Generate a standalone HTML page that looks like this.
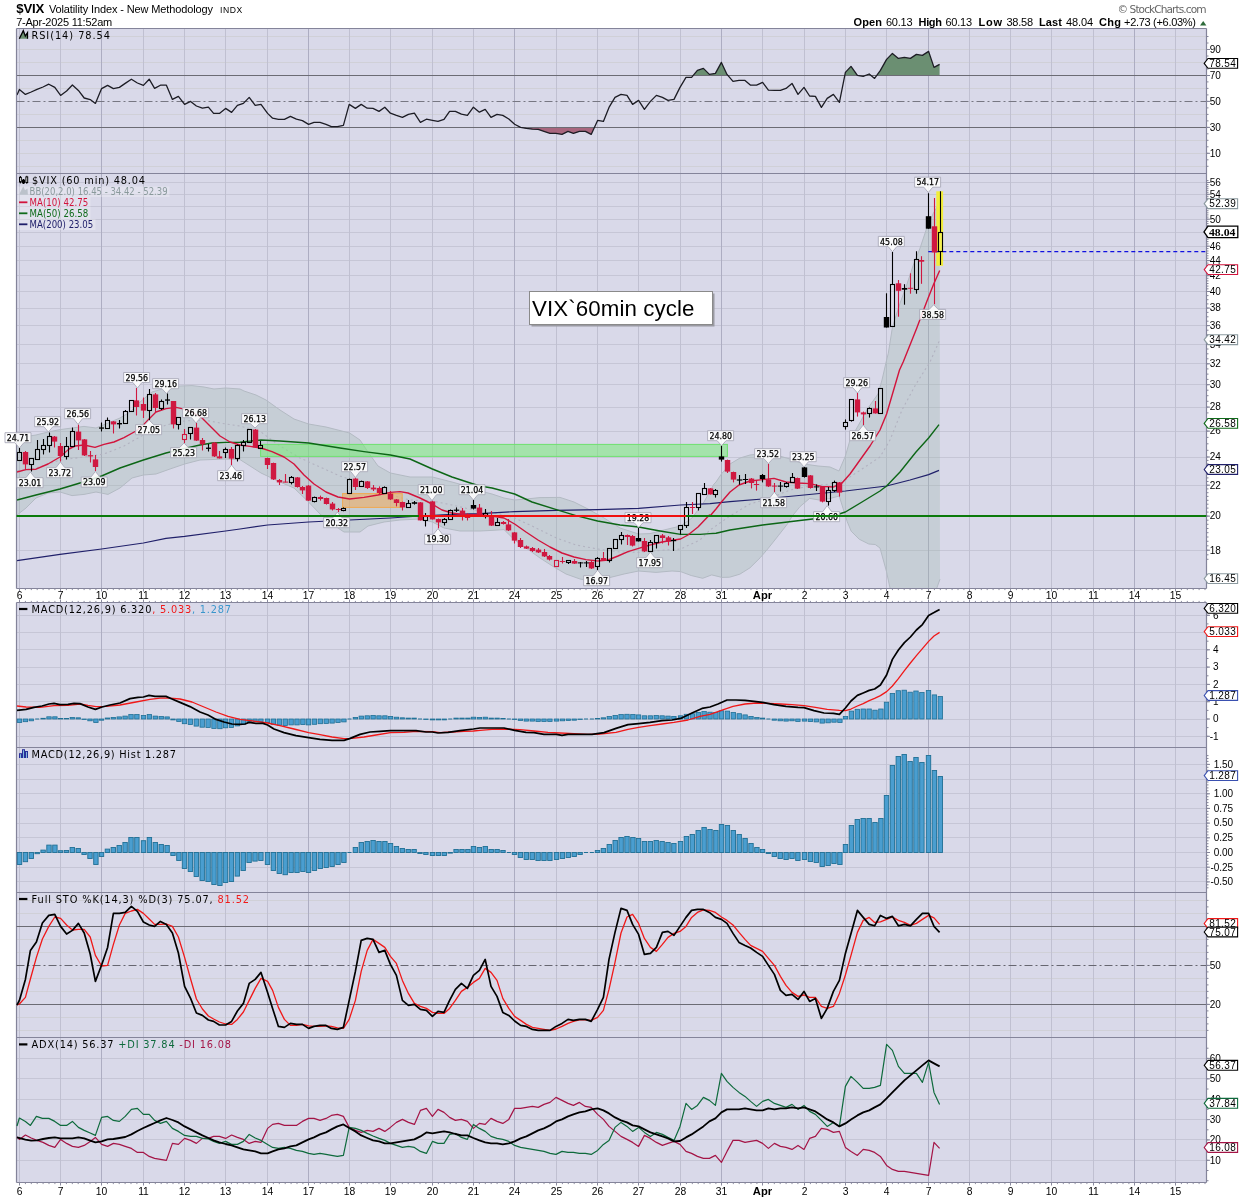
<!DOCTYPE html>
<html><head><meta charset="utf-8"><title>$VIX</title><style>html,body{margin:0;padding:0;background:#fff}svg text{white-space:pre}</style></head><body>
<svg width="1250" height="1200" viewBox="0 0 1250 1200" style="display:block">
<rect width="1250" height="1200" fill="#fff"/>
<rect x="16.5" y="28.5" width="1190.0" height="560.0" fill="#d9d9e9"/>
<rect x="16.5" y="602.5" width="1190.0" height="580.0" fill="#d9d9e9"/>
<line x1="16.5" y1="36.5" x2="1206.5" y2="36.5" stroke="#d0d0d7" stroke-width="1" />
<line x1="16.5" y1="49.5" x2="1206.5" y2="49.5" stroke="#d0d0d7" stroke-width="1" />
<line x1="16.5" y1="62.5" x2="1206.5" y2="62.5" stroke="#d0d0d7" stroke-width="1" />
<line x1="16.5" y1="88.5" x2="1206.5" y2="88.5" stroke="#d0d0d7" stroke-width="1" />
<line x1="16.5" y1="114.5" x2="1206.5" y2="114.5" stroke="#d0d0d7" stroke-width="1" />
<line x1="16.5" y1="140.5" x2="1206.5" y2="140.5" stroke="#d0d0d7" stroke-width="1" />
<line x1="16.5" y1="153.5" x2="1206.5" y2="153.5" stroke="#d0d0d7" stroke-width="1" />
<line x1="16.5" y1="166.5" x2="1206.5" y2="166.5" stroke="#d0d0d7" stroke-width="1" />
<line x1="16.5" y1="550.5" x2="1206.5" y2="550.5" stroke="#c6c6d6" stroke-width="1" />
<line x1="16.5" y1="516.5" x2="1206.5" y2="516.5" stroke="#c6c6d6" stroke-width="1" />
<line x1="16.5" y1="485.5" x2="1206.5" y2="485.5" stroke="#c6c6d6" stroke-width="1" />
<line x1="16.5" y1="457.5" x2="1206.5" y2="457.5" stroke="#c6c6d6" stroke-width="1" />
<line x1="16.5" y1="431.5" x2="1206.5" y2="431.5" stroke="#c6c6d6" stroke-width="1" />
<line x1="16.5" y1="407.5" x2="1206.5" y2="407.5" stroke="#c6c6d6" stroke-width="1" />
<line x1="16.5" y1="384.5" x2="1206.5" y2="384.5" stroke="#c6c6d6" stroke-width="1" />
<line x1="16.5" y1="363.5" x2="1206.5" y2="363.5" stroke="#c6c6d6" stroke-width="1" />
<line x1="16.5" y1="344.5" x2="1206.5" y2="344.5" stroke="#c6c6d6" stroke-width="1" />
<line x1="16.5" y1="325.5" x2="1206.5" y2="325.5" stroke="#c6c6d6" stroke-width="1" />
<line x1="16.5" y1="308.5" x2="1206.5" y2="308.5" stroke="#c6c6d6" stroke-width="1" />
<line x1="16.5" y1="291.5" x2="1206.5" y2="291.5" stroke="#c6c6d6" stroke-width="1" />
<line x1="16.5" y1="275.5" x2="1206.5" y2="275.5" stroke="#c6c6d6" stroke-width="1" />
<line x1="16.5" y1="260.5" x2="1206.5" y2="260.5" stroke="#c6c6d6" stroke-width="1" />
<line x1="16.5" y1="246.5" x2="1206.5" y2="246.5" stroke="#c6c6d6" stroke-width="1" />
<line x1="16.5" y1="232.5" x2="1206.5" y2="232.5" stroke="#c6c6d6" stroke-width="1" />
<line x1="16.5" y1="219.5" x2="1206.5" y2="219.5" stroke="#c6c6d6" stroke-width="1" />
<line x1="16.5" y1="206.5" x2="1206.5" y2="206.5" stroke="#c6c6d6" stroke-width="1" />
<line x1="16.5" y1="194.5" x2="1206.5" y2="194.5" stroke="#c6c6d6" stroke-width="1" />
<line x1="16.5" y1="182.5" x2="1206.5" y2="182.5" stroke="#c6c6d6" stroke-width="1" />
<line x1="16.5" y1="736.5" x2="1206.5" y2="736.5" stroke="#c6c6d6" stroke-width="1" />
<line x1="16.5" y1="719.5" x2="1206.5" y2="719.5" stroke="#c6c6d6" stroke-width="1" />
<line x1="16.5" y1="701.5" x2="1206.5" y2="701.5" stroke="#c6c6d6" stroke-width="1" />
<line x1="16.5" y1="684.5" x2="1206.5" y2="684.5" stroke="#c6c6d6" stroke-width="1" />
<line x1="16.5" y1="667.5" x2="1206.5" y2="667.5" stroke="#c6c6d6" stroke-width="1" />
<line x1="16.5" y1="649.5" x2="1206.5" y2="649.5" stroke="#c6c6d6" stroke-width="1" />
<line x1="16.5" y1="632.5" x2="1206.5" y2="632.5" stroke="#c6c6d6" stroke-width="1" />
<line x1="16.5" y1="615.5" x2="1206.5" y2="615.5" stroke="#c6c6d6" stroke-width="1" />
<line x1="16.5" y1="881.5" x2="1206.5" y2="881.5" stroke="#c6c6d6" stroke-width="1" />
<line x1="16.5" y1="867.5" x2="1206.5" y2="867.5" stroke="#c6c6d6" stroke-width="1" />
<line x1="16.5" y1="852.5" x2="1206.5" y2="852.5" stroke="#c6c6d6" stroke-width="1" />
<line x1="16.5" y1="837.5" x2="1206.5" y2="837.5" stroke="#c6c6d6" stroke-width="1" />
<line x1="16.5" y1="823.5" x2="1206.5" y2="823.5" stroke="#c6c6d6" stroke-width="1" />
<line x1="16.5" y1="808.5" x2="1206.5" y2="808.5" stroke="#c6c6d6" stroke-width="1" />
<line x1="16.5" y1="793.5" x2="1206.5" y2="793.5" stroke="#c6c6d6" stroke-width="1" />
<line x1="16.5" y1="779.5" x2="1206.5" y2="779.5" stroke="#c6c6d6" stroke-width="1" />
<line x1="16.5" y1="764.5" x2="1206.5" y2="764.5" stroke="#c6c6d6" stroke-width="1" />
<line x1="16.5" y1="900.5" x2="1206.5" y2="900.5" stroke="#d0d0d7" stroke-width="1" />
<line x1="16.5" y1="913.5" x2="1206.5" y2="913.5" stroke="#d0d0d7" stroke-width="1" />
<line x1="16.5" y1="939.5" x2="1206.5" y2="939.5" stroke="#d0d0d7" stroke-width="1" />
<line x1="16.5" y1="952.5" x2="1206.5" y2="952.5" stroke="#d0d0d7" stroke-width="1" />
<line x1="16.5" y1="978.5" x2="1206.5" y2="978.5" stroke="#d0d0d7" stroke-width="1" />
<line x1="16.5" y1="991.5" x2="1206.5" y2="991.5" stroke="#d0d0d7" stroke-width="1" />
<line x1="16.5" y1="1017.5" x2="1206.5" y2="1017.5" stroke="#d0d0d7" stroke-width="1" />
<line x1="16.5" y1="1030.5" x2="1206.5" y2="1030.5" stroke="#d0d0d7" stroke-width="1" />
<line x1="16.5" y1="1160.5" x2="1206.5" y2="1160.5" stroke="#c6c6d6" stroke-width="1" />
<line x1="16.5" y1="1139.5" x2="1206.5" y2="1139.5" stroke="#c6c6d6" stroke-width="1" />
<line x1="16.5" y1="1119.5" x2="1206.5" y2="1119.5" stroke="#c6c6d6" stroke-width="1" />
<line x1="16.5" y1="1099.5" x2="1206.5" y2="1099.5" stroke="#c6c6d6" stroke-width="1" />
<line x1="16.5" y1="1078.5" x2="1206.5" y2="1078.5" stroke="#c6c6d6" stroke-width="1" />
<line x1="16.5" y1="1058.5" x2="1206.5" y2="1058.5" stroke="#c6c6d6" stroke-width="1" />
<line x1="19.5" y1="28.5" x2="19.5" y2="588.5" stroke="#c0c0d1" stroke-width="1" />
<line x1="60.5" y1="28.5" x2="60.5" y2="588.5" stroke="#c0c0d1" stroke-width="1" />
<line x1="101.5" y1="28.5" x2="101.5" y2="588.5" stroke="#adadc2" stroke-width="1" />
<line x1="143.5" y1="28.5" x2="143.5" y2="588.5" stroke="#c0c0d1" stroke-width="1" />
<line x1="184.5" y1="28.5" x2="184.5" y2="588.5" stroke="#c0c0d1" stroke-width="1" />
<line x1="225.5" y1="28.5" x2="225.5" y2="588.5" stroke="#c0c0d1" stroke-width="1" />
<line x1="267.5" y1="28.5" x2="267.5" y2="588.5" stroke="#c0c0d1" stroke-width="1" />
<line x1="308.5" y1="28.5" x2="308.5" y2="588.5" stroke="#adadc2" stroke-width="1" />
<line x1="349.5" y1="28.5" x2="349.5" y2="588.5" stroke="#c0c0d1" stroke-width="1" />
<line x1="390.5" y1="28.5" x2="390.5" y2="588.5" stroke="#c0c0d1" stroke-width="1" />
<line x1="432.5" y1="28.5" x2="432.5" y2="588.5" stroke="#c0c0d1" stroke-width="1" />
<line x1="473.5" y1="28.5" x2="473.5" y2="588.5" stroke="#c0c0d1" stroke-width="1" />
<line x1="514.5" y1="28.5" x2="514.5" y2="588.5" stroke="#adadc2" stroke-width="1" />
<line x1="556.5" y1="28.5" x2="556.5" y2="588.5" stroke="#c0c0d1" stroke-width="1" />
<line x1="597.5" y1="28.5" x2="597.5" y2="588.5" stroke="#c0c0d1" stroke-width="1" />
<line x1="638.5" y1="28.5" x2="638.5" y2="588.5" stroke="#c0c0d1" stroke-width="1" />
<line x1="680.5" y1="28.5" x2="680.5" y2="588.5" stroke="#c0c0d1" stroke-width="1" />
<line x1="721.5" y1="28.5" x2="721.5" y2="588.5" stroke="#adadc2" stroke-width="1" />
<line x1="762.5" y1="28.5" x2="762.5" y2="588.5" stroke="#c0c0d1" stroke-width="1" />
<line x1="804.5" y1="28.5" x2="804.5" y2="588.5" stroke="#c0c0d1" stroke-width="1" />
<line x1="845.5" y1="28.5" x2="845.5" y2="588.5" stroke="#c0c0d1" stroke-width="1" />
<line x1="886.5" y1="28.5" x2="886.5" y2="588.5" stroke="#c0c0d1" stroke-width="1" />
<line x1="928.5" y1="28.5" x2="928.5" y2="588.5" stroke="#adadc2" stroke-width="1" />
<line x1="969.5" y1="28.5" x2="969.5" y2="588.5" stroke="#c0c0d1" stroke-width="1" />
<line x1="1010.5" y1="28.5" x2="1010.5" y2="588.5" stroke="#c0c0d1" stroke-width="1" />
<line x1="1051.5" y1="28.5" x2="1051.5" y2="588.5" stroke="#c0c0d1" stroke-width="1" />
<line x1="1093.5" y1="28.5" x2="1093.5" y2="588.5" stroke="#c0c0d1" stroke-width="1" />
<line x1="1134.5" y1="28.5" x2="1134.5" y2="588.5" stroke="#adadc2" stroke-width="1" />
<line x1="1175.5" y1="28.5" x2="1175.5" y2="588.5" stroke="#c0c0d1" stroke-width="1" />
<line x1="19.5" y1="602.5" x2="19.5" y2="1182.5" stroke="#c0c0d1" stroke-width="1" />
<line x1="60.5" y1="602.5" x2="60.5" y2="1182.5" stroke="#c0c0d1" stroke-width="1" />
<line x1="101.5" y1="602.5" x2="101.5" y2="1182.5" stroke="#adadc2" stroke-width="1" />
<line x1="143.5" y1="602.5" x2="143.5" y2="1182.5" stroke="#c0c0d1" stroke-width="1" />
<line x1="184.5" y1="602.5" x2="184.5" y2="1182.5" stroke="#c0c0d1" stroke-width="1" />
<line x1="225.5" y1="602.5" x2="225.5" y2="1182.5" stroke="#c0c0d1" stroke-width="1" />
<line x1="267.5" y1="602.5" x2="267.5" y2="1182.5" stroke="#c0c0d1" stroke-width="1" />
<line x1="308.5" y1="602.5" x2="308.5" y2="1182.5" stroke="#adadc2" stroke-width="1" />
<line x1="349.5" y1="602.5" x2="349.5" y2="1182.5" stroke="#c0c0d1" stroke-width="1" />
<line x1="390.5" y1="602.5" x2="390.5" y2="1182.5" stroke="#c0c0d1" stroke-width="1" />
<line x1="432.5" y1="602.5" x2="432.5" y2="1182.5" stroke="#c0c0d1" stroke-width="1" />
<line x1="473.5" y1="602.5" x2="473.5" y2="1182.5" stroke="#c0c0d1" stroke-width="1" />
<line x1="514.5" y1="602.5" x2="514.5" y2="1182.5" stroke="#adadc2" stroke-width="1" />
<line x1="556.5" y1="602.5" x2="556.5" y2="1182.5" stroke="#c0c0d1" stroke-width="1" />
<line x1="597.5" y1="602.5" x2="597.5" y2="1182.5" stroke="#c0c0d1" stroke-width="1" />
<line x1="638.5" y1="602.5" x2="638.5" y2="1182.5" stroke="#c0c0d1" stroke-width="1" />
<line x1="680.5" y1="602.5" x2="680.5" y2="1182.5" stroke="#c0c0d1" stroke-width="1" />
<line x1="721.5" y1="602.5" x2="721.5" y2="1182.5" stroke="#adadc2" stroke-width="1" />
<line x1="762.5" y1="602.5" x2="762.5" y2="1182.5" stroke="#c0c0d1" stroke-width="1" />
<line x1="804.5" y1="602.5" x2="804.5" y2="1182.5" stroke="#c0c0d1" stroke-width="1" />
<line x1="845.5" y1="602.5" x2="845.5" y2="1182.5" stroke="#c0c0d1" stroke-width="1" />
<line x1="886.5" y1="602.5" x2="886.5" y2="1182.5" stroke="#c0c0d1" stroke-width="1" />
<line x1="928.5" y1="602.5" x2="928.5" y2="1182.5" stroke="#adadc2" stroke-width="1" />
<line x1="969.5" y1="602.5" x2="969.5" y2="1182.5" stroke="#c0c0d1" stroke-width="1" />
<line x1="1010.5" y1="602.5" x2="1010.5" y2="1182.5" stroke="#c0c0d1" stroke-width="1" />
<line x1="1051.5" y1="602.5" x2="1051.5" y2="1182.5" stroke="#c0c0d1" stroke-width="1" />
<line x1="1093.5" y1="602.5" x2="1093.5" y2="1182.5" stroke="#c0c0d1" stroke-width="1" />
<line x1="1134.5" y1="602.5" x2="1134.5" y2="1182.5" stroke="#adadc2" stroke-width="1" />
<line x1="1175.5" y1="602.5" x2="1175.5" y2="1182.5" stroke="#c0c0d1" stroke-width="1" />
<clipPath id="c70"><rect x="0" y="0" width="1250" height="75.5"/></clipPath>
<clipPath id="c30"><rect x="0" y="127.5" width="1250" height="200"/></clipPath>
<polygon points="17,75.5 17,95 19.4,89.4 25.4,94.4 31.2,92 37,89.4 43,87 48.8,84.2 54.8,87.4 60.6,95.4 66.6,91 72.4,85 78.4,90.4 84.2,98 90.2,99.6 95.4,103.4 101.6,88.6 107.6,85.4 113.4,88.6 119.4,87.4 125.2,83.4 131.4,79.2 137.4,83 143.4,85.4 149.2,79.2 154.6,88.4 160.4,85.2 166.4,85.2 172.4,99.4 178.4,96.4 184.6,104.4 190.6,101.4 196.4,106 202.4,108.2 208.4,107.2 213.6,113.4 219.4,113.4 225.6,108.4 231.6,112.4 237.4,105.4 243.4,103.4 249.2,97.4 255.2,105.4 261,104.4 267.6,113.4 272.6,118.2 278.4,119.4 284.4,119.4 290.4,116.4 296.4,119.2 302.4,120.6 308.6,124.4 314,122.4 320,122.4 326,124.4 331.4,126.6 337.4,126.6 343.4,125.4 349.2,104.4 355.4,108.4 361.2,104.4 367.2,108.2 373,108.4 379,111.4 384.8,107.2 390.4,113.2 396.4,115.4 402.4,117.4 408.4,114.4 414.4,113.2 420.4,122.4 426.4,119.2 432.4,120.4 438,121.4 444,119.4 449.6,111.4 455.4,111.4 461.4,114.2 467.4,115.4 473.4,107.2 479.4,112.2 485.2,109.4 491,117.4 497,114.4 502.8,115.4 508.8,119 514.6,124.2 520.6,127.4 526.4,128.4 532.4,129.2 538.2,129.4 544,131.4 550,133.4 556,133.4 562,134.4 568,131.4 573.4,133.4 579.4,131.4 585.4,131.4 591.2,134.4 597.6,120.4 603.4,121.4 609,107.4 615,97.4 621,94.4 627,95.4 632.6,104.4 638.6,100.4 644.4,109.4 650.4,101.4 656.4,95.4 662.4,97.4 668,100.4 674,99.4 680,87.4 686,77.4 691.6,77.4 697.4,70.4 703.4,68.4 709.4,74.4 715.4,73.4 721.4,62.4 727,74.4 733,81.4 739,80.4 745,80.4 750.6,85.2 756.6,85.2 762.6,82.4 768.4,90.2 774.4,90.4 780.4,90.4 786,88.4 792,83.4 798,94.4 804,87.4 809.6,96 815.4,96.4 821.4,107.4 827.2,98.4 833.4,94.4 839.4,102.4 845.4,72.4 851,66.4 857.4,75.4 863.2,76.4 869.2,74 874.6,78.4 880.4,70.4 886.6,59.4 892.4,53.4 898.4,58.4 904.4,57.4 910.4,58.4 916.4,54.4 922.4,55.4 928.6,51.4 934,67.4 939.6,64.4 939.6,75.5" fill="#6b8f72" clip-path="url(#c70)"/>
<polygon points="17,127.5 17,95 19.4,89.4 25.4,94.4 31.2,92 37,89.4 43,87 48.8,84.2 54.8,87.4 60.6,95.4 66.6,91 72.4,85 78.4,90.4 84.2,98 90.2,99.6 95.4,103.4 101.6,88.6 107.6,85.4 113.4,88.6 119.4,87.4 125.2,83.4 131.4,79.2 137.4,83 143.4,85.4 149.2,79.2 154.6,88.4 160.4,85.2 166.4,85.2 172.4,99.4 178.4,96.4 184.6,104.4 190.6,101.4 196.4,106 202.4,108.2 208.4,107.2 213.6,113.4 219.4,113.4 225.6,108.4 231.6,112.4 237.4,105.4 243.4,103.4 249.2,97.4 255.2,105.4 261,104.4 267.6,113.4 272.6,118.2 278.4,119.4 284.4,119.4 290.4,116.4 296.4,119.2 302.4,120.6 308.6,124.4 314,122.4 320,122.4 326,124.4 331.4,126.6 337.4,126.6 343.4,125.4 349.2,104.4 355.4,108.4 361.2,104.4 367.2,108.2 373,108.4 379,111.4 384.8,107.2 390.4,113.2 396.4,115.4 402.4,117.4 408.4,114.4 414.4,113.2 420.4,122.4 426.4,119.2 432.4,120.4 438,121.4 444,119.4 449.6,111.4 455.4,111.4 461.4,114.2 467.4,115.4 473.4,107.2 479.4,112.2 485.2,109.4 491,117.4 497,114.4 502.8,115.4 508.8,119 514.6,124.2 520.6,127.4 526.4,128.4 532.4,129.2 538.2,129.4 544,131.4 550,133.4 556,133.4 562,134.4 568,131.4 573.4,133.4 579.4,131.4 585.4,131.4 591.2,134.4 597.6,120.4 603.4,121.4 609,107.4 615,97.4 621,94.4 627,95.4 632.6,104.4 638.6,100.4 644.4,109.4 650.4,101.4 656.4,95.4 662.4,97.4 668,100.4 674,99.4 680,87.4 686,77.4 691.6,77.4 697.4,70.4 703.4,68.4 709.4,74.4 715.4,73.4 721.4,62.4 727,74.4 733,81.4 739,80.4 745,80.4 750.6,85.2 756.6,85.2 762.6,82.4 768.4,90.2 774.4,90.4 780.4,90.4 786,88.4 792,83.4 798,94.4 804,87.4 809.6,96 815.4,96.4 821.4,107.4 827.2,98.4 833.4,94.4 839.4,102.4 845.4,72.4 851,66.4 857.4,75.4 863.2,76.4 869.2,74 874.6,78.4 880.4,70.4 886.6,59.4 892.4,53.4 898.4,58.4 904.4,57.4 910.4,58.4 916.4,54.4 922.4,55.4 928.6,51.4 934,67.4 939.6,64.4 939.6,127.5" fill="#a8667e" clip-path="url(#c30)"/>
<line x1="16.5" y1="75.5" x2="1206.5" y2="75.5" stroke="#6c6c74" stroke-width="1.2" />
<line x1="16.5" y1="127.5" x2="1206.5" y2="127.5" stroke="#6c6c74" stroke-width="1.2" />
<line x1="16.5" y1="101.5" x2="1206.5" y2="101.5" stroke="#777782" stroke-width="1" stroke-dasharray="8 3 2 3"/>
<polyline points="17,95 19.4,89.4 25.4,94.4 31.2,92 37,89.4 43,87 48.8,84.2 54.8,87.4 60.6,95.4 66.6,91 72.4,85 78.4,90.4 84.2,98 90.2,99.6 95.4,103.4 101.6,88.6 107.6,85.4 113.4,88.6 119.4,87.4 125.2,83.4 131.4,79.2 137.4,83 143.4,85.4 149.2,79.2 154.6,88.4 160.4,85.2 166.4,85.2 172.4,99.4 178.4,96.4 184.6,104.4 190.6,101.4 196.4,106 202.4,108.2 208.4,107.2 213.6,113.4 219.4,113.4 225.6,108.4 231.6,112.4 237.4,105.4 243.4,103.4 249.2,97.4 255.2,105.4 261,104.4 267.6,113.4 272.6,118.2 278.4,119.4 284.4,119.4 290.4,116.4 296.4,119.2 302.4,120.6 308.6,124.4 314,122.4 320,122.4 326,124.4 331.4,126.6 337.4,126.6 343.4,125.4 349.2,104.4 355.4,108.4 361.2,104.4 367.2,108.2 373,108.4 379,111.4 384.8,107.2 390.4,113.2 396.4,115.4 402.4,117.4 408.4,114.4 414.4,113.2 420.4,122.4 426.4,119.2 432.4,120.4 438,121.4 444,119.4 449.6,111.4 455.4,111.4 461.4,114.2 467.4,115.4 473.4,107.2 479.4,112.2 485.2,109.4 491,117.4 497,114.4 502.8,115.4 508.8,119 514.6,124.2 520.6,127.4 526.4,128.4 532.4,129.2 538.2,129.4 544,131.4 550,133.4 556,133.4 562,134.4 568,131.4 573.4,133.4 579.4,131.4 585.4,131.4 591.2,134.4 597.6,120.4 603.4,121.4 609,107.4 615,97.4 621,94.4 627,95.4 632.6,104.4 638.6,100.4 644.4,109.4 650.4,101.4 656.4,95.4 662.4,97.4 668,100.4 674,99.4 680,87.4 686,77.4 691.6,77.4 697.4,70.4 703.4,68.4 709.4,74.4 715.4,73.4 721.4,62.4 727,74.4 733,81.4 739,80.4 745,80.4 750.6,85.2 756.6,85.2 762.6,82.4 768.4,90.2 774.4,90.4 780.4,90.4 786,88.4 792,83.4 798,94.4 804,87.4 809.6,96 815.4,96.4 821.4,107.4 827.2,98.4 833.4,94.4 839.4,102.4 845.4,72.4 851,66.4 857.4,75.4 863.2,76.4 869.2,74 874.6,78.4 880.4,70.4 886.6,59.4 892.4,53.4 898.4,58.4 904.4,57.4 910.4,58.4 916.4,54.4 922.4,55.4 928.6,51.4 934,67.4 939.6,64.4" fill="none" stroke="#1c1c24" stroke-width="1.3" stroke-linejoin="round" />
<clipPath id="cp"><rect x="16.5" y="173" width="1190.0" height="415.5"/></clipPath>
<g clip-path="url(#cp)">
<polygon points="17,438 36,435 48,432 60,429.6 84,426.4 96,428 108,423 120,418 130,412 140,402 152,392 166,388 180,386 192,385.6 204,387 214,389 225.6,388 240,389 244,391 256,395 266,400 280,410 294,419 308.6,424 326,427 349.6,433 360,440 368,452 378,466 390.4,473 410,477 432.4,477 452,482 473.4,488 480,491 492,494 504,498 514.6,500 526,499 540,497.6 560,497.4 574,502 588,509 604,518 620,528 638.6,534 650,533.6 664,530 680.6,526 692,518 704,502 714,484 716,482 721.4,474 730,464 740,458 750,455 762.6,453.6 776,455 790,459 804,464 818,466 830,467 839,471 845.4,456 850,440 858,426 868,408 878,394 882,380 886.6,360 888.3,353.3 892.5,326.7 900,303.3 906.7,285 913.3,265 920,248.3 926.7,228.3 933.3,213.3 939.7,202.5 940,579.2 936.8,588 932,640 895,640 890,588 886.4,571.2 880,548 875.2,544.5 868.8,544 859.2,539.2 851.2,531.2 847.2,521.6 843.2,508.8 839.2,496 830.4,498.4 819.2,500 809.6,498.4 800,506.6 792,516.4 787.2,524.3 778.2,535.8 768,548.6 760.3,557.6 750,567.8 739.8,574.2 729.6,577.2 721.9,577.4 711.7,574.9 702.7,578.3 691.2,575.5 680.6,571.6 672,571 656,572.4 638.6,571 624,574 608,578 592,581 580,579 566,574 554,567 540,558 526,548 514.6,540 504,529.6 492,530.4 480,531 460,531 444,528 432.4,522 420,519 400,520 384,522 368,526 360,532 344,532 332,524 320,514 308.6,502 294,488 280,482 261,473 240,459.6 225.6,459 200,460 184.6,464 170,469 156,474 143.4,475 132,478 120,488 108,494.4 96,492 84,494.4 72,495.6 60,492 48,493 36,498 26,508 17,515" fill="rgba(150,178,165,0.28)" stroke="none"/>
<polyline points="17,438 36,435 48,432 60,429.6 84,426.4 96,428 108,423 120,418 130,412 140,402 152,392 166,388 180,386 192,385.6 204,387 214,389 225.6,388 240,389 244,391 256,395 266,400 280,410 294,419 308.6,424 326,427 349.6,433 360,440 368,452 378,466 390.4,473 410,477 432.4,477 452,482 473.4,488 480,491 492,494 504,498 514.6,500 526,499 540,497.6 560,497.4 574,502 588,509 604,518 620,528 638.6,534 650,533.6 664,530 680.6,526 692,518 704,502 714,484 716,482 721.4,474 730,464 740,458 750,455 762.6,453.6 776,455 790,459 804,464 818,466 830,467 839,471 845.4,456 850,440 858,426 868,408 878,394 882,380 886.6,360 888.3,353.3 892.5,326.7 900,303.3 906.7,285 913.3,265 920,248.3 926.7,228.3 933.3,213.3 939.7,202.5" fill="none" stroke="#b3bac3" stroke-width="1" stroke-linejoin="round" />
<polyline points="17,515 26,508 36,498 48,493 60,492 72,495.6 84,494.4 96,492 108,494.4 120,488 132,478 143.4,475 156,474 170,469 184.6,464 200,460 225.6,459 240,459.6 261,473 280,482 294,488 308.6,502 320,514 332,524 344,532 360,532 368,526 384,522 400,520 420,519 432.4,522 444,528 460,531 480,531 492,530.4 504,529.6 514.6,540 526,548 540,558 554,567 566,574 580,579 592,581 608,578 624,574 638.6,571 656,572.4 672,571 680.6,571.6 691.2,575.5 702.7,578.3 711.7,574.9 721.9,577.4 729.6,577.2 739.8,574.2 750,567.8 760.3,557.6 768,548.6 778.2,535.8 787.2,524.3 792,516.4 800,506.6 809.6,498.4 819.2,500 830.4,498.4 839.2,496 843.2,508.8 847.2,521.6 851.2,531.2 859.2,539.2 868.8,544 875.2,544.5 880,548 886.4,571.2 890,588 895,640 932,640 936.8,588 940,579.2" fill="none" stroke="#b3bac3" stroke-width="1" stroke-linejoin="round" />
<polyline points="17,471 36,468 60,460 84,457 104,454 124,446 143.4,435 166,425 184.6,421 204,420 225.6,424 240,426 261,432 280,446 300,458 320,467 340,476 364,484 390.4,495 410,500 432.4,501 452,505 473.4,510 480,510.4 500,514 514.6,518 532,526 556.4,538 576,545 597.6,549 620,552 638.6,552.4 660,550.4 680.6,549 700,540 710,530 730,516 750,504 770,498 790,490 810,486 830,484 845.4,480 862,469 880,457 890,440 902,410 916,384 930,362 939.7,340" fill="none" stroke="#b2b2c0" stroke-width="1.1" stroke-linejoin="round" stroke-dasharray="2 3"/>
<rect x="260.6" y="444.4" width="466.8" height="12" fill="rgba(120,235,120,0.55)" stroke="#6fe06f" stroke-width="1"/>
<rect x="342.6" y="493.6" width="59.6" height="13.8" fill="rgba(240,170,90,0.55)" stroke="#f0a850" stroke-width="1"/>
<polyline points="17,560.6 60,554.4 101.6,549 143.4,543 166,538.4 184.6,536.4 225.6,531 240,529 267.6,525 308.6,522 349.6,520 390.4,518 420,516 452,514.4 480,513.6 514.6,511.6 556.4,510.4 597.6,509.6 638.6,508.4 680.6,505 710,503.6 730,501.6 762.6,499 804,495 845.4,491 886.6,486 910,480 928.6,474.6 939,470.4" fill="none" stroke="#20206a" stroke-width="1.2" stroke-linejoin="round" />
<polyline points="17,500 36,495 60,489 80,483 101.6,476 120,468 143.4,460 166,453 184.6,448.4 200,445 212,443 225.6,442.4 240,442.2 261,440 280,441 308.6,443 340,448 364,451.6 390.4,455 410,459 432.4,469 452,477 473.4,484 480,486 492,488 514.6,494 532,502 556.4,509.6 576,515.6 597.6,521 620,525 638.6,527 660,531 680.6,534.4 700,534.4 710,533.6 716,533.2 730,530 762.6,525 804,520 830,517 845.4,512 862,502 880,491 886.6,486 900,472 916,452 928.6,438 939,424.6" fill="none" stroke="#0c6616" stroke-width="1.4" stroke-linejoin="round" />
<polyline points="17,472 26,469.6 36,469.2 48,464 60,457 69,449 75,446 84,445 95,447.4 104,444.4 114,442 124,437.6 136,431 143.4,425 150,418 156,412 166,408.6 176,407.4 182,408.6 192,412 202,418 212,428 220,436 230,442 240,445 250,446.4 261,448 272,451.6 284,457 294,464 304,475 314,484 326,492 338,497 349.6,499 364,497.4 378,495 390.4,492.4 400,491.6 408,493 420,498 432,504 442,510 452,513 462,514.4 473.4,514.6 480,514.4 492,516 504,518 514.6,524 526,532 538,540 550,547 562,553 574,557 586,559.6 597.6,561 608,560 618,556 628,551.6 638.6,548.4 650,545 662,542 674,540 680.6,539 688,535 698,527 709.4,515 710,516 716,509 721.4,502 730,492 739,485 750,481 762.6,479.6 774,478.4 786,482 798,483 810,483.6 821.4,486.4 833.4,487 842,483 850,474 860,460 870,446 880,430 886.6,414 899.5,370 903.3,361.7 916.7,328.3 926.7,301.7 933.3,285 939.7,270.5" fill="none" stroke="#d2143c" stroke-width="1.4" stroke-linejoin="round" />
<rect x="936.3" y="191.3" width="6.8" height="74.5" fill="#f2ee3a"/>
<line x1="928.3" y1="251.7" x2="1206.5" y2="251.7" stroke="#1010e0" stroke-width="1.2" stroke-dasharray="4 3"/>
<line x1="19.5" y1="448" x2="19.5" y2="452.5" stroke="#000" stroke-width="1.1" />
<rect x="17.5" y="452.5" width="4" height="8" fill="rgba(255,255,255,0.12)" stroke="#000" stroke-width="1.1"/>
<line x1="25.5" y1="451" x2="25.5" y2="470" stroke="#cf1840" stroke-width="1.1" />
<rect x="22.8" y="452" width="5.4" height="12.4" fill="#cf1840"/>
<line x1="31.5" y1="464.5" x2="31.5" y2="471.6" stroke="#000" stroke-width="1.1" />
<rect x="29.5" y="458.5" width="4" height="6" fill="rgba(255,255,255,0.12)" stroke="#000" stroke-width="1.1"/>
<line x1="37.5" y1="440" x2="37.5" y2="449.5" stroke="#000" stroke-width="1.1" />
<line x1="37.5" y1="459.5" x2="37.5" y2="460" stroke="#000" stroke-width="1.1" />
<rect x="35.5" y="449.5" width="4" height="10" fill="rgba(255,255,255,0.12)" stroke="#000" stroke-width="1.1"/>
<line x1="43.5" y1="439" x2="43.5" y2="445.5" stroke="#000" stroke-width="1.1" />
<line x1="43.5" y1="449.5" x2="43.5" y2="454.4" stroke="#000" stroke-width="1.1" />
<rect x="41.5" y="445.5" width="4" height="4" fill="rgba(255,255,255,0.12)" stroke="#000" stroke-width="1.1"/>
<line x1="49.5" y1="432.4" x2="49.5" y2="436.5" stroke="#000" stroke-width="1.1" />
<line x1="49.5" y1="445.5" x2="49.5" y2="452.4" stroke="#000" stroke-width="1.1" />
<rect x="47.5" y="436.5" width="4" height="9" fill="rgba(255,255,255,0.12)" stroke="#000" stroke-width="1.1"/>
<line x1="54.5" y1="436" x2="54.5" y2="447.6" stroke="#cf1840" stroke-width="1.1" />
<rect x="51.8" y="436.6" width="5.4" height="5" fill="#cf1840"/>
<line x1="60.5" y1="443" x2="60.5" y2="461.6" stroke="#cf1840" stroke-width="1.1" />
<rect x="57.8" y="446" width="5.4" height="10" fill="#cf1840"/>
<line x1="66.5" y1="437" x2="66.5" y2="446.5" stroke="#000" stroke-width="1.1" />
<line x1="66.5" y1="456.5" x2="66.5" y2="459.6" stroke="#000" stroke-width="1.1" />
<rect x="64.5" y="446.5" width="4" height="10" fill="rgba(255,255,255,0.12)" stroke="#000" stroke-width="1.1"/>
<line x1="72.5" y1="427.4" x2="72.5" y2="431.5" stroke="#000" stroke-width="1.1" />
<line x1="72.5" y1="446.5" x2="72.5" y2="447" stroke="#000" stroke-width="1.1" />
<rect x="70.5" y="431.5" width="4" height="15" fill="rgba(255,255,255,0.12)" stroke="#000" stroke-width="1.1"/>
<line x1="78.5" y1="424.4" x2="78.5" y2="450" stroke="#cf1840" stroke-width="1.1" />
<rect x="75.8" y="431.6" width="5.4" height="8.8" fill="#cf1840"/>
<line x1="84.5" y1="439" x2="84.5" y2="456" stroke="#cf1840" stroke-width="1.1" />
<rect x="81.8" y="439.4" width="5.4" height="16" fill="#cf1840"/>
<line x1="90.5" y1="451" x2="90.5" y2="462.4" stroke="#cf1840" stroke-width="1.1" />
<rect x="87.8" y="455.2" width="5.4" height="1.2" fill="#cf1840"/>
<line x1="95.5" y1="455" x2="95.5" y2="471" stroke="#cf1840" stroke-width="1.1" />
<rect x="92.8" y="459.4" width="5.4" height="7.6" fill="#cf1840"/>
<line x1="101.5" y1="422.4" x2="101.5" y2="431.6" stroke="#000" stroke-width="1.1" />
<rect x="99" y="427.4" width="5" height="1.3" fill="#000"/>
<line x1="107.5" y1="417.4" x2="107.5" y2="420.5" stroke="#000" stroke-width="1.1" />
<line x1="107.5" y1="428.5" x2="107.5" y2="429" stroke="#000" stroke-width="1.1" />
<rect x="105.5" y="420.5" width="4" height="8" fill="rgba(255,255,255,0.12)" stroke="#000" stroke-width="1.1"/>
<line x1="113.5" y1="421" x2="113.5" y2="433.6" stroke="#cf1840" stroke-width="1.1" />
<rect x="110.8" y="421.4" width="5.4" height="3" fill="#cf1840"/>
<line x1="119.5" y1="420" x2="119.5" y2="428.6" stroke="#000" stroke-width="1.1" />
<rect x="117" y="423" width="5" height="1.4" fill="#000"/>
<line x1="125.5" y1="410" x2="125.5" y2="411.5" stroke="#000" stroke-width="1.1" />
<rect x="123.5" y="411.5" width="4" height="12" fill="rgba(255,255,255,0.12)" stroke="#000" stroke-width="1.1"/>
<line x1="131.5" y1="400" x2="131.5" y2="400.5" stroke="#000" stroke-width="1.1" />
<rect x="129.5" y="400.5" width="4" height="11" fill="rgba(255,255,255,0.12)" stroke="#000" stroke-width="1.1"/>
<line x1="136.5" y1="388" x2="136.5" y2="415.6" stroke="#cf1840" stroke-width="1.1" />
<rect x="133.8" y="400.4" width="5.4" height="6.6" fill="#cf1840"/>
<line x1="143.5" y1="397.6" x2="143.5" y2="418" stroke="#cf1840" stroke-width="1.1" />
<rect x="140.8" y="404" width="5.4" height="6.6" fill="#cf1840"/>
<line x1="149.5" y1="389" x2="149.5" y2="394.5" stroke="#000" stroke-width="1.1" />
<line x1="149.5" y1="410.5" x2="149.5" y2="420" stroke="#000" stroke-width="1.1" />
<rect x="147.5" y="394.5" width="4" height="16" fill="rgba(255,255,255,0.12)" stroke="#000" stroke-width="1.1"/>
<line x1="155.5" y1="393" x2="155.5" y2="413" stroke="#cf1840" stroke-width="1.1" />
<rect x="152.8" y="394.4" width="5.4" height="13.6" fill="#cf1840"/>
<line x1="161.5" y1="399.4" x2="161.5" y2="401.5" stroke="#000" stroke-width="1.1" />
<line x1="161.5" y1="408.5" x2="161.5" y2="410" stroke="#000" stroke-width="1.1" />
<rect x="159.5" y="401.5" width="4" height="7" fill="rgba(255,255,255,0.12)" stroke="#000" stroke-width="1.1"/>
<line x1="167.5" y1="393.6" x2="167.5" y2="404.4" stroke="#000" stroke-width="1.1" />
<rect x="165" y="399.4" width="5" height="1.3" fill="#000"/>
<line x1="173.5" y1="401" x2="173.5" y2="428.6" stroke="#cf1840" stroke-width="1.1" />
<rect x="170.8" y="401" width="5.4" height="23.4" fill="#cf1840"/>
<line x1="178.5" y1="417" x2="178.5" y2="417.5" stroke="#000" stroke-width="1.1" />
<line x1="178.5" y1="424.5" x2="178.5" y2="429.6" stroke="#000" stroke-width="1.1" />
<rect x="176.5" y="417.5" width="4" height="7" fill="rgba(255,255,255,0.12)" stroke="#000" stroke-width="1.1"/>
<line x1="184.5" y1="429" x2="184.5" y2="434.5" stroke="#cf1840" stroke-width="1.1" />
<line x1="184.5" y1="439.5" x2="184.5" y2="443" stroke="#cf1840" stroke-width="1.1" />
<rect x="182.5" y="434.5" width="4" height="5" fill="rgba(255,255,255,0.12)" stroke="#cf1840" stroke-width="1.1"/>
<line x1="190.5" y1="427" x2="190.5" y2="427.5" stroke="#000" stroke-width="1.1" />
<line x1="190.5" y1="433.5" x2="190.5" y2="439.6" stroke="#000" stroke-width="1.1" />
<rect x="188.5" y="427.5" width="4" height="6" fill="rgba(255,255,255,0.12)" stroke="#000" stroke-width="1.1"/>
<line x1="196.5" y1="423" x2="196.5" y2="441" stroke="#cf1840" stroke-width="1.1" />
<rect x="193.8" y="427.6" width="5.4" height="13" fill="#cf1840"/>
<line x1="202.5" y1="438" x2="202.5" y2="450.4" stroke="#cf1840" stroke-width="1.1" />
<rect x="199.8" y="440" width="5.4" height="4.4" fill="#cf1840"/>
<line x1="208.5" y1="444" x2="208.5" y2="451.6" stroke="#000" stroke-width="1.1" />
<rect x="206" y="447.6" width="5" height="1.3" fill="#000"/>
<line x1="214.5" y1="442" x2="214.5" y2="457" stroke="#cf1840" stroke-width="1.1" />
<rect x="211.8" y="442.6" width="5.4" height="13.8" fill="#cf1840"/>
<line x1="219.5" y1="451" x2="219.5" y2="458.4" stroke="#cf1840" stroke-width="1.1" />
<rect x="216.8" y="456.4" width="5.4" height="2" fill="#cf1840"/>
<line x1="225.5" y1="447.6" x2="225.5" y2="449.5" stroke="#000" stroke-width="1.1" />
<line x1="225.5" y1="452.5" x2="225.5" y2="458" stroke="#000" stroke-width="1.1" />
<rect x="223.5" y="449.5" width="4" height="3" fill="rgba(255,255,255,0.12)" stroke="#000" stroke-width="1.1"/>
<line x1="231.5" y1="447" x2="231.5" y2="465" stroke="#cf1840" stroke-width="1.1" />
<rect x="228.8" y="449" width="5.4" height="9.6" fill="#cf1840"/>
<line x1="237.5" y1="444.4" x2="237.5" y2="445.5" stroke="#000" stroke-width="1.1" />
<line x1="237.5" y1="458.5" x2="237.5" y2="461.4" stroke="#000" stroke-width="1.1" />
<rect x="235.5" y="445.5" width="4" height="13" fill="rgba(255,255,255,0.12)" stroke="#000" stroke-width="1.1"/>
<line x1="243.5" y1="440" x2="243.5" y2="442.5" stroke="#000" stroke-width="1.1" />
<line x1="243.5" y1="445.5" x2="243.5" y2="451.6" stroke="#000" stroke-width="1.1" />
<rect x="241.5" y="442.5" width="4" height="3" fill="rgba(255,255,255,0.12)" stroke="#000" stroke-width="1.1"/>
<line x1="249.5" y1="442.5" x2="249.5" y2="443" stroke="#000" stroke-width="1.1" />
<rect x="247.5" y="429.5" width="4" height="13" fill="rgba(255,255,255,0.12)" stroke="#000" stroke-width="1.1"/>
<line x1="255.5" y1="429" x2="255.5" y2="448" stroke="#cf1840" stroke-width="1.1" />
<rect x="252.8" y="429.6" width="5.4" height="17.8" fill="#cf1840"/>
<line x1="260.5" y1="441" x2="260.5" y2="445.5" stroke="#000" stroke-width="1.1" />
<line x1="260.5" y1="448.5" x2="260.5" y2="449" stroke="#000" stroke-width="1.1" />
<rect x="258.5" y="445.5" width="4" height="3" fill="rgba(255,255,255,0.12)" stroke="#000" stroke-width="1.1"/>
<line x1="267.5" y1="457.6" x2="267.5" y2="469" stroke="#cf1840" stroke-width="1.1" />
<rect x="264.8" y="458" width="5.4" height="7" fill="#cf1840"/>
<line x1="273.5" y1="462.6" x2="273.5" y2="480" stroke="#cf1840" stroke-width="1.1" />
<rect x="270.8" y="463" width="5.4" height="16.4" fill="#cf1840"/>
<line x1="279.5" y1="479" x2="279.5" y2="485" stroke="#cf1840" stroke-width="1.1" />
<rect x="276.8" y="480" width="5.4" height="2.4" fill="#cf1840"/>
<line x1="285.5" y1="474" x2="285.5" y2="482.4" stroke="#cf1840" stroke-width="1.1" />
<rect x="282.8" y="481.6" width="5.4" height="1" fill="#cf1840"/>
<line x1="291.5" y1="476" x2="291.5" y2="477.5" stroke="#000" stroke-width="1.1" />
<line x1="291.5" y1="482.5" x2="291.5" y2="484.4" stroke="#000" stroke-width="1.1" />
<rect x="289.5" y="477.5" width="4" height="5" fill="rgba(255,255,255,0.12)" stroke="#000" stroke-width="1.1"/>
<line x1="297.5" y1="477" x2="297.5" y2="487.6" stroke="#cf1840" stroke-width="1.1" />
<rect x="294.8" y="477.4" width="5.4" height="9.6" fill="#cf1840"/>
<line x1="302.5" y1="486" x2="302.5" y2="494" stroke="#cf1840" stroke-width="1.1" />
<rect x="299.8" y="487" width="5.4" height="3.4" fill="#cf1840"/>
<line x1="308.5" y1="485" x2="308.5" y2="501" stroke="#cf1840" stroke-width="1.1" />
<rect x="305.8" y="485.6" width="5.4" height="15" fill="#cf1840"/>
<line x1="314.5" y1="496.6" x2="314.5" y2="497.5" stroke="#000" stroke-width="1.1" />
<line x1="314.5" y1="501.5" x2="314.5" y2="502.4" stroke="#000" stroke-width="1.1" />
<rect x="312.5" y="497.5" width="4" height="4" fill="rgba(255,255,255,0.12)" stroke="#000" stroke-width="1.1"/>
<line x1="320.5" y1="495.6" x2="320.5" y2="500.6" stroke="#cf1840" stroke-width="1.1" />
<rect x="317.8" y="497" width="5.4" height="2" fill="#cf1840"/>
<line x1="326.5" y1="497.6" x2="326.5" y2="504.6" stroke="#cf1840" stroke-width="1.1" />
<rect x="323.8" y="498" width="5.4" height="6" fill="#cf1840"/>
<line x1="332.5" y1="502" x2="332.5" y2="510.6" stroke="#cf1840" stroke-width="1.1" />
<rect x="329.8" y="503.6" width="5.4" height="5.8" fill="#cf1840"/>
<line x1="338.5" y1="508" x2="338.5" y2="512" stroke="#cf1840" stroke-width="1.1" />
<rect x="335.8" y="509" width="5.4" height="1" fill="#cf1840"/>
<line x1="343.5" y1="507.4" x2="343.5" y2="508.5" stroke="#000" stroke-width="1.1" />
<line x1="343.5" y1="510.5" x2="343.5" y2="511.2" stroke="#000" stroke-width="1.1" />
<rect x="341.5" y="508.5" width="4" height="2" fill="rgba(255,255,255,0.12)" stroke="#000" stroke-width="1.1"/>
<line x1="349.5" y1="478.6" x2="349.5" y2="479.5" stroke="#000" stroke-width="1.1" />
<rect x="347.5" y="479.5" width="4" height="14" fill="rgba(255,255,255,0.12)" stroke="#000" stroke-width="1.1"/>
<line x1="355.5" y1="477.6" x2="355.5" y2="490" stroke="#cf1840" stroke-width="1.1" />
<rect x="352.8" y="478.6" width="5.4" height="8.4" fill="#cf1840"/>
<line x1="361.5" y1="480.6" x2="361.5" y2="481.5" stroke="#000" stroke-width="1.1" />
<rect x="359.5" y="481.5" width="4" height="5" fill="rgba(255,255,255,0.12)" stroke="#000" stroke-width="1.1"/>
<line x1="367.5" y1="481" x2="367.5" y2="489" stroke="#cf1840" stroke-width="1.1" />
<rect x="364.8" y="481.4" width="5.4" height="6.6" fill="#cf1840"/>
<line x1="373.5" y1="485" x2="373.5" y2="491" stroke="#cf1840" stroke-width="1.1" />
<rect x="370.8" y="487.6" width="5.4" height="1.8" fill="#cf1840"/>
<line x1="379.5" y1="486.4" x2="379.5" y2="494" stroke="#cf1840" stroke-width="1.1" />
<rect x="376.8" y="488" width="5.4" height="5" fill="#cf1840"/>
<line x1="384.5" y1="486.4" x2="384.5" y2="487.5" stroke="#000" stroke-width="1.1" />
<line x1="384.5" y1="493.5" x2="384.5" y2="494" stroke="#000" stroke-width="1.1" />
<rect x="382.5" y="487.5" width="4" height="6" fill="rgba(255,255,255,0.12)" stroke="#000" stroke-width="1.1"/>
<line x1="390.5" y1="491" x2="390.5" y2="500" stroke="#cf1840" stroke-width="1.1" />
<rect x="387.8" y="493.6" width="5.4" height="5.8" fill="#cf1840"/>
<line x1="396.5" y1="499" x2="396.5" y2="506.4" stroke="#cf1840" stroke-width="1.1" />
<rect x="393.8" y="499.4" width="5.4" height="3.6" fill="#cf1840"/>
<line x1="402.5" y1="501.6" x2="402.5" y2="510.6" stroke="#cf1840" stroke-width="1.1" />
<rect x="399.8" y="502" width="5.4" height="5.4" fill="#cf1840"/>
<line x1="408.5" y1="500" x2="408.5" y2="503.5" stroke="#000" stroke-width="1.1" />
<rect x="406.5" y="503.5" width="4" height="4" fill="rgba(255,255,255,0.12)" stroke="#000" stroke-width="1.1"/>
<line x1="414.5" y1="501" x2="414.5" y2="504.6" stroke="#000" stroke-width="1.1" />
<rect x="411.8" y="502.2" width="5.4" height="1.6" fill="#000"/>
<line x1="420.5" y1="502" x2="420.5" y2="520.6" stroke="#cf1840" stroke-width="1.1" />
<rect x="417.8" y="502.4" width="5.4" height="18" fill="#cf1840"/>
<line x1="425.5" y1="513" x2="425.5" y2="516.5" stroke="#000" stroke-width="1.1" />
<line x1="425.5" y1="520.5" x2="425.5" y2="526.6" stroke="#000" stroke-width="1.1" />
<rect x="423.5" y="516.5" width="4" height="4" fill="rgba(255,255,255,0.12)" stroke="#000" stroke-width="1.1"/>
<line x1="432.5" y1="500.6" x2="432.5" y2="519.6" stroke="#cf1840" stroke-width="1.1" />
<rect x="429.8" y="501.4" width="5.4" height="18" fill="#cf1840"/>
<line x1="438.5" y1="518.6" x2="438.5" y2="528.6" stroke="#cf1840" stroke-width="1.1" />
<rect x="435.8" y="519" width="5.4" height="3.4" fill="#cf1840"/>
<line x1="444.5" y1="518" x2="444.5" y2="519.5" stroke="#000" stroke-width="1.1" />
<line x1="444.5" y1="522.5" x2="444.5" y2="525.6" stroke="#000" stroke-width="1.1" />
<rect x="442.5" y="519.5" width="4" height="3" fill="rgba(255,255,255,0.12)" stroke="#000" stroke-width="1.1"/>
<line x1="450.5" y1="509.6" x2="450.5" y2="510.5" stroke="#000" stroke-width="1.1" />
<line x1="450.5" y1="519.5" x2="450.5" y2="520" stroke="#000" stroke-width="1.1" />
<rect x="448.5" y="510.5" width="4" height="9" fill="rgba(255,255,255,0.12)" stroke="#000" stroke-width="1.1"/>
<line x1="456.5" y1="507.4" x2="456.5" y2="512" stroke="#000" stroke-width="1.1" />
<rect x="453.8" y="509.6" width="5.4" height="1.2" fill="#000"/>
<line x1="462.5" y1="508" x2="462.5" y2="520.6" stroke="#cf1840" stroke-width="1.1" />
<rect x="459.8" y="510.6" width="5.4" height="3.4" fill="#cf1840"/>
<line x1="467.5" y1="513" x2="467.5" y2="520.6" stroke="#cf1840" stroke-width="1.1" />
<rect x="464.8" y="516" width="5.4" height="2" fill="#cf1840"/>
<line x1="473.5" y1="500" x2="473.5" y2="509.6" stroke="#000" stroke-width="1.1" />
<rect x="470.8" y="505" width="5.4" height="3.6" fill="#000"/>
<line x1="479.5" y1="504" x2="479.5" y2="515" stroke="#cf1840" stroke-width="1.1" />
<rect x="476.8" y="507.6" width="5.4" height="6.4" fill="#cf1840"/>
<line x1="485.5" y1="509" x2="485.5" y2="513.5" stroke="#000" stroke-width="1.1" />
<line x1="485.5" y1="516.5" x2="485.5" y2="518.4" stroke="#000" stroke-width="1.1" />
<rect x="483.5" y="513.5" width="4" height="3" fill="rgba(255,255,255,0.12)" stroke="#000" stroke-width="1.1"/>
<line x1="491.5" y1="511" x2="491.5" y2="526" stroke="#cf1840" stroke-width="1.1" />
<rect x="488.8" y="516" width="5.4" height="9.6" fill="#cf1840"/>
<line x1="497.5" y1="518" x2="497.5" y2="522.5" stroke="#000" stroke-width="1.1" />
<rect x="495.5" y="522.5" width="4" height="3" fill="rgba(255,255,255,0.12)" stroke="#000" stroke-width="1.1"/>
<line x1="503.5" y1="521" x2="503.5" y2="524.6" stroke="#cf1840" stroke-width="1.1" />
<rect x="500.8" y="522" width="5.4" height="2" fill="#cf1840"/>
<line x1="508.5" y1="519" x2="508.5" y2="531" stroke="#cf1840" stroke-width="1.1" />
<rect x="505.8" y="524.4" width="5.4" height="6" fill="#cf1840"/>
<line x1="514.5" y1="532" x2="514.5" y2="543.6" stroke="#cf1840" stroke-width="1.1" />
<rect x="511.8" y="532.4" width="5.4" height="8.2" fill="#cf1840"/>
<line x1="520.5" y1="538" x2="520.5" y2="548" stroke="#cf1840" stroke-width="1.1" />
<rect x="517.8" y="540" width="5.4" height="7" fill="#cf1840"/>
<line x1="526.5" y1="545.6" x2="526.5" y2="549" stroke="#cf1840" stroke-width="1.1" />
<rect x="523.8" y="546.4" width="5.4" height="2.2" fill="#cf1840"/>
<line x1="532.5" y1="547" x2="532.5" y2="552" stroke="#cf1840" stroke-width="1.1" />
<rect x="529.8" y="548" width="5.4" height="3" fill="#cf1840"/>
<line x1="538.5" y1="548" x2="538.5" y2="553" stroke="#cf1840" stroke-width="1.1" />
<rect x="535.8" y="549.6" width="5.4" height="2.8" fill="#cf1840"/>
<line x1="544.5" y1="549" x2="544.5" y2="557" stroke="#cf1840" stroke-width="1.1" />
<rect x="541.8" y="552" width="5.4" height="4.4" fill="#cf1840"/>
<line x1="549.5" y1="555" x2="549.5" y2="560.6" stroke="#cf1840" stroke-width="1.1" />
<rect x="546.8" y="556" width="5.4" height="3.6" fill="#cf1840"/>
<line x1="556.5" y1="560" x2="556.5" y2="560.5" stroke="#cf1840" stroke-width="1.1" />
<rect x="554.5" y="560.5" width="4" height="6" fill="rgba(255,255,255,0.12)" stroke="#cf1840" stroke-width="1.1"/>
<line x1="562.5" y1="557" x2="562.5" y2="563.6" stroke="#cf1840" stroke-width="1.1" />
<rect x="559.8" y="561" width="5.4" height="1" fill="#cf1840"/>
<line x1="568.5" y1="560" x2="568.5" y2="560.5" stroke="#000" stroke-width="1.1" />
<line x1="568.5" y1="562.5" x2="568.5" y2="564" stroke="#000" stroke-width="1.1" />
<rect x="566.5" y="560.5" width="4" height="2" fill="rgba(255,255,255,0.12)" stroke="#000" stroke-width="1.1"/>
<line x1="574.5" y1="559" x2="574.5" y2="564" stroke="#cf1840" stroke-width="1.1" />
<rect x="571.8" y="561" width="5.4" height="2.6" fill="#cf1840"/>
<line x1="580.5" y1="562" x2="580.5" y2="567.6" stroke="#000" stroke-width="1.1" />
<rect x="577.8" y="562.4" width="5.4" height="1" fill="#000"/>
<line x1="586.5" y1="561" x2="586.5" y2="567" stroke="#000" stroke-width="1.1" />
<rect x="583.8" y="562.4" width="5.4" height="1" fill="#000"/>
<line x1="591.5" y1="561" x2="591.5" y2="569" stroke="#cf1840" stroke-width="1.1" />
<rect x="588.8" y="562" width="5.4" height="6.4" fill="#cf1840"/>
<line x1="597.5" y1="557" x2="597.5" y2="558.5" stroke="#000" stroke-width="1.1" />
<line x1="597.5" y1="566.5" x2="597.5" y2="570" stroke="#000" stroke-width="1.1" />
<rect x="595.5" y="558.5" width="4" height="8" fill="rgba(255,255,255,0.12)" stroke="#000" stroke-width="1.1"/>
<line x1="603.5" y1="552" x2="603.5" y2="561" stroke="#cf1840" stroke-width="1.1" />
<rect x="600.8" y="558" width="5.4" height="2" fill="#cf1840"/>
<line x1="609.5" y1="548" x2="609.5" y2="548.5" stroke="#000" stroke-width="1.1" />
<line x1="609.5" y1="560.5" x2="609.5" y2="562.4" stroke="#000" stroke-width="1.1" />
<rect x="607.5" y="548.5" width="4" height="12" fill="rgba(255,255,255,0.12)" stroke="#000" stroke-width="1.1"/>
<line x1="615.5" y1="539" x2="615.5" y2="539.5" stroke="#000" stroke-width="1.1" />
<line x1="615.5" y1="548.5" x2="615.5" y2="549" stroke="#000" stroke-width="1.1" />
<rect x="613.5" y="539.5" width="4" height="9" fill="rgba(255,255,255,0.12)" stroke="#000" stroke-width="1.1"/>
<line x1="621.5" y1="532" x2="621.5" y2="535.5" stroke="#000" stroke-width="1.1" />
<line x1="621.5" y1="539.5" x2="621.5" y2="544.6" stroke="#000" stroke-width="1.1" />
<rect x="619.5" y="535.5" width="4" height="4" fill="rgba(255,255,255,0.12)" stroke="#000" stroke-width="1.1"/>
<line x1="627.5" y1="534.4" x2="627.5" y2="545" stroke="#cf1840" stroke-width="1.1" />
<rect x="624.8" y="535" width="5.4" height="2" fill="#cf1840"/>
<line x1="632.5" y1="535" x2="632.5" y2="546.4" stroke="#cf1840" stroke-width="1.1" />
<rect x="629.8" y="536" width="5.4" height="9.6" fill="#cf1840"/>
<line x1="638.5" y1="527.4" x2="638.5" y2="541.6" stroke="#000" stroke-width="1.1" />
<rect x="635.8" y="538" width="5.4" height="3.4" fill="#000"/>
<line x1="644.5" y1="538" x2="644.5" y2="552" stroke="#cf1840" stroke-width="1.1" />
<rect x="641.8" y="541" width="5.4" height="10.4" fill="#cf1840"/>
<line x1="650.5" y1="540" x2="650.5" y2="542.5" stroke="#000" stroke-width="1.1" />
<line x1="650.5" y1="551.5" x2="650.5" y2="552" stroke="#000" stroke-width="1.1" />
<rect x="648.5" y="542.5" width="4" height="9" fill="rgba(255,255,255,0.12)" stroke="#000" stroke-width="1.1"/>
<line x1="656.5" y1="542.5" x2="656.5" y2="548.4" stroke="#000" stroke-width="1.1" />
<rect x="654.5" y="535.5" width="4" height="7" fill="rgba(255,255,255,0.12)" stroke="#000" stroke-width="1.1"/>
<line x1="662.5" y1="534" x2="662.5" y2="543.6" stroke="#cf1840" stroke-width="1.1" />
<rect x="659.8" y="535.4" width="5.4" height="2.6" fill="#cf1840"/>
<line x1="668.5" y1="536" x2="668.5" y2="545.6" stroke="#cf1840" stroke-width="1.1" />
<rect x="665.8" y="537.4" width="5.4" height="4.2" fill="#cf1840"/>
<line x1="673.5" y1="538" x2="673.5" y2="551" stroke="#000" stroke-width="1.1" />
<rect x="670.8" y="540" width="5.4" height="1.2" fill="#000"/>
<line x1="680.5" y1="525" x2="680.5" y2="525.5" stroke="#000" stroke-width="1.1" />
<line x1="680.5" y1="529.5" x2="680.5" y2="534.4" stroke="#000" stroke-width="1.1" />
<rect x="678.5" y="525.5" width="4" height="4" fill="rgba(255,255,255,0.12)" stroke="#000" stroke-width="1.1"/>
<line x1="686.5" y1="502" x2="686.5" y2="507.5" stroke="#000" stroke-width="1.1" />
<line x1="686.5" y1="525.5" x2="686.5" y2="528" stroke="#000" stroke-width="1.1" />
<rect x="684.5" y="507.5" width="4" height="18" fill="rgba(255,255,255,0.12)" stroke="#000" stroke-width="1.1"/>
<line x1="692.5" y1="502" x2="692.5" y2="514" stroke="#cf1840" stroke-width="1.1" />
<rect x="689.8" y="507" width="5.4" height="1" fill="#cf1840"/>
<line x1="698.5" y1="493" x2="698.5" y2="493.5" stroke="#000" stroke-width="1.1" />
<line x1="698.5" y1="507.5" x2="698.5" y2="510.4" stroke="#000" stroke-width="1.1" />
<rect x="696.5" y="493.5" width="4" height="14" fill="rgba(255,255,255,0.12)" stroke="#000" stroke-width="1.1"/>
<line x1="704.5" y1="483" x2="704.5" y2="488.5" stroke="#000" stroke-width="1.1" />
<rect x="702.5" y="488.5" width="4" height="6" fill="rgba(255,255,255,0.12)" stroke="#000" stroke-width="1.1"/>
<line x1="710.5" y1="488" x2="710.5" y2="494.6" stroke="#cf1840" stroke-width="1.1" />
<rect x="707.8" y="488.4" width="5.4" height="6" fill="#cf1840"/>
<line x1="715.5" y1="489" x2="715.5" y2="490.5" stroke="#000" stroke-width="1.1" />
<line x1="715.5" y1="494.5" x2="715.5" y2="497.6" stroke="#000" stroke-width="1.1" />
<rect x="713.5" y="490.5" width="4" height="4" fill="rgba(255,255,255,0.12)" stroke="#000" stroke-width="1.1"/>
<line x1="721.5" y1="445.6" x2="721.5" y2="461.6" stroke="#000" stroke-width="1.1" />
<rect x="718.8" y="456.4" width="5.4" height="3.2" fill="#000"/>
<line x1="727.5" y1="459.6" x2="727.5" y2="473" stroke="#cf1840" stroke-width="1.1" />
<rect x="724.8" y="460" width="5.4" height="11.6" fill="#cf1840"/>
<line x1="733.5" y1="471.6" x2="733.5" y2="482.4" stroke="#cf1840" stroke-width="1.1" />
<rect x="730.8" y="472" width="5.4" height="7.6" fill="#cf1840"/>
<line x1="739.5" y1="475" x2="739.5" y2="484.6" stroke="#000" stroke-width="1.1" />
<rect x="736.8" y="479.4" width="5.4" height="1.2" fill="#000"/>
<line x1="745.5" y1="474" x2="745.5" y2="484" stroke="#000" stroke-width="1.1" />
<rect x="742.8" y="479" width="5.4" height="1" fill="#000"/>
<line x1="751.5" y1="478" x2="751.5" y2="488.4" stroke="#cf1840" stroke-width="1.1" />
<rect x="748.8" y="478.6" width="5.4" height="4.4" fill="#cf1840"/>
<line x1="756.5" y1="481" x2="756.5" y2="490.6" stroke="#cf1840" stroke-width="1.1" />
<rect x="753.8" y="484" width="5.4" height="1" fill="#cf1840"/>
<line x1="762.5" y1="474" x2="762.5" y2="482.4" stroke="#000" stroke-width="1.1" />
<rect x="759.8" y="475" width="5.4" height="4" fill="#000"/>
<line x1="768.5" y1="463.6" x2="768.5" y2="487" stroke="#cf1840" stroke-width="1.1" />
<rect x="765.8" y="479.4" width="5.4" height="7" fill="#cf1840"/>
<line x1="774.5" y1="483" x2="774.5" y2="492" stroke="#cf1840" stroke-width="1.1" />
<rect x="771.8" y="485.6" width="5.4" height="1" fill="#cf1840"/>
<line x1="780.5" y1="482" x2="780.5" y2="491.6" stroke="#000" stroke-width="1.1" />
<rect x="777.8" y="485.6" width="5.4" height="1" fill="#000"/>
<line x1="786.5" y1="482" x2="786.5" y2="483.5" stroke="#000" stroke-width="1.1" />
<line x1="786.5" y1="486.5" x2="786.5" y2="487.6" stroke="#000" stroke-width="1.1" />
<rect x="784.5" y="483.5" width="4" height="3" fill="rgba(255,255,255,0.12)" stroke="#000" stroke-width="1.1"/>
<line x1="792.5" y1="473" x2="792.5" y2="477.5" stroke="#000" stroke-width="1.1" />
<line x1="792.5" y1="482.5" x2="792.5" y2="483" stroke="#000" stroke-width="1.1" />
<rect x="790.5" y="477.5" width="4" height="5" fill="rgba(255,255,255,0.12)" stroke="#000" stroke-width="1.1"/>
<line x1="797.5" y1="477.6" x2="797.5" y2="489" stroke="#cf1840" stroke-width="1.1" />
<rect x="794.8" y="478" width="5.4" height="10.6" fill="#cf1840"/>
<line x1="804.5" y1="467" x2="804.5" y2="477.6" stroke="#000" stroke-width="1.1" />
<rect x="801.8" y="467.4" width="5.4" height="9.6" fill="#000"/>
<line x1="810.5" y1="475" x2="810.5" y2="488.6" stroke="#cf1840" stroke-width="1.1" />
<rect x="807.8" y="475.4" width="5.4" height="12.6" fill="#cf1840"/>
<line x1="816.5" y1="484.4" x2="816.5" y2="491" stroke="#000" stroke-width="1.1" />
<rect x="813.8" y="486.4" width="5.4" height="1" fill="#000"/>
<line x1="822.5" y1="486" x2="822.5" y2="502.4" stroke="#cf1840" stroke-width="1.1" />
<rect x="819.8" y="486.4" width="5.4" height="15.2" fill="#cf1840"/>
<line x1="828.5" y1="487" x2="828.5" y2="490.5" stroke="#000" stroke-width="1.1" />
<line x1="828.5" y1="501.5" x2="828.5" y2="505.6" stroke="#000" stroke-width="1.1" />
<rect x="826.5" y="490.5" width="4" height="11" fill="rgba(255,255,255,0.12)" stroke="#000" stroke-width="1.1"/>
<line x1="834.5" y1="480.6" x2="834.5" y2="482.5" stroke="#000" stroke-width="1.1" />
<line x1="834.5" y1="490.5" x2="834.5" y2="492" stroke="#000" stroke-width="1.1" />
<rect x="832.5" y="482.5" width="4" height="8" fill="rgba(255,255,255,0.12)" stroke="#000" stroke-width="1.1"/>
<line x1="839.5" y1="482" x2="839.5" y2="496.6" stroke="#cf1840" stroke-width="1.1" />
<rect x="836.8" y="482.4" width="5.4" height="10.2" fill="#cf1840"/>
<line x1="845.5" y1="419.4" x2="845.5" y2="422.5" stroke="#000" stroke-width="1.1" />
<line x1="845.5" y1="426.5" x2="845.5" y2="429.6" stroke="#000" stroke-width="1.1" />
<rect x="843.5" y="422.5" width="4" height="4" fill="rgba(255,255,255,0.12)" stroke="#000" stroke-width="1.1"/>
<line x1="851.5" y1="399.2" x2="851.5" y2="399.5" stroke="#000" stroke-width="1.1" />
<line x1="851.5" y1="420.5" x2="851.5" y2="421.6" stroke="#000" stroke-width="1.1" />
<rect x="849.5" y="399.5" width="4" height="21" fill="rgba(255,255,255,0.12)" stroke="#000" stroke-width="1.1"/>
<line x1="857.5" y1="393" x2="857.5" y2="416.6" stroke="#cf1840" stroke-width="1.1" />
<rect x="854.8" y="399.4" width="5.4" height="13" fill="#cf1840"/>
<line x1="863.5" y1="411.6" x2="863.5" y2="425" stroke="#cf1840" stroke-width="1.1" />
<rect x="860.8" y="412.4" width="5.4" height="2" fill="#cf1840"/>
<line x1="869.5" y1="407.4" x2="869.5" y2="408.5" stroke="#000" stroke-width="1.1" />
<line x1="869.5" y1="413.5" x2="869.5" y2="417.6" stroke="#000" stroke-width="1.1" />
<rect x="867.5" y="408.5" width="4" height="5" fill="rgba(255,255,255,0.12)" stroke="#000" stroke-width="1.1"/>
<line x1="875.5" y1="401" x2="875.5" y2="413.6" stroke="#cf1840" stroke-width="1.1" />
<rect x="872.8" y="408.4" width="5.4" height="5" fill="#cf1840"/>
<line x1="880.5" y1="388.2" x2="880.5" y2="388.5" stroke="#000" stroke-width="1.1" />
<rect x="878.5" y="388.5" width="4" height="25" fill="rgba(255,255,255,0.12)" stroke="#000" stroke-width="1.1"/>
<line x1="886.5" y1="293.3" x2="886.5" y2="327.5" stroke="#000" stroke-width="1.1" />
<rect x="883.8" y="317" width="5.4" height="10.5" fill="#000"/>
<line x1="892.5" y1="251.7" x2="892.5" y2="284.5" stroke="#000" stroke-width="1.1" />
<rect x="890.5" y="284.5" width="4" height="42" fill="rgba(255,255,255,0.12)" stroke="#000" stroke-width="1.1"/>
<line x1="898.5" y1="280" x2="898.5" y2="316.7" stroke="#cf1840" stroke-width="1.1" />
<rect x="895.8" y="283.3" width="5.4" height="7.5" fill="#cf1840"/>
<line x1="904.5" y1="284.2" x2="904.5" y2="304.7" stroke="#000" stroke-width="1.1" />
<rect x="901.8" y="288" width="5.4" height="1.7" fill="#000"/>
<line x1="910.5" y1="273.3" x2="910.5" y2="293.7" stroke="#cf1840" stroke-width="1.1" />
<rect x="907.8" y="287.8" width="5.4" height="1" fill="#cf1840"/>
<line x1="916.5" y1="251.3" x2="916.5" y2="259.5" stroke="#000" stroke-width="1.1" />
<line x1="916.5" y1="289.5" x2="916.5" y2="293.7" stroke="#000" stroke-width="1.1" />
<rect x="914.5" y="259.5" width="4" height="30" fill="rgba(255,255,255,0.12)" stroke="#000" stroke-width="1.1"/>
<line x1="921.5" y1="256.2" x2="921.5" y2="283.8" stroke="#cf1840" stroke-width="1.1" />
<rect x="918.8" y="260" width="5.4" height="1.7" fill="#cf1840"/>
<line x1="928.5" y1="193.3" x2="928.5" y2="228.7" stroke="#000" stroke-width="1.1" />
<rect x="925.8" y="216.2" width="5.4" height="12.5" fill="#000"/>
<line x1="934.5" y1="198" x2="934.5" y2="304.2" stroke="#cf1840" stroke-width="1.1" />
<rect x="931.8" y="226.3" width="5.4" height="26.2" fill="#cf1840"/>
<line x1="940.5" y1="191.3" x2="940.5" y2="232.5" stroke="#000" stroke-width="1.1" />
<line x1="940.5" y1="251.5" x2="940.5" y2="265" stroke="#000" stroke-width="1.1" />
<rect x="938.5" y="232.5" width="4" height="19" fill="rgba(255,255,255,0.12)" stroke="#000" stroke-width="1.1"/>
</g>
<line x1="16.5" y1="28.5" x2="1206.5" y2="28.5" stroke="#84849a" stroke-width="1.2" />
<line x1="16.5" y1="173.5" x2="1206.5" y2="173.5" stroke="#84849a" stroke-width="1.2" />
<line x1="16.5" y1="602.5" x2="1206.5" y2="602.5" stroke="#84849a" stroke-width="1.2" />
<line x1="16.5" y1="747.5" x2="1206.5" y2="747.5" stroke="#84849a" stroke-width="1.2" />
<line x1="16.5" y1="892.5" x2="1206.5" y2="892.5" stroke="#84849a" stroke-width="1.2" />
<line x1="16.5" y1="1037.5" x2="1206.5" y2="1037.5" stroke="#84849a" stroke-width="1.2" />
<line x1="16.5" y1="588.5" x2="1206.5" y2="588.5" stroke="#84849a" stroke-width="1.2" />
<line x1="16.5" y1="1182.5" x2="1206.5" y2="1182.5" stroke="#84849a" stroke-width="1.2" />
<line x1="16.5" y1="28.5" x2="16.5" y2="588.5" stroke="#84849a" stroke-width="1.2" />
<line x1="1206.5" y1="28.5" x2="1206.5" y2="588.5" stroke="#84849a" stroke-width="1.2" />
<line x1="16.5" y1="602.5" x2="16.5" y2="1182.5" stroke="#84849a" stroke-width="1.2" />
<line x1="1206.5" y1="602.5" x2="1206.5" y2="1182.5" stroke="#84849a" stroke-width="1.2" />
<path d="M5 432.7H31V442.7H23.9L19.4 448L14.9 442.7H5Z" fill="rgba(255,255,255,0.86)" stroke="#a9a9b9" stroke-width="0.9"/>
<text x="6.8" y="440.8" font-size="9.2" font-family="'DejaVu Sans Condensed','DejaVu Sans','Liberation Sans',sans-serif" fill="#000" textLength="22.6" lengthAdjust="spacingAndGlyphs" stroke="#000" stroke-width="0.25">24.71</text>
<path d="M17 487.7H43V477.7H34.9L30.4 472L25.9 477.7H17Z" fill="rgba(255,255,255,0.86)" stroke="#a9a9b9" stroke-width="0.9"/>
<text x="18.8" y="485.8" font-size="9.2" font-family="'DejaVu Sans Condensed','DejaVu Sans','Liberation Sans',sans-serif" fill="#000" textLength="22.6" lengthAdjust="spacingAndGlyphs" stroke="#000" stroke-width="0.25">23.01</text>
<path d="M34.6 416.7H60.6V426.7H52.9L48.4 432L43.9 426.7H34.6Z" fill="rgba(255,255,255,0.86)" stroke="#a9a9b9" stroke-width="0.9"/>
<text x="36.4" y="424.8" font-size="9.2" font-family="'DejaVu Sans Condensed','DejaVu Sans','Liberation Sans',sans-serif" fill="#000" textLength="22.6" lengthAdjust="spacingAndGlyphs" stroke="#000" stroke-width="0.25">25.92</text>
<path d="M46.6 477.7H72.6V467.7H64.9L60.4 462L55.9 467.7H46.6Z" fill="rgba(255,255,255,0.86)" stroke="#a9a9b9" stroke-width="0.9"/>
<text x="48.4" y="475.8" font-size="9.2" font-family="'DejaVu Sans Condensed','DejaVu Sans','Liberation Sans',sans-serif" fill="#000" textLength="22.6" lengthAdjust="spacingAndGlyphs" stroke="#000" stroke-width="0.25">23.72</text>
<path d="M64.6 408.7H90.6V418.7H82.5L78 424.4L73.5 418.7H64.6Z" fill="rgba(255,255,255,0.86)" stroke="#a9a9b9" stroke-width="0.9"/>
<text x="66.4" y="416.8" font-size="9.2" font-family="'DejaVu Sans Condensed','DejaVu Sans','Liberation Sans',sans-serif" fill="#000" textLength="22.6" lengthAdjust="spacingAndGlyphs" stroke="#000" stroke-width="0.25">26.56</text>
<path d="M81.2 487.1H107.2V477.1H99.9L95.4 471.4L90.9 477.1H81.2Z" fill="rgba(255,255,255,0.86)" stroke="#a9a9b9" stroke-width="0.9"/>
<text x="83" y="485.2" font-size="9.2" font-family="'DejaVu Sans Condensed','DejaVu Sans','Liberation Sans',sans-serif" fill="#000" textLength="22.6" lengthAdjust="spacingAndGlyphs" stroke="#000" stroke-width="0.25">23.09</text>
<path d="M123.6 372.5H149.6V382.5H141.9L137.4 388L132.9 382.5H123.6Z" fill="rgba(255,255,255,0.86)" stroke="#a9a9b9" stroke-width="0.9"/>
<text x="125.4" y="380.6" font-size="9.2" font-family="'DejaVu Sans Condensed','DejaVu Sans','Liberation Sans',sans-serif" fill="#000" textLength="22.6" lengthAdjust="spacingAndGlyphs" stroke="#000" stroke-width="0.25">29.56</text>
<path d="M152.6 378.7H178.6V388.7H170.9L166.4 393.6L161.9 388.7H152.6Z" fill="rgba(255,255,255,0.86)" stroke="#a9a9b9" stroke-width="0.9"/>
<text x="154.4" y="386.8" font-size="9.2" font-family="'DejaVu Sans Condensed','DejaVu Sans','Liberation Sans',sans-serif" fill="#000" textLength="22.6" lengthAdjust="spacingAndGlyphs" stroke="#000" stroke-width="0.25">29.16</text>
<path d="M135.6 434.7H161.6V424.7H153.7L149.2 420L144.7 424.7H135.6Z" fill="rgba(255,255,255,0.86)" stroke="#a9a9b9" stroke-width="0.9"/>
<text x="137.4" y="432.8" font-size="9.2" font-family="'DejaVu Sans Condensed','DejaVu Sans','Liberation Sans',sans-serif" fill="#000" textLength="22.6" lengthAdjust="spacingAndGlyphs" stroke="#000" stroke-width="0.25">27.05</text>
<path d="M182.6 407.7H208.6V417.7H200.5L196 423L191.5 417.7H182.6Z" fill="rgba(255,255,255,0.86)" stroke="#a9a9b9" stroke-width="0.9"/>
<text x="184.4" y="415.8" font-size="9.2" font-family="'DejaVu Sans Condensed','DejaVu Sans','Liberation Sans',sans-serif" fill="#000" textLength="22.6" lengthAdjust="spacingAndGlyphs" stroke="#000" stroke-width="0.25">26.68</text>
<path d="M170.6 457.7H196.6V447.7H188.5L184 443L179.5 447.7H170.6Z" fill="rgba(255,255,255,0.86)" stroke="#a9a9b9" stroke-width="0.9"/>
<text x="172.4" y="455.8" font-size="9.2" font-family="'DejaVu Sans Condensed','DejaVu Sans','Liberation Sans',sans-serif" fill="#000" textLength="22.6" lengthAdjust="spacingAndGlyphs" stroke="#000" stroke-width="0.25">25.23</text>
<path d="M217.6 480.7H243.6V470.7H236.1L231.6 465L227.1 470.7H217.6Z" fill="rgba(255,255,255,0.86)" stroke="#a9a9b9" stroke-width="0.9"/>
<text x="219.4" y="478.8" font-size="9.2" font-family="'DejaVu Sans Condensed','DejaVu Sans','Liberation Sans',sans-serif" fill="#000" textLength="22.6" lengthAdjust="spacingAndGlyphs" stroke="#000" stroke-width="0.25">23.46</text>
<path d="M241.6 413.7H267.6V423.7H259.5L255 428L250.5 423.7H241.6Z" fill="rgba(255,255,255,0.86)" stroke="#a9a9b9" stroke-width="0.9"/>
<text x="243.4" y="421.8" font-size="9.2" font-family="'DejaVu Sans Condensed','DejaVu Sans','Liberation Sans',sans-serif" fill="#000" textLength="22.6" lengthAdjust="spacingAndGlyphs" stroke="#000" stroke-width="0.25">26.13</text>
<path d="M341.6 461.7H367.6V471.7H359.9L355.4 477.6L350.9 471.7H341.6Z" fill="rgba(255,255,255,0.86)" stroke="#a9a9b9" stroke-width="0.9"/>
<text x="343.4" y="469.8" font-size="9.2" font-family="'DejaVu Sans Condensed','DejaVu Sans','Liberation Sans',sans-serif" fill="#000" textLength="22.6" lengthAdjust="spacingAndGlyphs" stroke="#000" stroke-width="0.25">22.57</text>
<path d="M323.6 527.7H349.6V517.7H341.9L337.4 512L332.9 517.7H323.6Z" fill="rgba(255,255,255,0.86)" stroke="#a9a9b9" stroke-width="0.9"/>
<text x="325.4" y="525.8" font-size="9.2" font-family="'DejaVu Sans Condensed','DejaVu Sans','Liberation Sans',sans-serif" fill="#000" textLength="22.6" lengthAdjust="spacingAndGlyphs" stroke="#000" stroke-width="0.25">20.32</text>
<path d="M418.2 484.7H444.2V494.7H436.5L432 500.6L427.5 494.7H418.2Z" fill="rgba(255,255,255,0.86)" stroke="#a9a9b9" stroke-width="0.9"/>
<text x="420" y="492.8" font-size="9.2" font-family="'DejaVu Sans Condensed','DejaVu Sans','Liberation Sans',sans-serif" fill="#000" textLength="22.6" lengthAdjust="spacingAndGlyphs" stroke="#000" stroke-width="0.25">21.00</text>
<path d="M459 484.7H485V494.7H477.9L473.4 500L468.9 494.7H459Z" fill="rgba(255,255,255,0.86)" stroke="#a9a9b9" stroke-width="0.9"/>
<text x="460.8" y="492.8" font-size="9.2" font-family="'DejaVu Sans Condensed','DejaVu Sans','Liberation Sans',sans-serif" fill="#000" textLength="22.6" lengthAdjust="spacingAndGlyphs" stroke="#000" stroke-width="0.25">21.04</text>
<path d="M424.6 544.3H450.6V534.3H442.5L438 528.6L433.5 534.3H424.6Z" fill="rgba(255,255,255,0.86)" stroke="#a9a9b9" stroke-width="0.9"/>
<text x="426.4" y="542.4" font-size="9.2" font-family="'DejaVu Sans Condensed','DejaVu Sans','Liberation Sans',sans-serif" fill="#000" textLength="22.6" lengthAdjust="spacingAndGlyphs" stroke="#000" stroke-width="0.25">19.30</text>
<path d="M625 512.7H651V522.7H643.1L638.6 527.4L634.1 522.7H625Z" fill="rgba(255,255,255,0.86)" stroke="#a9a9b9" stroke-width="0.9"/>
<text x="626.8" y="520.8" font-size="9.2" font-family="'DejaVu Sans Condensed','DejaVu Sans','Liberation Sans',sans-serif" fill="#000" textLength="22.6" lengthAdjust="spacingAndGlyphs" stroke="#000" stroke-width="0.25">19.28</text>
<path d="M636.6 567.7H662.6V557.7H654.9L650.4 552L645.9 557.7H636.6Z" fill="rgba(255,255,255,0.86)" stroke="#a9a9b9" stroke-width="0.9"/>
<text x="638.4" y="565.8" font-size="9.2" font-family="'DejaVu Sans Condensed','DejaVu Sans','Liberation Sans',sans-serif" fill="#000" textLength="22.6" lengthAdjust="spacingAndGlyphs" stroke="#000" stroke-width="0.25">17.95</text>
<path d="M583.6 585.7H609.6V575.7H602.1L597.6 570L593.1 575.7H583.6Z" fill="rgba(255,255,255,0.86)" stroke="#a9a9b9" stroke-width="0.9"/>
<text x="585.4" y="583.8" font-size="9.2" font-family="'DejaVu Sans Condensed','DejaVu Sans','Liberation Sans',sans-serif" fill="#000" textLength="22.6" lengthAdjust="spacingAndGlyphs" stroke="#000" stroke-width="0.25">16.97</text>
<path d="M707.6 430.7H733.6V440.7H726.1L721.6 445.6L717.1 440.7H707.6Z" fill="rgba(255,255,255,0.86)" stroke="#a9a9b9" stroke-width="0.9"/>
<text x="709.4" y="438.8" font-size="9.2" font-family="'DejaVu Sans Condensed','DejaVu Sans','Liberation Sans',sans-serif" fill="#000" textLength="22.6" lengthAdjust="spacingAndGlyphs" stroke="#000" stroke-width="0.25">24.80</text>
<path d="M754.6 448.7H780.6V458.7H772.9L768.4 463.6L763.9 458.7H754.6Z" fill="rgba(255,255,255,0.86)" stroke="#a9a9b9" stroke-width="0.9"/>
<text x="756.4" y="456.8" font-size="9.2" font-family="'DejaVu Sans Condensed','DejaVu Sans','Liberation Sans',sans-serif" fill="#000" textLength="22.6" lengthAdjust="spacingAndGlyphs" stroke="#000" stroke-width="0.25">23.52</text>
<path d="M790.2 451.7H816.2V461.7H808.5L804 467L799.5 461.7H790.2Z" fill="rgba(255,255,255,0.86)" stroke="#a9a9b9" stroke-width="0.9"/>
<text x="792" y="459.8" font-size="9.2" font-family="'DejaVu Sans Condensed','DejaVu Sans','Liberation Sans',sans-serif" fill="#000" textLength="22.6" lengthAdjust="spacingAndGlyphs" stroke="#000" stroke-width="0.25">23.25</text>
<path d="M760.6 507.7H786.6V497.7H778.9L774.4 492L769.9 497.7H760.6Z" fill="rgba(255,255,255,0.86)" stroke="#a9a9b9" stroke-width="0.9"/>
<text x="762.4" y="505.8" font-size="9.2" font-family="'DejaVu Sans Condensed','DejaVu Sans','Liberation Sans',sans-serif" fill="#000" textLength="22.6" lengthAdjust="spacingAndGlyphs" stroke="#000" stroke-width="0.25">21.58</text>
<path d="M813.6 521.7H839.6V511.7H831.7L827.2 505.6L822.7 511.7H813.6Z" fill="rgba(255,255,255,0.86)" stroke="#a9a9b9" stroke-width="0.9"/>
<text x="815.4" y="519.8" font-size="9.2" font-family="'DejaVu Sans Condensed','DejaVu Sans','Liberation Sans',sans-serif" fill="#000" textLength="22.6" lengthAdjust="spacingAndGlyphs" stroke="#000" stroke-width="0.25">20.60</text>
<path d="M843.6 377.7H869.6V387.7H861.9L857.4 393L852.9 387.7H843.6Z" fill="rgba(255,255,255,0.86)" stroke="#a9a9b9" stroke-width="0.9"/>
<text x="845.4" y="385.8" font-size="9.2" font-family="'DejaVu Sans Condensed','DejaVu Sans','Liberation Sans',sans-serif" fill="#000" textLength="22.6" lengthAdjust="spacingAndGlyphs" stroke="#000" stroke-width="0.25">29.26</text>
<path d="M849.6 440.7H875.6V430.7H867.7L863.2 425L858.7 430.7H849.6Z" fill="rgba(255,255,255,0.86)" stroke="#a9a9b9" stroke-width="0.9"/>
<text x="851.4" y="438.8" font-size="9.2" font-family="'DejaVu Sans Condensed','DejaVu Sans','Liberation Sans',sans-serif" fill="#000" textLength="22.6" lengthAdjust="spacingAndGlyphs" stroke="#000" stroke-width="0.25">26.57</text>
<path d="M914.6 177.2H940.6V187.2H932.8L928.3 192.5L923.8 187.2H914.6Z" fill="rgba(255,255,255,0.86)" stroke="#a9a9b9" stroke-width="0.9"/>
<text x="916.4" y="185.3" font-size="9.2" font-family="'DejaVu Sans Condensed','DejaVu Sans','Liberation Sans',sans-serif" fill="#000" textLength="22.6" lengthAdjust="spacingAndGlyphs" stroke="#000" stroke-width="0.25">54.17</text>
<path d="M878.3 236.4H904.3V246.4H897L892.5 251.7L888 246.4H878.3Z" fill="rgba(255,255,255,0.86)" stroke="#a9a9b9" stroke-width="0.9"/>
<text x="880.1" y="244.5" font-size="9.2" font-family="'DejaVu Sans Condensed','DejaVu Sans','Liberation Sans',sans-serif" fill="#000" textLength="22.6" lengthAdjust="spacingAndGlyphs" stroke="#000" stroke-width="0.25">45.08</text>
<path d="M919.6 319.4H945.6V309.4H938.2L933.7 304.7L929.2 309.4H919.6Z" fill="rgba(255,255,255,0.86)" stroke="#a9a9b9" stroke-width="0.9"/>
<text x="921.4" y="317.5" font-size="9.2" font-family="'DejaVu Sans Condensed','DejaVu Sans','Liberation Sans',sans-serif" fill="#000" textLength="22.6" lengthAdjust="spacingAndGlyphs" stroke="#000" stroke-width="0.25">38.58</text>
<line x1="16.5" y1="516" x2="1206.5" y2="516" stroke="#0b7a0b" stroke-width="2.2" />
<line x1="419" y1="516" x2="686" y2="516" stroke="#f01010" stroke-width="2.2" />
<rect x="531.5" y="293.5" width="183" height="33" fill="#9a9aa2"/>
<rect x="529.5" y="291.5" width="183" height="33" fill="#fff" stroke="#8a8a8a" stroke-width="1"/>
<text x="532" y="315.6" font-size="22.3" font-family="'Liberation Sans',sans-serif" fill="#000" textLength="162.4" lengthAdjust="spacing" >VIX`60min cycle</text>
<rect x="17.3" y="719" width="4.4" height="3.5" fill="#4a9ed0" stroke="#1f6f94" stroke-width="0.8"/>
<rect x="23.2" y="719" width="4.4" height="2.7" fill="#4a9ed0" stroke="#1f6f94" stroke-width="0.8"/>
<rect x="29.1" y="719" width="4.4" height="1.8" fill="#4a9ed0" stroke="#1f6f94" stroke-width="0.8"/>
<line x1="35.2" y1="719" x2="39.2" y2="719" stroke="#1f6f94" stroke-width="1" />
<rect x="40.9" y="718.3" width="4.4" height="0.7" fill="#4a9ed0" stroke="#1f6f94" stroke-width="0.8"/>
<rect x="46.8" y="716.8" width="4.4" height="2.2" fill="#4a9ed0" stroke="#1f6f94" stroke-width="0.8"/>
<rect x="52.7" y="716.8" width="4.4" height="2.2" fill="#4a9ed0" stroke="#1f6f94" stroke-width="0.8"/>
<rect x="58.3" y="718.5" width="4.4" height="0.5" fill="#4a9ed0" stroke="#1f6f94" stroke-width="0.8"/>
<rect x="64.2" y="718.4" width="4.4" height="0.6" fill="#4a9ed0" stroke="#1f6f94" stroke-width="0.8"/>
<rect x="70.1" y="717.5" width="4.4" height="1.5" fill="#4a9ed0" stroke="#1f6f94" stroke-width="0.8"/>
<rect x="76" y="717.8" width="4.4" height="1.2" fill="#4a9ed0" stroke="#1f6f94" stroke-width="0.8"/>
<rect x="81.9" y="719" width="4.4" height="0.6" fill="#4a9ed0" stroke="#1f6f94" stroke-width="0.8"/>
<rect x="87.8" y="719" width="4.4" height="1.8" fill="#4a9ed0" stroke="#1f6f94" stroke-width="0.8"/>
<rect x="93.7" y="719" width="4.4" height="3.5" fill="#4a9ed0" stroke="#1f6f94" stroke-width="0.8"/>
<rect x="99.3" y="719" width="4.4" height="1.2" fill="#4a9ed0" stroke="#1f6f94" stroke-width="0.8"/>
<rect x="105.2" y="718" width="4.4" height="1" fill="#4a9ed0" stroke="#1f6f94" stroke-width="0.8"/>
<rect x="111.1" y="717.5" width="4.4" height="1.5" fill="#4a9ed0" stroke="#1f6f94" stroke-width="0.8"/>
<rect x="117" y="716.9" width="4.4" height="2.1" fill="#4a9ed0" stroke="#1f6f94" stroke-width="0.8"/>
<rect x="122.9" y="716.1" width="4.4" height="2.9" fill="#4a9ed0" stroke="#1f6f94" stroke-width="0.8"/>
<rect x="128.8" y="714.6" width="4.4" height="4.4" fill="#4a9ed0" stroke="#1f6f94" stroke-width="0.8"/>
<rect x="134.7" y="714.6" width="4.4" height="4.4" fill="#4a9ed0" stroke="#1f6f94" stroke-width="0.8"/>
<rect x="141.3" y="715.5" width="4.4" height="3.5" fill="#4a9ed0" stroke="#1f6f94" stroke-width="0.8"/>
<rect x="147.2" y="714.6" width="4.4" height="4.4" fill="#4a9ed0" stroke="#1f6f94" stroke-width="0.8"/>
<rect x="153.1" y="716.1" width="4.4" height="2.9" fill="#4a9ed0" stroke="#1f6f94" stroke-width="0.8"/>
<rect x="159" y="716.6" width="4.4" height="2.4" fill="#4a9ed0" stroke="#1f6f94" stroke-width="0.8"/>
<rect x="164.9" y="716.9" width="4.4" height="2.1" fill="#4a9ed0" stroke="#1f6f94" stroke-width="0.8"/>
<rect x="170.8" y="719" width="4.4" height="0.9" fill="#4a9ed0" stroke="#1f6f94" stroke-width="0.8"/>
<rect x="176.7" y="719" width="4.4" height="2.4" fill="#4a9ed0" stroke="#1f6f94" stroke-width="0.8"/>
<rect x="182.3" y="719" width="4.4" height="4.7" fill="#4a9ed0" stroke="#1f6f94" stroke-width="0.8"/>
<rect x="188.2" y="719" width="4.4" height="5.6" fill="#4a9ed0" stroke="#1f6f94" stroke-width="0.8"/>
<rect x="194.1" y="719" width="4.4" height="7.1" fill="#4a9ed0" stroke="#1f6f94" stroke-width="0.8"/>
<rect x="200" y="719" width="4.4" height="8.2" fill="#4a9ed0" stroke="#1f6f94" stroke-width="0.8"/>
<rect x="205.9" y="719" width="4.4" height="8.5" fill="#4a9ed0" stroke="#1f6f94" stroke-width="0.8"/>
<rect x="211.8" y="719" width="4.4" height="9.4" fill="#4a9ed0" stroke="#1f6f94" stroke-width="0.8"/>
<rect x="217.7" y="719" width="4.4" height="9.7" fill="#4a9ed0" stroke="#1f6f94" stroke-width="0.8"/>
<rect x="223.3" y="719" width="4.4" height="8.8" fill="#4a9ed0" stroke="#1f6f94" stroke-width="0.8"/>
<rect x="229.2" y="719" width="4.4" height="8.5" fill="#4a9ed0" stroke="#1f6f94" stroke-width="0.8"/>
<rect x="235.1" y="719" width="4.4" height="6.9" fill="#4a9ed0" stroke="#1f6f94" stroke-width="0.8"/>
<rect x="241" y="719" width="4.4" height="5.3" fill="#4a9ed0" stroke="#1f6f94" stroke-width="0.8"/>
<rect x="246.9" y="719" width="4.4" height="2.9" fill="#4a9ed0" stroke="#1f6f94" stroke-width="0.8"/>
<rect x="252.8" y="719" width="4.4" height="2.5" fill="#4a9ed0" stroke="#1f6f94" stroke-width="0.8"/>
<rect x="258.7" y="719" width="4.4" height="2.4" fill="#4a9ed0" stroke="#1f6f94" stroke-width="0.8"/>
<rect x="265.3" y="719" width="4.4" height="3.5" fill="#4a9ed0" stroke="#1f6f94" stroke-width="0.8"/>
<rect x="271.2" y="719" width="4.4" height="5.3" fill="#4a9ed0" stroke="#1f6f94" stroke-width="0.8"/>
<rect x="277.1" y="719" width="4.4" height="6.2" fill="#4a9ed0" stroke="#1f6f94" stroke-width="0.8"/>
<rect x="283" y="719" width="4.4" height="6.5" fill="#4a9ed0" stroke="#1f6f94" stroke-width="0.8"/>
<rect x="288.9" y="719" width="4.4" height="5.9" fill="#4a9ed0" stroke="#1f6f94" stroke-width="0.8"/>
<rect x="294.8" y="719" width="4.4" height="5.9" fill="#4a9ed0" stroke="#1f6f94" stroke-width="0.8"/>
<rect x="300.7" y="719" width="4.4" height="5.6" fill="#4a9ed0" stroke="#1f6f94" stroke-width="0.8"/>
<rect x="306.3" y="719" width="4.4" height="5.9" fill="#4a9ed0" stroke="#1f6f94" stroke-width="0.8"/>
<rect x="312.2" y="719" width="4.4" height="5.3" fill="#4a9ed0" stroke="#1f6f94" stroke-width="0.8"/>
<rect x="318.1" y="719" width="4.4" height="4.7" fill="#4a9ed0" stroke="#1f6f94" stroke-width="0.8"/>
<rect x="324" y="719" width="4.4" height="4.4" fill="#4a9ed0" stroke="#1f6f94" stroke-width="0.8"/>
<rect x="329.9" y="719" width="4.4" height="4.1" fill="#4a9ed0" stroke="#1f6f94" stroke-width="0.8"/>
<rect x="335.8" y="719" width="4.4" height="3.5" fill="#4a9ed0" stroke="#1f6f94" stroke-width="0.8"/>
<rect x="341.7" y="719" width="4.4" height="2.9" fill="#4a9ed0" stroke="#1f6f94" stroke-width="0.8"/>
<line x1="347.5" y1="719" x2="351.5" y2="719" stroke="#1f6f94" stroke-width="1" />
<rect x="353.2" y="717.5" width="4.4" height="1.5" fill="#4a9ed0" stroke="#1f6f94" stroke-width="0.8"/>
<rect x="359.1" y="716.1" width="4.4" height="2.9" fill="#4a9ed0" stroke="#1f6f94" stroke-width="0.8"/>
<rect x="365" y="715.8" width="4.4" height="3.2" fill="#4a9ed0" stroke="#1f6f94" stroke-width="0.8"/>
<rect x="370.9" y="715.5" width="4.4" height="3.5" fill="#4a9ed0" stroke="#1f6f94" stroke-width="0.8"/>
<rect x="376.8" y="715.8" width="4.4" height="3.2" fill="#4a9ed0" stroke="#1f6f94" stroke-width="0.8"/>
<rect x="382.7" y="715.8" width="4.4" height="3.2" fill="#4a9ed0" stroke="#1f6f94" stroke-width="0.8"/>
<rect x="388.3" y="716.4" width="4.4" height="2.6" fill="#4a9ed0" stroke="#1f6f94" stroke-width="0.8"/>
<rect x="394.2" y="717.2" width="4.4" height="1.8" fill="#4a9ed0" stroke="#1f6f94" stroke-width="0.8"/>
<rect x="400.1" y="717.8" width="4.4" height="1.2" fill="#4a9ed0" stroke="#1f6f94" stroke-width="0.8"/>
<rect x="406" y="718.1" width="4.4" height="0.9" fill="#4a9ed0" stroke="#1f6f94" stroke-width="0.8"/>
<rect x="411.9" y="718.1" width="4.4" height="0.9" fill="#4a9ed0" stroke="#1f6f94" stroke-width="0.8"/>
<line x1="418" y1="719" x2="422" y2="719" stroke="#1f6f94" stroke-width="1" />
<rect x="423.7" y="719" width="4.4" height="0.6" fill="#4a9ed0" stroke="#1f6f94" stroke-width="0.8"/>
<rect x="430.3" y="719" width="4.4" height="0.9" fill="#4a9ed0" stroke="#1f6f94" stroke-width="0.8"/>
<rect x="436.2" y="719" width="4.4" height="0.9" fill="#4a9ed0" stroke="#1f6f94" stroke-width="0.8"/>
<rect x="442.1" y="719" width="4.4" height="0.9" fill="#4a9ed0" stroke="#1f6f94" stroke-width="0.8"/>
<line x1="448.2" y1="719" x2="452.2" y2="719" stroke="#1f6f94" stroke-width="1" />
<rect x="453.9" y="718.1" width="4.4" height="0.9" fill="#4a9ed0" stroke="#1f6f94" stroke-width="0.8"/>
<rect x="459.8" y="718.1" width="4.4" height="0.9" fill="#4a9ed0" stroke="#1f6f94" stroke-width="0.8"/>
<rect x="465.7" y="718.1" width="4.4" height="0.9" fill="#4a9ed0" stroke="#1f6f94" stroke-width="0.8"/>
<rect x="471.3" y="717.2" width="4.4" height="1.8" fill="#4a9ed0" stroke="#1f6f94" stroke-width="0.8"/>
<rect x="477.2" y="717.5" width="4.4" height="1.5" fill="#4a9ed0" stroke="#1f6f94" stroke-width="0.8"/>
<rect x="483.1" y="717.2" width="4.4" height="1.8" fill="#4a9ed0" stroke="#1f6f94" stroke-width="0.8"/>
<rect x="489" y="718.1" width="4.4" height="0.9" fill="#4a9ed0" stroke="#1f6f94" stroke-width="0.8"/>
<rect x="494.9" y="718.1" width="4.4" height="0.9" fill="#4a9ed0" stroke="#1f6f94" stroke-width="0.8"/>
<rect x="500.8" y="718.4" width="4.4" height="0.6" fill="#4a9ed0" stroke="#1f6f94" stroke-width="0.8"/>
<line x1="506.9" y1="719" x2="510.9" y2="719" stroke="#1f6f94" stroke-width="1" />
<rect x="512.3" y="719" width="4.4" height="0.6" fill="#4a9ed0" stroke="#1f6f94" stroke-width="0.8"/>
<rect x="518.2" y="719" width="4.4" height="1.5" fill="#4a9ed0" stroke="#1f6f94" stroke-width="0.8"/>
<rect x="524.1" y="719" width="4.4" height="2.1" fill="#4a9ed0" stroke="#1f6f94" stroke-width="0.8"/>
<rect x="530" y="719" width="4.4" height="2.1" fill="#4a9ed0" stroke="#1f6f94" stroke-width="0.8"/>
<rect x="535.9" y="719" width="4.4" height="2.4" fill="#4a9ed0" stroke="#1f6f94" stroke-width="0.8"/>
<rect x="541.8" y="719" width="4.4" height="2.4" fill="#4a9ed0" stroke="#1f6f94" stroke-width="0.8"/>
<rect x="547.7" y="719" width="4.4" height="2.4" fill="#4a9ed0" stroke="#1f6f94" stroke-width="0.8"/>
<rect x="554.3" y="719" width="4.4" height="2.1" fill="#4a9ed0" stroke="#1f6f94" stroke-width="0.8"/>
<rect x="560.2" y="719" width="4.4" height="1.8" fill="#4a9ed0" stroke="#1f6f94" stroke-width="0.8"/>
<rect x="566.1" y="719" width="4.4" height="1.5" fill="#4a9ed0" stroke="#1f6f94" stroke-width="0.8"/>
<rect x="572" y="719" width="4.4" height="1.2" fill="#4a9ed0" stroke="#1f6f94" stroke-width="0.8"/>
<rect x="577.9" y="719" width="4.4" height="0.6" fill="#4a9ed0" stroke="#1f6f94" stroke-width="0.8"/>
<line x1="584" y1="719" x2="588" y2="719" stroke="#1f6f94" stroke-width="1" />
<line x1="589.9" y1="719" x2="593.9" y2="719" stroke="#1f6f94" stroke-width="1" />
<rect x="595.3" y="718.4" width="4.4" height="0.6" fill="#4a9ed0" stroke="#1f6f94" stroke-width="0.8"/>
<rect x="601.2" y="717.8" width="4.4" height="1.2" fill="#4a9ed0" stroke="#1f6f94" stroke-width="0.8"/>
<rect x="607.1" y="716.6" width="4.4" height="2.4" fill="#4a9ed0" stroke="#1f6f94" stroke-width="0.8"/>
<rect x="613" y="715.5" width="4.4" height="3.5" fill="#4a9ed0" stroke="#1f6f94" stroke-width="0.8"/>
<rect x="618.9" y="714.6" width="4.4" height="4.4" fill="#4a9ed0" stroke="#1f6f94" stroke-width="0.8"/>
<rect x="624.8" y="714.3" width="4.4" height="4.7" fill="#4a9ed0" stroke="#1f6f94" stroke-width="0.8"/>
<rect x="630.7" y="714.6" width="4.4" height="4.4" fill="#4a9ed0" stroke="#1f6f94" stroke-width="0.8"/>
<rect x="636.3" y="714.9" width="4.4" height="4.1" fill="#4a9ed0" stroke="#1f6f94" stroke-width="0.8"/>
<rect x="642.2" y="715.8" width="4.4" height="3.2" fill="#4a9ed0" stroke="#1f6f94" stroke-width="0.8"/>
<rect x="648.1" y="715.8" width="4.4" height="3.2" fill="#4a9ed0" stroke="#1f6f94" stroke-width="0.8"/>
<rect x="654" y="715.5" width="4.4" height="3.5" fill="#4a9ed0" stroke="#1f6f94" stroke-width="0.8"/>
<rect x="659.9" y="715.8" width="4.4" height="3.2" fill="#4a9ed0" stroke="#1f6f94" stroke-width="0.8"/>
<rect x="665.8" y="716.1" width="4.4" height="2.9" fill="#4a9ed0" stroke="#1f6f94" stroke-width="0.8"/>
<rect x="671.7" y="716.4" width="4.4" height="2.6" fill="#4a9ed0" stroke="#1f6f94" stroke-width="0.8"/>
<rect x="678.3" y="715.8" width="4.4" height="3.2" fill="#4a9ed0" stroke="#1f6f94" stroke-width="0.8"/>
<rect x="684.2" y="714.3" width="4.4" height="4.7" fill="#4a9ed0" stroke="#1f6f94" stroke-width="0.8"/>
<rect x="690.1" y="713.7" width="4.4" height="5.3" fill="#4a9ed0" stroke="#1f6f94" stroke-width="0.8"/>
<rect x="696" y="712.5" width="4.4" height="6.5" fill="#4a9ed0" stroke="#1f6f94" stroke-width="0.8"/>
<rect x="701.9" y="711.6" width="4.4" height="7.4" fill="#4a9ed0" stroke="#1f6f94" stroke-width="0.8"/>
<rect x="707.8" y="712.2" width="4.4" height="6.8" fill="#4a9ed0" stroke="#1f6f94" stroke-width="0.8"/>
<rect x="713.7" y="712.5" width="4.4" height="6.5" fill="#4a9ed0" stroke="#1f6f94" stroke-width="0.8"/>
<rect x="719.3" y="710.8" width="4.4" height="8.2" fill="#4a9ed0" stroke="#1f6f94" stroke-width="0.8"/>
<rect x="725.2" y="711.1" width="4.4" height="7.9" fill="#4a9ed0" stroke="#1f6f94" stroke-width="0.8"/>
<rect x="731.1" y="712.5" width="4.4" height="6.5" fill="#4a9ed0" stroke="#1f6f94" stroke-width="0.8"/>
<rect x="737" y="713.7" width="4.4" height="5.3" fill="#4a9ed0" stroke="#1f6f94" stroke-width="0.8"/>
<rect x="742.9" y="714.9" width="4.4" height="4.1" fill="#4a9ed0" stroke="#1f6f94" stroke-width="0.8"/>
<rect x="748.8" y="716.4" width="4.4" height="2.6" fill="#4a9ed0" stroke="#1f6f94" stroke-width="0.8"/>
<rect x="754.7" y="717.5" width="4.4" height="1.5" fill="#4a9ed0" stroke="#1f6f94" stroke-width="0.8"/>
<rect x="760.3" y="718.1" width="4.4" height="0.9" fill="#4a9ed0" stroke="#1f6f94" stroke-width="0.8"/>
<line x1="766.4" y1="719" x2="770.4" y2="719" stroke="#1f6f94" stroke-width="1" />
<rect x="772.1" y="719" width="4.4" height="1.2" fill="#4a9ed0" stroke="#1f6f94" stroke-width="0.8"/>
<rect x="778" y="719" width="4.4" height="1.8" fill="#4a9ed0" stroke="#1f6f94" stroke-width="0.8"/>
<rect x="783.9" y="719" width="4.4" height="2.1" fill="#4a9ed0" stroke="#1f6f94" stroke-width="0.8"/>
<rect x="789.8" y="719" width="4.4" height="1.8" fill="#4a9ed0" stroke="#1f6f94" stroke-width="0.8"/>
<rect x="795.7" y="719" width="4.4" height="2.4" fill="#4a9ed0" stroke="#1f6f94" stroke-width="0.8"/>
<rect x="802.3" y="719" width="4.4" height="2.1" fill="#4a9ed0" stroke="#1f6f94" stroke-width="0.8"/>
<rect x="808.2" y="719" width="4.4" height="2.6" fill="#4a9ed0" stroke="#1f6f94" stroke-width="0.8"/>
<rect x="814.1" y="719" width="4.4" height="2.9" fill="#4a9ed0" stroke="#1f6f94" stroke-width="0.8"/>
<rect x="820" y="719" width="4.4" height="4.1" fill="#4a9ed0" stroke="#1f6f94" stroke-width="0.8"/>
<rect x="825.9" y="719" width="4.4" height="3.8" fill="#4a9ed0" stroke="#1f6f94" stroke-width="0.8"/>
<rect x="831.8" y="719" width="4.4" height="3.2" fill="#4a9ed0" stroke="#1f6f94" stroke-width="0.8"/>
<rect x="837.7" y="719" width="4.4" height="3.5" fill="#4a9ed0" stroke="#1f6f94" stroke-width="0.8"/>
<rect x="843.3" y="716.6" width="4.4" height="2.4" fill="#4a9ed0" stroke="#1f6f94" stroke-width="0.8"/>
<rect x="849.2" y="711.1" width="4.4" height="7.9" fill="#4a9ed0" stroke="#1f6f94" stroke-width="0.8"/>
<rect x="855.1" y="709.3" width="4.4" height="9.7" fill="#4a9ed0" stroke="#1f6f94" stroke-width="0.8"/>
<rect x="861" y="709" width="4.4" height="10" fill="#4a9ed0" stroke="#1f6f94" stroke-width="0.8"/>
<rect x="866.9" y="709" width="4.4" height="10" fill="#4a9ed0" stroke="#1f6f94" stroke-width="0.8"/>
<rect x="872.8" y="710.2" width="4.4" height="8.8" fill="#4a9ed0" stroke="#1f6f94" stroke-width="0.8"/>
<rect x="878.7" y="709" width="4.4" height="10" fill="#4a9ed0" stroke="#1f6f94" stroke-width="0.8"/>
<rect x="884.3" y="702.2" width="4.4" height="16.8" fill="#4a9ed0" stroke="#1f6f94" stroke-width="0.8"/>
<rect x="890.2" y="693.4" width="4.4" height="25.6" fill="#4a9ed0" stroke="#1f6f94" stroke-width="0.8"/>
<rect x="896.1" y="690.7" width="4.4" height="28.3" fill="#4a9ed0" stroke="#1f6f94" stroke-width="0.8"/>
<rect x="902" y="690.2" width="4.4" height="28.8" fill="#4a9ed0" stroke="#1f6f94" stroke-width="0.8"/>
<rect x="907.9" y="692.2" width="4.4" height="26.8" fill="#4a9ed0" stroke="#1f6f94" stroke-width="0.8"/>
<rect x="913.8" y="691" width="4.4" height="28" fill="#4a9ed0" stroke="#1f6f94" stroke-width="0.8"/>
<rect x="919.7" y="692.5" width="4.4" height="26.5" fill="#4a9ed0" stroke="#1f6f94" stroke-width="0.8"/>
<rect x="926.3" y="690.5" width="4.4" height="28.5" fill="#4a9ed0" stroke="#1f6f94" stroke-width="0.8"/>
<rect x="932.2" y="694.9" width="4.4" height="24.1" fill="#4a9ed0" stroke="#1f6f94" stroke-width="0.8"/>
<rect x="938.1" y="696.6" width="4.4" height="22.4" fill="#4a9ed0" stroke="#1f6f94" stroke-width="0.8"/>
<polyline points="17,706 26,707 40,707.4 54,705.6 68,705.4 80,704 88,705.4 96,706.6 106,706.4 120,705 136,702 150,699.4 160,698.2 170,698.2 180,699 192,702 204,707 216,712 228,716.4 240,719.4 250,720.6 267.6,723 280,725.6 294,729 308.6,732.6 320,734.6 332,737 344,738.6 352,738.4 364,737 376,735 390.4,732.6 404,732.4 416,731.4 432.4,731.6 440,732.6 452,732 464,731.4 473.4,731 480,730.4 492,729.4 504,729 520,729.6 534,731 548,732.4 560,733 574,733.6 588,734.4 600,734 616,732.4 628,729.4 638.6,727.4 650,725.6 662,724 674,722.4 688,720 700,716.4 710,714.4 721.4,710.4 733,706.4 745,704 756.6,703 768.4,703.4 780.4,704 792,704.6 804,705.6 815.4,707.4 827.2,709.4 839.4,710.4 845.4,710.6 851,709 857.4,706 863.2,703.6 869.2,700.6 874.6,698.4 880.4,695.6 886.6,691.6 892.4,686 898.4,678.6 904.4,670.6 910.4,663 916.4,655.6 922.4,648.6 928.6,641.4 934,636 939.6,632.4" fill="none" stroke="#f01818" stroke-width="1.3" stroke-linejoin="round" />
<polyline points="17,710.4 26,709.4 34,707.4 42,706 49,704 54,703.4 60,704.6 68,704.4 74,703.4 80,703.6 88,707 95.4,709.4 102,707 110,705 120,703 130,698.6 138,697.4 143.4,697 149,695.4 155,696.4 166,696.4 172,699 180,702.4 190,706.6 200,712 208,715 216,719.4 224,722 232,724 240,724.4 245,724 249,722.4 256,723.4 263,723.4 267.6,725 274,729 284,732.6 296,735.6 308.6,737.6 320,739.4 332,740.4 344,740.4 349.6,738.6 360,734.4 370,732 380,731.4 390.4,730.6 404,730.6 416,730.6 426,732 432.4,732 438,733 448,732.4 460,730.6 473.4,729 480,728 492,728 504,728 514.6,730.4 526,732.4 534,732.6 544,734.4 556.4,734.4 562,735.4 568,734.4 580,734.4 592,734.4 604,732.6 616,728.4 628,724.6 638.6,723.6 650,722.4 662,720.6 672,720 680.6,718.4 692,713 702,708.4 710,707 718,704 727,700 736,700 745,700.4 754,701.4 762.6,702.4 774,704.6 786,706.4 798,707.4 804,707.6 814,710.6 824,713 833.4,713.4 839.4,714.4 845.4,708 851,701 857.4,695.4 863.2,693 869.2,690.4 874.6,689 880.4,685 886.6,675 892.4,659.4 898.4,650 904.4,642.6 910.4,637 916.4,630 922.4,624.6 928.6,615.4 934,612.6 939.6,609.4" fill="none" stroke="#000" stroke-width="1.7" stroke-linejoin="round" />
<rect x="17.3" y="852.5" width="4.4" height="12" fill="#4a9ed0" stroke="#1f6f94" stroke-width="0.9"/>
<rect x="23.2" y="852.5" width="4.4" height="9.2" fill="#4a9ed0" stroke="#1f6f94" stroke-width="0.9"/>
<rect x="29.1" y="852.5" width="4.4" height="6" fill="#4a9ed0" stroke="#1f6f94" stroke-width="0.9"/>
<rect x="35" y="852.5" width="4.4" height="1.2" fill="#4a9ed0" stroke="#1f6f94" stroke-width="0.9"/>
<rect x="40.9" y="850.1" width="4.4" height="2.4" fill="#4a9ed0" stroke="#1f6f94" stroke-width="0.9"/>
<rect x="46.8" y="845.1" width="4.4" height="7.4" fill="#4a9ed0" stroke="#1f6f94" stroke-width="0.9"/>
<rect x="52.7" y="845.1" width="4.4" height="7.4" fill="#4a9ed0" stroke="#1f6f94" stroke-width="0.9"/>
<rect x="58.3" y="850.7" width="4.4" height="1.8" fill="#4a9ed0" stroke="#1f6f94" stroke-width="0.9"/>
<rect x="64.2" y="850.5" width="4.4" height="2" fill="#4a9ed0" stroke="#1f6f94" stroke-width="0.9"/>
<rect x="70.1" y="847.5" width="4.4" height="5" fill="#4a9ed0" stroke="#1f6f94" stroke-width="0.9"/>
<rect x="76" y="848.5" width="4.4" height="4" fill="#4a9ed0" stroke="#1f6f94" stroke-width="0.9"/>
<rect x="81.9" y="852.5" width="4.4" height="2" fill="#4a9ed0" stroke="#1f6f94" stroke-width="0.9"/>
<rect x="87.8" y="852.5" width="4.4" height="6" fill="#4a9ed0" stroke="#1f6f94" stroke-width="0.9"/>
<rect x="93.7" y="852.5" width="4.4" height="12" fill="#4a9ed0" stroke="#1f6f94" stroke-width="0.9"/>
<rect x="99.3" y="852.5" width="4.4" height="4" fill="#4a9ed0" stroke="#1f6f94" stroke-width="0.9"/>
<rect x="105.2" y="849.1" width="4.4" height="3.4" fill="#4a9ed0" stroke="#1f6f94" stroke-width="0.9"/>
<rect x="111.1" y="847.5" width="4.4" height="5" fill="#4a9ed0" stroke="#1f6f94" stroke-width="0.9"/>
<rect x="117" y="845.5" width="4.4" height="7" fill="#4a9ed0" stroke="#1f6f94" stroke-width="0.9"/>
<rect x="122.9" y="842.5" width="4.4" height="10" fill="#4a9ed0" stroke="#1f6f94" stroke-width="0.9"/>
<rect x="128.8" y="837.5" width="4.4" height="15" fill="#4a9ed0" stroke="#1f6f94" stroke-width="0.9"/>
<rect x="134.7" y="837.5" width="4.4" height="15" fill="#4a9ed0" stroke="#1f6f94" stroke-width="0.9"/>
<rect x="141.3" y="840.7" width="4.4" height="11.8" fill="#4a9ed0" stroke="#1f6f94" stroke-width="0.9"/>
<rect x="147.2" y="837.5" width="4.4" height="15" fill="#4a9ed0" stroke="#1f6f94" stroke-width="0.9"/>
<rect x="153.1" y="842.5" width="4.4" height="10" fill="#4a9ed0" stroke="#1f6f94" stroke-width="0.9"/>
<rect x="159" y="844.5" width="4.4" height="8" fill="#4a9ed0" stroke="#1f6f94" stroke-width="0.9"/>
<rect x="164.9" y="845.5" width="4.4" height="7" fill="#4a9ed0" stroke="#1f6f94" stroke-width="0.9"/>
<rect x="170.8" y="852.5" width="4.4" height="3" fill="#4a9ed0" stroke="#1f6f94" stroke-width="0.9"/>
<rect x="176.7" y="852.5" width="4.4" height="8" fill="#4a9ed0" stroke="#1f6f94" stroke-width="0.9"/>
<rect x="182.3" y="852.5" width="4.4" height="16" fill="#4a9ed0" stroke="#1f6f94" stroke-width="0.9"/>
<rect x="188.2" y="852.5" width="4.4" height="19" fill="#4a9ed0" stroke="#1f6f94" stroke-width="0.9"/>
<rect x="194.1" y="852.5" width="4.4" height="24" fill="#4a9ed0" stroke="#1f6f94" stroke-width="0.9"/>
<rect x="200" y="852.5" width="4.4" height="28" fill="#4a9ed0" stroke="#1f6f94" stroke-width="0.9"/>
<rect x="205.9" y="852.5" width="4.4" height="29" fill="#4a9ed0" stroke="#1f6f94" stroke-width="0.9"/>
<rect x="211.8" y="852.5" width="4.4" height="32" fill="#4a9ed0" stroke="#1f6f94" stroke-width="0.9"/>
<rect x="217.7" y="852.5" width="4.4" height="33" fill="#4a9ed0" stroke="#1f6f94" stroke-width="0.9"/>
<rect x="223.3" y="852.5" width="4.4" height="30" fill="#4a9ed0" stroke="#1f6f94" stroke-width="0.9"/>
<rect x="229.2" y="852.5" width="4.4" height="29" fill="#4a9ed0" stroke="#1f6f94" stroke-width="0.9"/>
<rect x="235.1" y="852.5" width="4.4" height="23.6" fill="#4a9ed0" stroke="#1f6f94" stroke-width="0.9"/>
<rect x="241" y="852.5" width="4.4" height="18" fill="#4a9ed0" stroke="#1f6f94" stroke-width="0.9"/>
<rect x="246.9" y="852.5" width="4.4" height="10" fill="#4a9ed0" stroke="#1f6f94" stroke-width="0.9"/>
<rect x="252.8" y="852.5" width="4.4" height="8.6" fill="#4a9ed0" stroke="#1f6f94" stroke-width="0.9"/>
<rect x="258.7" y="852.5" width="4.4" height="8" fill="#4a9ed0" stroke="#1f6f94" stroke-width="0.9"/>
<rect x="265.3" y="852.5" width="4.4" height="12" fill="#4a9ed0" stroke="#1f6f94" stroke-width="0.9"/>
<rect x="271.2" y="852.5" width="4.4" height="18" fill="#4a9ed0" stroke="#1f6f94" stroke-width="0.9"/>
<rect x="277.1" y="852.5" width="4.4" height="21" fill="#4a9ed0" stroke="#1f6f94" stroke-width="0.9"/>
<rect x="283" y="852.5" width="4.4" height="22.2" fill="#4a9ed0" stroke="#1f6f94" stroke-width="0.9"/>
<rect x="288.9" y="852.5" width="4.4" height="20" fill="#4a9ed0" stroke="#1f6f94" stroke-width="0.9"/>
<rect x="294.8" y="852.5" width="4.4" height="20" fill="#4a9ed0" stroke="#1f6f94" stroke-width="0.9"/>
<rect x="300.7" y="852.5" width="4.4" height="19" fill="#4a9ed0" stroke="#1f6f94" stroke-width="0.9"/>
<rect x="306.3" y="852.5" width="4.4" height="20" fill="#4a9ed0" stroke="#1f6f94" stroke-width="0.9"/>
<rect x="312.2" y="852.5" width="4.4" height="18" fill="#4a9ed0" stroke="#1f6f94" stroke-width="0.9"/>
<rect x="318.1" y="852.5" width="4.4" height="16" fill="#4a9ed0" stroke="#1f6f94" stroke-width="0.9"/>
<rect x="324" y="852.5" width="4.4" height="15" fill="#4a9ed0" stroke="#1f6f94" stroke-width="0.9"/>
<rect x="329.9" y="852.5" width="4.4" height="14" fill="#4a9ed0" stroke="#1f6f94" stroke-width="0.9"/>
<rect x="335.8" y="852.5" width="4.4" height="12" fill="#4a9ed0" stroke="#1f6f94" stroke-width="0.9"/>
<rect x="341.7" y="852.5" width="4.4" height="10" fill="#4a9ed0" stroke="#1f6f94" stroke-width="0.9"/>
<line x1="347.5" y1="852.5" x2="351.5" y2="852.5" stroke="#1f6f94" stroke-width="1" />
<rect x="353.2" y="847.5" width="4.4" height="5" fill="#4a9ed0" stroke="#1f6f94" stroke-width="0.9"/>
<rect x="359.1" y="842.5" width="4.4" height="10" fill="#4a9ed0" stroke="#1f6f94" stroke-width="0.9"/>
<rect x="365" y="841.5" width="4.4" height="11" fill="#4a9ed0" stroke="#1f6f94" stroke-width="0.9"/>
<rect x="370.9" y="840.5" width="4.4" height="12" fill="#4a9ed0" stroke="#1f6f94" stroke-width="0.9"/>
<rect x="376.8" y="841.5" width="4.4" height="11" fill="#4a9ed0" stroke="#1f6f94" stroke-width="0.9"/>
<rect x="382.7" y="841.5" width="4.4" height="11" fill="#4a9ed0" stroke="#1f6f94" stroke-width="0.9"/>
<rect x="388.3" y="843.5" width="4.4" height="9" fill="#4a9ed0" stroke="#1f6f94" stroke-width="0.9"/>
<rect x="394.2" y="846.5" width="4.4" height="6" fill="#4a9ed0" stroke="#1f6f94" stroke-width="0.9"/>
<rect x="400.1" y="848.5" width="4.4" height="4" fill="#4a9ed0" stroke="#1f6f94" stroke-width="0.9"/>
<rect x="406" y="849.5" width="4.4" height="3" fill="#4a9ed0" stroke="#1f6f94" stroke-width="0.9"/>
<rect x="411.9" y="849.5" width="4.4" height="3" fill="#4a9ed0" stroke="#1f6f94" stroke-width="0.9"/>
<rect x="417.8" y="852.5" width="4.4" height="1" fill="#4a9ed0" stroke="#1f6f94" stroke-width="0.9"/>
<rect x="423.7" y="852.5" width="4.4" height="2" fill="#4a9ed0" stroke="#1f6f94" stroke-width="0.9"/>
<rect x="430.3" y="852.5" width="4.4" height="3" fill="#4a9ed0" stroke="#1f6f94" stroke-width="0.9"/>
<rect x="436.2" y="852.5" width="4.4" height="3" fill="#4a9ed0" stroke="#1f6f94" stroke-width="0.9"/>
<rect x="442.1" y="852.5" width="4.4" height="3" fill="#4a9ed0" stroke="#1f6f94" stroke-width="0.9"/>
<rect x="448" y="852.5" width="4.4" height="0.6" fill="#4a9ed0" stroke="#1f6f94" stroke-width="0.9"/>
<rect x="453.9" y="849.5" width="4.4" height="3" fill="#4a9ed0" stroke="#1f6f94" stroke-width="0.9"/>
<rect x="459.8" y="849.5" width="4.4" height="3" fill="#4a9ed0" stroke="#1f6f94" stroke-width="0.9"/>
<rect x="465.7" y="849.5" width="4.4" height="3" fill="#4a9ed0" stroke="#1f6f94" stroke-width="0.9"/>
<rect x="471.3" y="846.5" width="4.4" height="6" fill="#4a9ed0" stroke="#1f6f94" stroke-width="0.9"/>
<rect x="477.2" y="847.5" width="4.4" height="5" fill="#4a9ed0" stroke="#1f6f94" stroke-width="0.9"/>
<rect x="483.1" y="846.5" width="4.4" height="6" fill="#4a9ed0" stroke="#1f6f94" stroke-width="0.9"/>
<rect x="489" y="849.5" width="4.4" height="3" fill="#4a9ed0" stroke="#1f6f94" stroke-width="0.9"/>
<rect x="494.9" y="849.5" width="4.4" height="3" fill="#4a9ed0" stroke="#1f6f94" stroke-width="0.9"/>
<rect x="500.8" y="850.5" width="4.4" height="2" fill="#4a9ed0" stroke="#1f6f94" stroke-width="0.9"/>
<line x1="506.9" y1="852.5" x2="510.9" y2="852.5" stroke="#1f6f94" stroke-width="1" />
<rect x="512.3" y="852.5" width="4.4" height="2" fill="#4a9ed0" stroke="#1f6f94" stroke-width="0.9"/>
<rect x="518.2" y="852.5" width="4.4" height="5" fill="#4a9ed0" stroke="#1f6f94" stroke-width="0.9"/>
<rect x="524.1" y="852.5" width="4.4" height="7" fill="#4a9ed0" stroke="#1f6f94" stroke-width="0.9"/>
<rect x="530" y="852.5" width="4.4" height="7" fill="#4a9ed0" stroke="#1f6f94" stroke-width="0.9"/>
<rect x="535.9" y="852.5" width="4.4" height="8" fill="#4a9ed0" stroke="#1f6f94" stroke-width="0.9"/>
<rect x="541.8" y="852.5" width="4.4" height="8" fill="#4a9ed0" stroke="#1f6f94" stroke-width="0.9"/>
<rect x="547.7" y="852.5" width="4.4" height="8" fill="#4a9ed0" stroke="#1f6f94" stroke-width="0.9"/>
<rect x="554.3" y="852.5" width="4.4" height="7" fill="#4a9ed0" stroke="#1f6f94" stroke-width="0.9"/>
<rect x="560.2" y="852.5" width="4.4" height="6" fill="#4a9ed0" stroke="#1f6f94" stroke-width="0.9"/>
<rect x="566.1" y="852.5" width="4.4" height="5" fill="#4a9ed0" stroke="#1f6f94" stroke-width="0.9"/>
<rect x="572" y="852.5" width="4.4" height="4" fill="#4a9ed0" stroke="#1f6f94" stroke-width="0.9"/>
<rect x="577.9" y="852.5" width="4.4" height="2" fill="#4a9ed0" stroke="#1f6f94" stroke-width="0.9"/>
<line x1="584" y1="852.5" x2="588" y2="852.5" stroke="#1f6f94" stroke-width="1" />
<line x1="589.9" y1="852.5" x2="593.9" y2="852.5" stroke="#1f6f94" stroke-width="1" />
<rect x="595.3" y="850.5" width="4.4" height="2" fill="#4a9ed0" stroke="#1f6f94" stroke-width="0.9"/>
<rect x="601.2" y="848.5" width="4.4" height="4" fill="#4a9ed0" stroke="#1f6f94" stroke-width="0.9"/>
<rect x="607.1" y="844.5" width="4.4" height="8" fill="#4a9ed0" stroke="#1f6f94" stroke-width="0.9"/>
<rect x="613" y="840.5" width="4.4" height="12" fill="#4a9ed0" stroke="#1f6f94" stroke-width="0.9"/>
<rect x="618.9" y="837.5" width="4.4" height="15" fill="#4a9ed0" stroke="#1f6f94" stroke-width="0.9"/>
<rect x="624.8" y="836.5" width="4.4" height="16" fill="#4a9ed0" stroke="#1f6f94" stroke-width="0.9"/>
<rect x="630.7" y="837.5" width="4.4" height="15" fill="#4a9ed0" stroke="#1f6f94" stroke-width="0.9"/>
<rect x="636.3" y="838.5" width="4.4" height="14" fill="#4a9ed0" stroke="#1f6f94" stroke-width="0.9"/>
<rect x="642.2" y="841.5" width="4.4" height="11" fill="#4a9ed0" stroke="#1f6f94" stroke-width="0.9"/>
<rect x="648.1" y="841.5" width="4.4" height="11" fill="#4a9ed0" stroke="#1f6f94" stroke-width="0.9"/>
<rect x="654" y="840.5" width="4.4" height="12" fill="#4a9ed0" stroke="#1f6f94" stroke-width="0.9"/>
<rect x="659.9" y="841.5" width="4.4" height="11" fill="#4a9ed0" stroke="#1f6f94" stroke-width="0.9"/>
<rect x="665.8" y="842.5" width="4.4" height="10" fill="#4a9ed0" stroke="#1f6f94" stroke-width="0.9"/>
<rect x="671.7" y="843.5" width="4.4" height="9" fill="#4a9ed0" stroke="#1f6f94" stroke-width="0.9"/>
<rect x="678.3" y="841.5" width="4.4" height="11" fill="#4a9ed0" stroke="#1f6f94" stroke-width="0.9"/>
<rect x="684.2" y="836.5" width="4.4" height="16" fill="#4a9ed0" stroke="#1f6f94" stroke-width="0.9"/>
<rect x="690.1" y="834.5" width="4.4" height="18" fill="#4a9ed0" stroke="#1f6f94" stroke-width="0.9"/>
<rect x="696" y="830.5" width="4.4" height="22" fill="#4a9ed0" stroke="#1f6f94" stroke-width="0.9"/>
<rect x="701.9" y="827.5" width="4.4" height="25" fill="#4a9ed0" stroke="#1f6f94" stroke-width="0.9"/>
<rect x="707.8" y="829.5" width="4.4" height="23" fill="#4a9ed0" stroke="#1f6f94" stroke-width="0.9"/>
<rect x="713.7" y="830.5" width="4.4" height="22" fill="#4a9ed0" stroke="#1f6f94" stroke-width="0.9"/>
<rect x="719.3" y="824.5" width="4.4" height="28" fill="#4a9ed0" stroke="#1f6f94" stroke-width="0.9"/>
<rect x="725.2" y="825.5" width="4.4" height="27" fill="#4a9ed0" stroke="#1f6f94" stroke-width="0.9"/>
<rect x="731.1" y="830.5" width="4.4" height="22" fill="#4a9ed0" stroke="#1f6f94" stroke-width="0.9"/>
<rect x="737" y="834.5" width="4.4" height="18" fill="#4a9ed0" stroke="#1f6f94" stroke-width="0.9"/>
<rect x="742.9" y="838.5" width="4.4" height="14" fill="#4a9ed0" stroke="#1f6f94" stroke-width="0.9"/>
<rect x="748.8" y="843.5" width="4.4" height="9" fill="#4a9ed0" stroke="#1f6f94" stroke-width="0.9"/>
<rect x="754.7" y="847.5" width="4.4" height="5" fill="#4a9ed0" stroke="#1f6f94" stroke-width="0.9"/>
<rect x="760.3" y="849.5" width="4.4" height="3" fill="#4a9ed0" stroke="#1f6f94" stroke-width="0.9"/>
<rect x="766.2" y="852.5" width="4.4" height="1" fill="#4a9ed0" stroke="#1f6f94" stroke-width="0.9"/>
<rect x="772.1" y="852.5" width="4.4" height="4" fill="#4a9ed0" stroke="#1f6f94" stroke-width="0.9"/>
<rect x="778" y="852.5" width="4.4" height="6" fill="#4a9ed0" stroke="#1f6f94" stroke-width="0.9"/>
<rect x="783.9" y="852.5" width="4.4" height="7" fill="#4a9ed0" stroke="#1f6f94" stroke-width="0.9"/>
<rect x="789.8" y="852.5" width="4.4" height="6" fill="#4a9ed0" stroke="#1f6f94" stroke-width="0.9"/>
<rect x="795.7" y="852.5" width="4.4" height="8" fill="#4a9ed0" stroke="#1f6f94" stroke-width="0.9"/>
<rect x="802.3" y="852.5" width="4.4" height="7" fill="#4a9ed0" stroke="#1f6f94" stroke-width="0.9"/>
<rect x="808.2" y="852.5" width="4.4" height="9" fill="#4a9ed0" stroke="#1f6f94" stroke-width="0.9"/>
<rect x="814.1" y="852.5" width="4.4" height="10" fill="#4a9ed0" stroke="#1f6f94" stroke-width="0.9"/>
<rect x="820" y="852.5" width="4.4" height="14" fill="#4a9ed0" stroke="#1f6f94" stroke-width="0.9"/>
<rect x="825.9" y="852.5" width="4.4" height="13" fill="#4a9ed0" stroke="#1f6f94" stroke-width="0.9"/>
<rect x="831.8" y="852.5" width="4.4" height="11" fill="#4a9ed0" stroke="#1f6f94" stroke-width="0.9"/>
<rect x="837.7" y="852.5" width="4.4" height="12" fill="#4a9ed0" stroke="#1f6f94" stroke-width="0.9"/>
<rect x="843.3" y="844.5" width="4.4" height="8" fill="#4a9ed0" stroke="#1f6f94" stroke-width="0.9"/>
<rect x="849.2" y="825.5" width="4.4" height="27" fill="#4a9ed0" stroke="#1f6f94" stroke-width="0.9"/>
<rect x="855.1" y="819.5" width="4.4" height="33" fill="#4a9ed0" stroke="#1f6f94" stroke-width="0.9"/>
<rect x="861" y="818.5" width="4.4" height="34" fill="#4a9ed0" stroke="#1f6f94" stroke-width="0.9"/>
<rect x="866.9" y="818.5" width="4.4" height="34" fill="#4a9ed0" stroke="#1f6f94" stroke-width="0.9"/>
<rect x="872.8" y="822.5" width="4.4" height="30" fill="#4a9ed0" stroke="#1f6f94" stroke-width="0.9"/>
<rect x="878.7" y="818.5" width="4.4" height="34" fill="#4a9ed0" stroke="#1f6f94" stroke-width="0.9"/>
<rect x="884.3" y="795.5" width="4.4" height="57" fill="#4a9ed0" stroke="#1f6f94" stroke-width="0.9"/>
<rect x="890.2" y="765.5" width="4.4" height="87" fill="#4a9ed0" stroke="#1f6f94" stroke-width="0.9"/>
<rect x="896.1" y="756.5" width="4.4" height="96" fill="#4a9ed0" stroke="#1f6f94" stroke-width="0.9"/>
<rect x="902" y="754.5" width="4.4" height="98" fill="#4a9ed0" stroke="#1f6f94" stroke-width="0.9"/>
<rect x="907.9" y="761.5" width="4.4" height="91" fill="#4a9ed0" stroke="#1f6f94" stroke-width="0.9"/>
<rect x="913.8" y="757.5" width="4.4" height="95" fill="#4a9ed0" stroke="#1f6f94" stroke-width="0.9"/>
<rect x="919.7" y="762.5" width="4.4" height="90" fill="#4a9ed0" stroke="#1f6f94" stroke-width="0.9"/>
<rect x="926.3" y="755.5" width="4.4" height="97" fill="#4a9ed0" stroke="#1f6f94" stroke-width="0.9"/>
<rect x="932.2" y="770.5" width="4.4" height="82" fill="#4a9ed0" stroke="#1f6f94" stroke-width="0.9"/>
<rect x="938.1" y="776.5" width="4.4" height="76" fill="#4a9ed0" stroke="#1f6f94" stroke-width="0.9"/>
<line x1="16.5" y1="926.5" x2="1206.5" y2="926.5" stroke="#6c6c74" stroke-width="1.2" />
<line x1="16.5" y1="1004.5" x2="1206.5" y2="1004.5" stroke="#6c6c74" stroke-width="1.2" />
<line x1="16.5" y1="965.5" x2="1206.5" y2="965.5" stroke="#666670" stroke-width="1" stroke-dasharray="8 3 2 3"/>
<polyline points="17,1005 19.4,1004 25.4,997.4 30.4,979 36.4,957.4 42.4,939 48.8,926.4 54.8,917 60.6,918.4 66.6,925 72.4,930 78.4,929.4 84.2,929.4 90.2,937 95.4,955.4 101.6,966 107.6,965.4 113.4,944.4 119.4,925 125.2,913.4 131.4,911 137.4,909.4 143.4,913.4 149.2,919 154.6,924.4 160.4,924.4 166.4,924 172.4,926.4 178.4,937 184.6,957.4 190.6,979 196.4,999 202.4,1009 208.4,1016 213.6,1019 219.4,1022 225.6,1024 231.6,1024.4 237.4,1019.4 243.4,1012 249.2,1000.4 255.2,988.4 261,978.4 267.6,981.4 272.6,990.4 278.4,1007.4 284.4,1019.4 290.4,1025.4 296.4,1025.4 302.4,1024.4 308.6,1025.8 314,1026.4 320,1026.4 326,1025.8 331.4,1026.4 337.4,1027.8 343.4,1028.4 349.2,1019.4 355.4,1000.4 361.2,971.4 367.2,950.4 373,939.4 379,943.4 384.8,947.4 390.4,956.4 396.4,963.4 402.4,980.4 408.4,993.4 414.4,1003.4 420.4,1006.4 426.4,1008.4 432.4,1012.4 438,1013.4 444,1013.4 449.6,1008.4 455.4,1000.4 461.4,991.4 467.4,987.4 473.4,982.4 479.4,978.4 485.2,968.4 491,972.4 497,980.4 502.8,998.4 508.8,1008.4 514.6,1016.4 520.6,1020.4 526.4,1024.4 532.4,1027.4 538.2,1028.4 544,1029.4 550,1030.4 556,1029 562,1026.4 568,1023.4 573.4,1021.4 579.4,1019.8 585.4,1019.8 591.2,1020.4 597.6,1017.4 603.4,1010.4 609,989.4 615,962.4 621,933 627,917 632.6,914.4 638.6,923.4 644.4,938.4 650.4,947.4 656.4,951.4 662.4,944.4 668,937.4 674,933.4 680,931.4 686,926.4 691.6,917.4 697.4,912.4 703.4,909.8 709.4,910.4 715.4,912.4 721.4,917 727,920.4 733,925 739,932.4 745,939.4 750.6,945.4 756.6,948.4 762.6,951.4 768.4,958.4 774.4,965.4 780.4,976.4 786,985.4 792,992.4 798,996.4 804,995 809.6,997.4 815.4,997.4 821.4,1006.4 827.2,1008.4 833.4,1006.4 839.4,993.4 845.4,975 851,955.4 857.4,932.4 863.2,920.4 869.2,917.4 874.6,922.4 880.4,921.8 886.6,919.4 892.4,917 898.4,920.4 904.4,922.4 910.4,925.4 916.4,923.4 922.4,919.4 928.6,915.4 934,917.8 939.6,924.4" fill="none" stroke="#f01818" stroke-width="1.3" stroke-linejoin="round" />
<polyline points="17,1005 19.4,1000.4 25.4,979.4 30.4,950.4 36.4,942 42.4,923 48.8,915.4 54.8,914.4 60.6,926.4 66.6,934 72.4,930.4 78.4,923.4 84.2,933 90.2,954 95.4,981.4 101.6,965 107.6,947.4 113.4,913.4 119.4,913.4 125.2,912.4 131.4,906.4 137.4,911.4 143.4,922 149.2,925 154.6,926.4 160.4,921.4 166.4,924.4 172.4,933 178.4,953 184.6,986.4 190.6,998.4 196.4,1013 202.4,1015.4 208.4,1020 213.6,1021.4 219.4,1025 225.6,1025 231.6,1021.4 237.4,1011 243.4,1003.4 249.2,983.4 255.2,979.4 261,972.4 267.6,992.4 272.6,1008.4 278.4,1026.4 284.4,1027.4 290.4,1023.4 296.4,1024.4 302.4,1024.4 308.6,1028.4 314,1026.4 320,1025.4 326,1025.4 331.4,1028.4 337.4,1029.4 343.4,1027.4 349.2,1000.4 355.4,971.4 361.2,940.4 367.2,938.4 373,939.4 379,952.4 384.8,950.4 390.4,964.4 396.4,975.4 402.4,1000.4 408.4,1005.4 414.4,1004.4 420.4,1009.4 426.4,1010.4 432.4,1016.4 438,1011.4 444,1012.4 449.6,1000.4 455.4,989.4 461.4,983.4 467.4,988.4 473.4,975.4 479.4,970.4 485.2,959.4 491,986.4 497,996.4 502.8,1012.4 508.8,1015.4 514.6,1021 520.6,1025.4 526.4,1026.4 532.4,1029.4 538.2,1030.4 544,1030.4 550,1030.4 556,1026.4 562,1023.4 568,1019.4 573.4,1020.4 579.4,1019.4 585.4,1019.4 591.2,1021.4 597.6,1009.4 603.4,997.4 609,959.4 615,932.4 621,908.4 627,910.4 632.6,924.4 638.6,934.4 644.4,954.4 650.4,953.4 656.4,947.4 662.4,932.4 668,931.4 674,935.4 680,926.4 686,917.4 691.6,910.4 697.4,909.4 703.4,909.4 709.4,912.4 715.4,917.4 721.4,919.4 727,923.4 733,933.4 739,942.4 745,945.4 750.6,948 756.6,952.4 762.6,956.4 768.4,965.4 774.4,974.4 780.4,990.4 786,995.4 792,994.4 798,999.4 804,991.4 809.6,1001.4 815.4,998.4 821.4,1018.4 827.2,1008.4 833.4,991.4 839.4,980.4 845.4,953.4 851,933.4 857.4,910.4 863.2,917.4 869.2,924.4 874.6,925.8 880.4,915.4 886.6,918.4 892.4,916.4 898.4,925.8 904.4,924.4 910.4,925.8 916.4,919.4 922.4,913.4 928.6,913.4 934,926.4 939.6,932.4" fill="none" stroke="#000" stroke-width="1.7" stroke-linejoin="round" />
<polyline points="17,1137 19.4,1139.4 25.4,1135 31.2,1138 37,1140.4 43,1142.4 48.8,1145.4 54.8,1147.4 60.6,1139.4 66.6,1143.4 72.4,1146.4 78.4,1147.4 84.2,1145.4 90.2,1141.4 95.4,1137.4 101.6,1144.4 107.6,1146.4 113.4,1143.4 119.4,1144.4 125.2,1146.4 131.4,1148.4 137.4,1152.4 143.4,1152.4 149.2,1156.4 154.6,1158.4 160.4,1159.4 166.4,1160.4 172.4,1143.4 178.4,1144.4 184.6,1138.4 190.6,1140.4 196.4,1143.4 202.4,1138.4 208.4,1138.4 213.6,1136.4 219.4,1136.4 225.6,1138.4 231.6,1135 237.4,1137.4 243.4,1139.4 249.2,1143.4 255.2,1141.4 261,1142.4 267.6,1128.4 272.6,1124.4 278.4,1123.4 284.4,1125.4 290.4,1125.4 296.4,1125.4 302.4,1121.4 308.6,1118.4 314,1118.4 320,1120.4 326,1118.4 331.4,1115.4 337.4,1114.4 343.4,1116.4 349.2,1127.4 355.4,1130.4 361.2,1132.4 367.2,1130.4 373,1131.4 379,1128.4 384.8,1131.4 390.4,1127.4 396.4,1122.4 402.4,1119.4 408.4,1122.4 414.4,1124.4 420.4,1110.4 426.4,1108.4 432.4,1116.4 438,1109.4 444,1112.4 449.6,1117.4 455.4,1120.4 461.4,1119.4 467.4,1121.4 473.4,1128.4 479.4,1123.4 485.2,1124.4 491,1118.4 497,1121.4 502.8,1123.4 508.8,1119.4 514.6,1108.4 520.6,1108.4 526.4,1107.4 532.4,1106.4 538.2,1107.4 544,1104.4 550,1102.4 556,1097.4 562,1100.4 568,1103.4 573.4,1105.4 579.4,1102.4 585.4,1106.4 591.2,1107.4 597.6,1114.4 603.4,1119.4 609,1126.4 615,1131.4 621,1136.4 627,1139.4 632.6,1142.4 638.6,1146.4 644.4,1135.4 650.4,1138.4 656.4,1142.4 662.4,1145.4 668,1143.4 674,1141.4 680,1144.4 686,1151.4 691.6,1153.4 697.4,1156.4 703.4,1158.4 709.4,1158.4 715.4,1155.4 721.4,1162.4 727,1151.4 733,1140.4 739,1140.4 745,1142.4 750.6,1141.4 756.6,1140.4 762.6,1143.4 768.4,1148.4 774.4,1143.4 780.4,1146.4 786,1147.4 792,1149.4 798,1145.4 804,1149.4 809.6,1138.4 815.4,1136.4 821.4,1128.4 827.2,1129.4 833.4,1132.4 839.4,1131.4 845.4,1147.4 851,1151.4 857.4,1155.4 863.2,1149.4 869.2,1150.4 874.6,1152.4 880.4,1156.4 886.6,1165.4 892.4,1169.4 898.4,1171.4 904.4,1171.4 910.4,1172.4 916.4,1173.4 922.4,1174.4 928.6,1175.4 934,1142.4 939.6,1148.4" fill="none" stroke="#a41446" stroke-width="1.2" stroke-linejoin="round" />
<polyline points="17,1126 19.4,1118 25.4,1121.6 30.4,1125.4 36.4,1116.4 42.4,1118.4 48.8,1118.4 54.8,1121.4 60.6,1125.4 66.6,1125.4 72.4,1121.4 78.4,1127.4 84.2,1130.4 90.2,1133 95.4,1135.4 101.6,1117.4 107.6,1116.4 113.4,1120.4 119.4,1121.4 125.2,1116.4 131.4,1109.4 137.4,1108.4 143.4,1114.4 149.2,1114.4 154.6,1120.4 160.4,1123.4 166.4,1121.4 172.4,1128.4 178.4,1131.4 184.6,1135.4 190.6,1136.4 196.4,1136.4 202.4,1138.4 208.4,1139 213.6,1141.4 219.4,1143.4 225.6,1141.4 231.6,1144.4 237.4,1144.4 243.4,1141.4 249.2,1134.4 255.2,1138 261,1140.4 267.6,1144.4 272.6,1147.4 278.4,1148.4 284.4,1147.4 290.4,1148.4 296.4,1150.4 302.4,1151.4 308.6,1153.4 314,1154.4 320,1153.4 326,1154.4 331.4,1155.4 337.4,1156.4 343.4,1155.4 349.2,1127.4 355.4,1128.4 361.2,1130.4 367.2,1133.4 373,1136 379,1138.4 384.8,1140.4 390.4,1143.4 396.4,1145.4 402.4,1147.4 408.4,1146.4 414.4,1147.4 420.4,1151.4 426.4,1153.4 432.4,1141.4 438,1143.4 444,1143.4 449.6,1134.4 455.4,1133.4 461.4,1137.4 467.4,1139.4 473.4,1124.4 479.4,1128.4 485.2,1131.4 491,1136.4 497,1138.4 502.8,1139.4 508.8,1141.4 514.6,1145.4 520.6,1147.4 526.4,1148.4 532.4,1149.4 538.2,1150.4 544,1151.4 550,1153.4 556,1154.4 562,1151.4 568,1152.4 573.4,1152.4 579.4,1153.4 585.4,1153.4 591.2,1154.4 597.6,1150.4 603.4,1144.4 609,1140.4 615,1127.4 621,1122.4 627,1126.4 632.6,1131.4 638.6,1127.4 644.4,1132.4 650.4,1136.4 656.4,1132.4 662.4,1134.4 668,1137.4 674,1140.4 680,1126.4 686,1103.4 691.6,1109.4 697.4,1105.4 703.4,1097.4 709.4,1100.4 715.4,1105.4 721.4,1073.4 727,1081.4 733,1087.4 739,1092.4 745,1096.4 750.6,1101.4 756.6,1106.4 762.6,1101.4 768.4,1099.4 774.4,1103.4 780.4,1105.4 786,1107.4 792,1104.4 798,1109.4 804,1105.4 809.6,1111.4 815.4,1114.4 821.4,1120.4 827.2,1126.4 833.4,1122.4 839.4,1126.4 845.4,1086.4 851,1076.4 857.4,1082.4 863.2,1088.4 869.2,1088.4 874.6,1087.4 880.4,1085.4 886.6,1044.4 892.4,1050.4 898.4,1066.4 904.4,1073.4 910.4,1073.4 916.4,1073.4 922.4,1082.4 928.6,1062.4 934,1092.4 939.6,1104.4" fill="none" stroke="#0e6a3c" stroke-width="1.2" stroke-linejoin="round" />
<polyline points="17,1137.4 25.4,1139.6 31.2,1140.6 37,1140.4 43,1139 48.8,1138 54.8,1137.4 60.6,1138.4 66.6,1138.4 72.4,1138.4 78.4,1137.4 84.2,1138.4 90.2,1140.6 95.4,1142.4 101.6,1141.4 107.6,1139.4 113.4,1139 119.4,1138 125.2,1137 131.4,1134.4 137.4,1131 143.4,1128 149.2,1125.4 154.6,1123 160.4,1120.4 166.4,1118 172.4,1120 178.4,1122.4 184.6,1126.4 190.6,1129.4 196.4,1132.4 202.4,1135.4 208.4,1138 213.6,1140.4 219.4,1142.4 225.6,1144 231.6,1145.4 237.4,1147.4 243.4,1149.4 249.2,1150.4 255.2,1151.4 261,1153.4 267.6,1153.4 272.6,1151.4 278.4,1149.4 284.4,1148.4 290.4,1146.4 296.4,1145.4 302.4,1142.4 308.6,1139.4 314,1137.4 320,1134.4 326,1132.4 331.4,1129.4 337.4,1126.4 343.4,1124.4 349.2,1128 355.4,1131.4 361.2,1135.4 367.2,1138 373,1140.4 379,1141.4 384.8,1143.4 390.4,1143.4 396.4,1142.4 402.4,1141.4 408.4,1140.4 414.4,1139.4 420.4,1136.4 426.4,1132.4 432.4,1133.4 438,1132.4 444,1131.4 449.6,1132.4 455.4,1134 461.4,1135.4 467.4,1135.4 473.4,1138 479.4,1140.4 485.2,1142.4 491,1143.4 497,1143.4 502.8,1144.4 508.8,1143.4 514.6,1141.4 520.6,1138.4 526.4,1136.4 532.4,1133.4 538.2,1130.4 544,1128.4 550,1125.4 556,1121.4 562,1119.4 568,1116.4 573.4,1114.4 579.4,1112.4 585.4,1111.4 591.2,1109.4 597.6,1108.4 603.4,1110.4 609,1113.4 615,1117.4 621,1120.4 627,1122.4 632.6,1125.4 638.6,1126.4 644.4,1129.4 650.4,1132.4 656.4,1134.4 662.4,1136.4 668,1138.4 674,1141.4 680,1141 686,1137.4 691.6,1134.4 697.4,1130.4 703.4,1126.4 709.4,1121.4 715.4,1118.4 721.4,1112.4 727,1109.4 733,1109.4 739,1109.4 745,1108.4 750.6,1109.4 756.6,1110.4 762.6,1110.4 768.4,1108.4 774.4,1109.4 780.4,1108.4 786,1108.4 792,1107.4 798,1108.4 804,1107.4 809.6,1109.4 815.4,1111.4 821.4,1115.4 827.2,1119.4 833.4,1122.4 839.4,1126.4 845.4,1123.4 851,1119.4 857.4,1115.4 863.2,1112.4 869.2,1110.4 874.6,1107.4 880.4,1104.4 886.6,1098.4 892.4,1092.4 898.4,1086.4 904.4,1080.4 910.4,1075.4 916.4,1070.4 922.4,1065.4 928.6,1060.4 934,1063.4 939.6,1066.4" fill="none" stroke="#000" stroke-width="1.8" stroke-linejoin="round" />
<path d="M19.5 588.5v3M19.5 602.5v-3M19.5 1182.5v3M25.4 588.5v1.6M25.4 602.5v-1.6M25.4 1182.5v1.6M31.3 588.5v1.6M31.3 602.5v-1.6M31.3 1182.5v1.6M37.2 588.5v1.6M37.2 602.5v-1.6M37.2 1182.5v1.6M43.1 588.5v1.6M43.1 602.5v-1.6M43.1 1182.5v1.6M49 588.5v1.6M49 602.5v-1.6M49 1182.5v1.6M54.9 588.5v1.6M54.9 602.5v-1.6M54.9 1182.5v1.6M60.5 588.5v3M60.5 602.5v-3M60.5 1182.5v3M66.4 588.5v1.6M66.4 602.5v-1.6M66.4 1182.5v1.6M72.3 588.5v1.6M72.3 602.5v-1.6M72.3 1182.5v1.6M78.2 588.5v1.6M78.2 602.5v-1.6M78.2 1182.5v1.6M84.1 588.5v1.6M84.1 602.5v-1.6M84.1 1182.5v1.6M90 588.5v1.6M90 602.5v-1.6M90 1182.5v1.6M95.9 588.5v1.6M95.9 602.5v-1.6M95.9 1182.5v1.6M101.5 588.5v3M101.5 602.5v-3M101.5 1182.5v3M107.4 588.5v1.6M107.4 602.5v-1.6M107.4 1182.5v1.6M113.3 588.5v1.6M113.3 602.5v-1.6M113.3 1182.5v1.6M119.2 588.5v1.6M119.2 602.5v-1.6M119.2 1182.5v1.6M125.1 588.5v1.6M125.1 602.5v-1.6M125.1 1182.5v1.6M131 588.5v1.6M131 602.5v-1.6M131 1182.5v1.6M136.9 588.5v1.6M136.9 602.5v-1.6M136.9 1182.5v1.6M143.5 588.5v3M143.5 602.5v-3M143.5 1182.5v3M149.4 588.5v1.6M149.4 602.5v-1.6M149.4 1182.5v1.6M155.3 588.5v1.6M155.3 602.5v-1.6M155.3 1182.5v1.6M161.2 588.5v1.6M161.2 602.5v-1.6M161.2 1182.5v1.6M167.1 588.5v1.6M167.1 602.5v-1.6M167.1 1182.5v1.6M173 588.5v1.6M173 602.5v-1.6M173 1182.5v1.6M178.9 588.5v1.6M178.9 602.5v-1.6M178.9 1182.5v1.6M184.5 588.5v3M184.5 602.5v-3M184.5 1182.5v3M190.4 588.5v1.6M190.4 602.5v-1.6M190.4 1182.5v1.6M196.3 588.5v1.6M196.3 602.5v-1.6M196.3 1182.5v1.6M202.2 588.5v1.6M202.2 602.5v-1.6M202.2 1182.5v1.6M208.1 588.5v1.6M208.1 602.5v-1.6M208.1 1182.5v1.6M214 588.5v1.6M214 602.5v-1.6M214 1182.5v1.6M219.9 588.5v1.6M219.9 602.5v-1.6M219.9 1182.5v1.6M225.5 588.5v3M225.5 602.5v-3M225.5 1182.5v3M231.4 588.5v1.6M231.4 602.5v-1.6M231.4 1182.5v1.6M237.3 588.5v1.6M237.3 602.5v-1.6M237.3 1182.5v1.6M243.2 588.5v1.6M243.2 602.5v-1.6M243.2 1182.5v1.6M249.1 588.5v1.6M249.1 602.5v-1.6M249.1 1182.5v1.6M255 588.5v1.6M255 602.5v-1.6M255 1182.5v1.6M260.9 588.5v1.6M260.9 602.5v-1.6M260.9 1182.5v1.6M267.5 588.5v3M267.5 602.5v-3M267.5 1182.5v3M273.4 588.5v1.6M273.4 602.5v-1.6M273.4 1182.5v1.6M279.3 588.5v1.6M279.3 602.5v-1.6M279.3 1182.5v1.6M285.2 588.5v1.6M285.2 602.5v-1.6M285.2 1182.5v1.6M291.1 588.5v1.6M291.1 602.5v-1.6M291.1 1182.5v1.6M297 588.5v1.6M297 602.5v-1.6M297 1182.5v1.6M302.9 588.5v1.6M302.9 602.5v-1.6M302.9 1182.5v1.6M308.5 588.5v3M308.5 602.5v-3M308.5 1182.5v3M314.4 588.5v1.6M314.4 602.5v-1.6M314.4 1182.5v1.6M320.3 588.5v1.6M320.3 602.5v-1.6M320.3 1182.5v1.6M326.2 588.5v1.6M326.2 602.5v-1.6M326.2 1182.5v1.6M332.1 588.5v1.6M332.1 602.5v-1.6M332.1 1182.5v1.6M338 588.5v1.6M338 602.5v-1.6M338 1182.5v1.6M343.9 588.5v1.6M343.9 602.5v-1.6M343.9 1182.5v1.6M349.5 588.5v3M349.5 602.5v-3M349.5 1182.5v3M355.4 588.5v1.6M355.4 602.5v-1.6M355.4 1182.5v1.6M361.3 588.5v1.6M361.3 602.5v-1.6M361.3 1182.5v1.6M367.2 588.5v1.6M367.2 602.5v-1.6M367.2 1182.5v1.6M373.1 588.5v1.6M373.1 602.5v-1.6M373.1 1182.5v1.6M379 588.5v1.6M379 602.5v-1.6M379 1182.5v1.6M384.9 588.5v1.6M384.9 602.5v-1.6M384.9 1182.5v1.6M390.5 588.5v3M390.5 602.5v-3M390.5 1182.5v3M396.4 588.5v1.6M396.4 602.5v-1.6M396.4 1182.5v1.6M402.3 588.5v1.6M402.3 602.5v-1.6M402.3 1182.5v1.6M408.2 588.5v1.6M408.2 602.5v-1.6M408.2 1182.5v1.6M414.1 588.5v1.6M414.1 602.5v-1.6M414.1 1182.5v1.6M420 588.5v1.6M420 602.5v-1.6M420 1182.5v1.6M425.9 588.5v1.6M425.9 602.5v-1.6M425.9 1182.5v1.6M432.5 588.5v3M432.5 602.5v-3M432.5 1182.5v3M438.4 588.5v1.6M438.4 602.5v-1.6M438.4 1182.5v1.6M444.3 588.5v1.6M444.3 602.5v-1.6M444.3 1182.5v1.6M450.2 588.5v1.6M450.2 602.5v-1.6M450.2 1182.5v1.6M456.1 588.5v1.6M456.1 602.5v-1.6M456.1 1182.5v1.6M462 588.5v1.6M462 602.5v-1.6M462 1182.5v1.6M467.9 588.5v1.6M467.9 602.5v-1.6M467.9 1182.5v1.6M473.5 588.5v3M473.5 602.5v-3M473.5 1182.5v3M479.4 588.5v1.6M479.4 602.5v-1.6M479.4 1182.5v1.6M485.3 588.5v1.6M485.3 602.5v-1.6M485.3 1182.5v1.6M491.2 588.5v1.6M491.2 602.5v-1.6M491.2 1182.5v1.6M497.1 588.5v1.6M497.1 602.5v-1.6M497.1 1182.5v1.6M503 588.5v1.6M503 602.5v-1.6M503 1182.5v1.6M508.9 588.5v1.6M508.9 602.5v-1.6M508.9 1182.5v1.6M514.5 588.5v3M514.5 602.5v-3M514.5 1182.5v3M520.4 588.5v1.6M520.4 602.5v-1.6M520.4 1182.5v1.6M526.3 588.5v1.6M526.3 602.5v-1.6M526.3 1182.5v1.6M532.2 588.5v1.6M532.2 602.5v-1.6M532.2 1182.5v1.6M538.1 588.5v1.6M538.1 602.5v-1.6M538.1 1182.5v1.6M544 588.5v1.6M544 602.5v-1.6M544 1182.5v1.6M549.9 588.5v1.6M549.9 602.5v-1.6M549.9 1182.5v1.6M556.5 588.5v3M556.5 602.5v-3M556.5 1182.5v3M562.4 588.5v1.6M562.4 602.5v-1.6M562.4 1182.5v1.6M568.3 588.5v1.6M568.3 602.5v-1.6M568.3 1182.5v1.6M574.2 588.5v1.6M574.2 602.5v-1.6M574.2 1182.5v1.6M580.1 588.5v1.6M580.1 602.5v-1.6M580.1 1182.5v1.6M586 588.5v1.6M586 602.5v-1.6M586 1182.5v1.6M591.9 588.5v1.6M591.9 602.5v-1.6M591.9 1182.5v1.6M597.5 588.5v3M597.5 602.5v-3M597.5 1182.5v3M603.4 588.5v1.6M603.4 602.5v-1.6M603.4 1182.5v1.6M609.3 588.5v1.6M609.3 602.5v-1.6M609.3 1182.5v1.6M615.2 588.5v1.6M615.2 602.5v-1.6M615.2 1182.5v1.6M621.1 588.5v1.6M621.1 602.5v-1.6M621.1 1182.5v1.6M627 588.5v1.6M627 602.5v-1.6M627 1182.5v1.6M632.9 588.5v1.6M632.9 602.5v-1.6M632.9 1182.5v1.6M638.5 588.5v3M638.5 602.5v-3M638.5 1182.5v3M644.4 588.5v1.6M644.4 602.5v-1.6M644.4 1182.5v1.6M650.3 588.5v1.6M650.3 602.5v-1.6M650.3 1182.5v1.6M656.2 588.5v1.6M656.2 602.5v-1.6M656.2 1182.5v1.6M662.1 588.5v1.6M662.1 602.5v-1.6M662.1 1182.5v1.6M668 588.5v1.6M668 602.5v-1.6M668 1182.5v1.6M673.9 588.5v1.6M673.9 602.5v-1.6M673.9 1182.5v1.6M680.5 588.5v3M680.5 602.5v-3M680.5 1182.5v3M686.4 588.5v1.6M686.4 602.5v-1.6M686.4 1182.5v1.6M692.3 588.5v1.6M692.3 602.5v-1.6M692.3 1182.5v1.6M698.2 588.5v1.6M698.2 602.5v-1.6M698.2 1182.5v1.6M704.1 588.5v1.6M704.1 602.5v-1.6M704.1 1182.5v1.6M710 588.5v1.6M710 602.5v-1.6M710 1182.5v1.6M715.9 588.5v1.6M715.9 602.5v-1.6M715.9 1182.5v1.6M721.5 588.5v3M721.5 602.5v-3M721.5 1182.5v3M727.4 588.5v1.6M727.4 602.5v-1.6M727.4 1182.5v1.6M733.3 588.5v1.6M733.3 602.5v-1.6M733.3 1182.5v1.6M739.2 588.5v1.6M739.2 602.5v-1.6M739.2 1182.5v1.6M745.1 588.5v1.6M745.1 602.5v-1.6M745.1 1182.5v1.6M751 588.5v1.6M751 602.5v-1.6M751 1182.5v1.6M756.9 588.5v1.6M756.9 602.5v-1.6M756.9 1182.5v1.6M762.5 588.5v3M762.5 602.5v-3M762.5 1182.5v3M768.4 588.5v1.6M768.4 602.5v-1.6M768.4 1182.5v1.6M774.3 588.5v1.6M774.3 602.5v-1.6M774.3 1182.5v1.6M780.2 588.5v1.6M780.2 602.5v-1.6M780.2 1182.5v1.6M786.1 588.5v1.6M786.1 602.5v-1.6M786.1 1182.5v1.6M792 588.5v1.6M792 602.5v-1.6M792 1182.5v1.6M797.9 588.5v1.6M797.9 602.5v-1.6M797.9 1182.5v1.6M804.5 588.5v3M804.5 602.5v-3M804.5 1182.5v3M810.4 588.5v1.6M810.4 602.5v-1.6M810.4 1182.5v1.6M816.3 588.5v1.6M816.3 602.5v-1.6M816.3 1182.5v1.6M822.2 588.5v1.6M822.2 602.5v-1.6M822.2 1182.5v1.6M828.1 588.5v1.6M828.1 602.5v-1.6M828.1 1182.5v1.6M834 588.5v1.6M834 602.5v-1.6M834 1182.5v1.6M839.9 588.5v1.6M839.9 602.5v-1.6M839.9 1182.5v1.6M845.5 588.5v3M845.5 602.5v-3M845.5 1182.5v3M851.4 588.5v1.6M851.4 602.5v-1.6M851.4 1182.5v1.6M857.3 588.5v1.6M857.3 602.5v-1.6M857.3 1182.5v1.6M863.2 588.5v1.6M863.2 602.5v-1.6M863.2 1182.5v1.6M869.1 588.5v1.6M869.1 602.5v-1.6M869.1 1182.5v1.6M875 588.5v1.6M875 602.5v-1.6M875 1182.5v1.6M880.9 588.5v1.6M880.9 602.5v-1.6M880.9 1182.5v1.6M886.5 588.5v3M886.5 602.5v-3M886.5 1182.5v3M892.4 588.5v1.6M892.4 602.5v-1.6M892.4 1182.5v1.6M898.3 588.5v1.6M898.3 602.5v-1.6M898.3 1182.5v1.6M904.2 588.5v1.6M904.2 602.5v-1.6M904.2 1182.5v1.6M910.1 588.5v1.6M910.1 602.5v-1.6M910.1 1182.5v1.6M916 588.5v1.6M916 602.5v-1.6M916 1182.5v1.6M921.9 588.5v1.6M921.9 602.5v-1.6M921.9 1182.5v1.6M928.5 588.5v3M928.5 602.5v-3M928.5 1182.5v3M934.4 588.5v1.6M934.4 602.5v-1.6M934.4 1182.5v1.6M940.3 588.5v1.6M940.3 602.5v-1.6M940.3 1182.5v1.6M946.2 588.5v1.6M946.2 602.5v-1.6M946.2 1182.5v1.6M952.1 588.5v1.6M952.1 602.5v-1.6M952.1 1182.5v1.6M958 588.5v1.6M958 602.5v-1.6M958 1182.5v1.6M963.9 588.5v1.6M963.9 602.5v-1.6M963.9 1182.5v1.6M969.5 588.5v3M969.5 602.5v-3M969.5 1182.5v3M975.4 588.5v1.6M975.4 602.5v-1.6M975.4 1182.5v1.6M981.3 588.5v1.6M981.3 602.5v-1.6M981.3 1182.5v1.6M987.2 588.5v1.6M987.2 602.5v-1.6M987.2 1182.5v1.6M993.1 588.5v1.6M993.1 602.5v-1.6M993.1 1182.5v1.6M999 588.5v1.6M999 602.5v-1.6M999 1182.5v1.6M1004.9 588.5v1.6M1004.9 602.5v-1.6M1004.9 1182.5v1.6M1010.5 588.5v3M1010.5 602.5v-3M1010.5 1182.5v3M1016.4 588.5v1.6M1016.4 602.5v-1.6M1016.4 1182.5v1.6M1022.3 588.5v1.6M1022.3 602.5v-1.6M1022.3 1182.5v1.6M1028.2 588.5v1.6M1028.2 602.5v-1.6M1028.2 1182.5v1.6M1034.1 588.5v1.6M1034.1 602.5v-1.6M1034.1 1182.5v1.6M1040 588.5v1.6M1040 602.5v-1.6M1040 1182.5v1.6M1045.9 588.5v1.6M1045.9 602.5v-1.6M1045.9 1182.5v1.6M1051.5 588.5v3M1051.5 602.5v-3M1051.5 1182.5v3M1057.4 588.5v1.6M1057.4 602.5v-1.6M1057.4 1182.5v1.6M1063.3 588.5v1.6M1063.3 602.5v-1.6M1063.3 1182.5v1.6M1069.2 588.5v1.6M1069.2 602.5v-1.6M1069.2 1182.5v1.6M1075.1 588.5v1.6M1075.1 602.5v-1.6M1075.1 1182.5v1.6M1081 588.5v1.6M1081 602.5v-1.6M1081 1182.5v1.6M1086.9 588.5v1.6M1086.9 602.5v-1.6M1086.9 1182.5v1.6M1093.5 588.5v3M1093.5 602.5v-3M1093.5 1182.5v3M1099.4 588.5v1.6M1099.4 602.5v-1.6M1099.4 1182.5v1.6M1105.3 588.5v1.6M1105.3 602.5v-1.6M1105.3 1182.5v1.6M1111.2 588.5v1.6M1111.2 602.5v-1.6M1111.2 1182.5v1.6M1117.1 588.5v1.6M1117.1 602.5v-1.6M1117.1 1182.5v1.6M1123 588.5v1.6M1123 602.5v-1.6M1123 1182.5v1.6M1128.9 588.5v1.6M1128.9 602.5v-1.6M1128.9 1182.5v1.6M1134.5 588.5v3M1134.5 602.5v-3M1134.5 1182.5v3M1140.4 588.5v1.6M1140.4 602.5v-1.6M1140.4 1182.5v1.6M1146.3 588.5v1.6M1146.3 602.5v-1.6M1146.3 1182.5v1.6M1152.2 588.5v1.6M1152.2 602.5v-1.6M1152.2 1182.5v1.6M1158.1 588.5v1.6M1158.1 602.5v-1.6M1158.1 1182.5v1.6M1164 588.5v1.6M1164 602.5v-1.6M1164 1182.5v1.6M1169.9 588.5v1.6M1169.9 602.5v-1.6M1169.9 1182.5v1.6M1175.5 588.5v3M1175.5 602.5v-3M1175.5 1182.5v3M1181.4 588.5v1.6M1181.4 602.5v-1.6M1181.4 1182.5v1.6M1187.3 588.5v1.6M1187.3 602.5v-1.6M1187.3 1182.5v1.6M1193.2 588.5v1.6M1193.2 602.5v-1.6M1193.2 1182.5v1.6M1199.1 588.5v1.6M1199.1 602.5v-1.6M1199.1 1182.5v1.6M1205 588.5v1.6M1205 602.5v-1.6M1205 1182.5v1.6" stroke="#8a8a9f" stroke-width="1" fill="none"/>
<text x="19.5" y="599.2" font-size="10.3" font-family="'Liberation Sans',sans-serif" fill="#000" text-anchor="middle" >6</text>
<text x="19.5" y="1194.6" font-size="10.3" font-family="'Liberation Sans',sans-serif" fill="#000" text-anchor="middle" >6</text>
<text x="60.5" y="599.2" font-size="10.3" font-family="'Liberation Sans',sans-serif" fill="#000" text-anchor="middle" >7</text>
<text x="60.5" y="1194.6" font-size="10.3" font-family="'Liberation Sans',sans-serif" fill="#000" text-anchor="middle" >7</text>
<text x="101.5" y="599.2" font-size="10.3" font-family="'Liberation Sans',sans-serif" fill="#000" text-anchor="middle" >10</text>
<text x="101.5" y="1194.6" font-size="10.3" font-family="'Liberation Sans',sans-serif" fill="#000" text-anchor="middle" >10</text>
<text x="143.5" y="599.2" font-size="10.3" font-family="'Liberation Sans',sans-serif" fill="#000" text-anchor="middle" >11</text>
<text x="143.5" y="1194.6" font-size="10.3" font-family="'Liberation Sans',sans-serif" fill="#000" text-anchor="middle" >11</text>
<text x="184.5" y="599.2" font-size="10.3" font-family="'Liberation Sans',sans-serif" fill="#000" text-anchor="middle" >12</text>
<text x="184.5" y="1194.6" font-size="10.3" font-family="'Liberation Sans',sans-serif" fill="#000" text-anchor="middle" >12</text>
<text x="225.5" y="599.2" font-size="10.3" font-family="'Liberation Sans',sans-serif" fill="#000" text-anchor="middle" >13</text>
<text x="225.5" y="1194.6" font-size="10.3" font-family="'Liberation Sans',sans-serif" fill="#000" text-anchor="middle" >13</text>
<text x="267.5" y="599.2" font-size="10.3" font-family="'Liberation Sans',sans-serif" fill="#000" text-anchor="middle" >14</text>
<text x="267.5" y="1194.6" font-size="10.3" font-family="'Liberation Sans',sans-serif" fill="#000" text-anchor="middle" >14</text>
<text x="308.5" y="599.2" font-size="10.3" font-family="'Liberation Sans',sans-serif" fill="#000" text-anchor="middle" >17</text>
<text x="308.5" y="1194.6" font-size="10.3" font-family="'Liberation Sans',sans-serif" fill="#000" text-anchor="middle" >17</text>
<text x="349.5" y="599.2" font-size="10.3" font-family="'Liberation Sans',sans-serif" fill="#000" text-anchor="middle" >18</text>
<text x="349.5" y="1194.6" font-size="10.3" font-family="'Liberation Sans',sans-serif" fill="#000" text-anchor="middle" >18</text>
<text x="390.5" y="599.2" font-size="10.3" font-family="'Liberation Sans',sans-serif" fill="#000" text-anchor="middle" >19</text>
<text x="390.5" y="1194.6" font-size="10.3" font-family="'Liberation Sans',sans-serif" fill="#000" text-anchor="middle" >19</text>
<text x="432.5" y="599.2" font-size="10.3" font-family="'Liberation Sans',sans-serif" fill="#000" text-anchor="middle" >20</text>
<text x="432.5" y="1194.6" font-size="10.3" font-family="'Liberation Sans',sans-serif" fill="#000" text-anchor="middle" >20</text>
<text x="473.5" y="599.2" font-size="10.3" font-family="'Liberation Sans',sans-serif" fill="#000" text-anchor="middle" >21</text>
<text x="473.5" y="1194.6" font-size="10.3" font-family="'Liberation Sans',sans-serif" fill="#000" text-anchor="middle" >21</text>
<text x="514.5" y="599.2" font-size="10.3" font-family="'Liberation Sans',sans-serif" fill="#000" text-anchor="middle" >24</text>
<text x="514.5" y="1194.6" font-size="10.3" font-family="'Liberation Sans',sans-serif" fill="#000" text-anchor="middle" >24</text>
<text x="556.5" y="599.2" font-size="10.3" font-family="'Liberation Sans',sans-serif" fill="#000" text-anchor="middle" >25</text>
<text x="556.5" y="1194.6" font-size="10.3" font-family="'Liberation Sans',sans-serif" fill="#000" text-anchor="middle" >25</text>
<text x="597.5" y="599.2" font-size="10.3" font-family="'Liberation Sans',sans-serif" fill="#000" text-anchor="middle" >26</text>
<text x="597.5" y="1194.6" font-size="10.3" font-family="'Liberation Sans',sans-serif" fill="#000" text-anchor="middle" >26</text>
<text x="638.5" y="599.2" font-size="10.3" font-family="'Liberation Sans',sans-serif" fill="#000" text-anchor="middle" >27</text>
<text x="638.5" y="1194.6" font-size="10.3" font-family="'Liberation Sans',sans-serif" fill="#000" text-anchor="middle" >27</text>
<text x="680.5" y="599.2" font-size="10.3" font-family="'Liberation Sans',sans-serif" fill="#000" text-anchor="middle" >28</text>
<text x="680.5" y="1194.6" font-size="10.3" font-family="'Liberation Sans',sans-serif" fill="#000" text-anchor="middle" >28</text>
<text x="721.5" y="599.2" font-size="10.3" font-family="'Liberation Sans',sans-serif" fill="#000" text-anchor="middle" >31</text>
<text x="721.5" y="1194.6" font-size="10.3" font-family="'Liberation Sans',sans-serif" fill="#000" text-anchor="middle" >31</text>
<text x="762.5" y="599.2" font-size="11.2" font-family="'Liberation Sans',sans-serif" fill="#000" font-weight="bold" text-anchor="middle" >Apr</text>
<text x="762.5" y="1194.6" font-size="11.2" font-family="'Liberation Sans',sans-serif" fill="#000" font-weight="bold" text-anchor="middle" >Apr</text>
<text x="804.5" y="599.2" font-size="10.3" font-family="'Liberation Sans',sans-serif" fill="#000" text-anchor="middle" >2</text>
<text x="804.5" y="1194.6" font-size="10.3" font-family="'Liberation Sans',sans-serif" fill="#000" text-anchor="middle" >2</text>
<text x="845.5" y="599.2" font-size="10.3" font-family="'Liberation Sans',sans-serif" fill="#000" text-anchor="middle" >3</text>
<text x="845.5" y="1194.6" font-size="10.3" font-family="'Liberation Sans',sans-serif" fill="#000" text-anchor="middle" >3</text>
<text x="886.5" y="599.2" font-size="10.3" font-family="'Liberation Sans',sans-serif" fill="#000" text-anchor="middle" >4</text>
<text x="886.5" y="1194.6" font-size="10.3" font-family="'Liberation Sans',sans-serif" fill="#000" text-anchor="middle" >4</text>
<text x="928.5" y="599.2" font-size="10.3" font-family="'Liberation Sans',sans-serif" fill="#000" text-anchor="middle" >7</text>
<text x="928.5" y="1194.6" font-size="10.3" font-family="'Liberation Sans',sans-serif" fill="#000" text-anchor="middle" >7</text>
<text x="969.5" y="599.2" font-size="10.3" font-family="'Liberation Sans',sans-serif" fill="#000" text-anchor="middle" >8</text>
<text x="969.5" y="1194.6" font-size="10.3" font-family="'Liberation Sans',sans-serif" fill="#000" text-anchor="middle" >8</text>
<text x="1010.5" y="599.2" font-size="10.3" font-family="'Liberation Sans',sans-serif" fill="#000" text-anchor="middle" >9</text>
<text x="1010.5" y="1194.6" font-size="10.3" font-family="'Liberation Sans',sans-serif" fill="#000" text-anchor="middle" >9</text>
<text x="1051.5" y="599.2" font-size="10.3" font-family="'Liberation Sans',sans-serif" fill="#000" text-anchor="middle" >10</text>
<text x="1051.5" y="1194.6" font-size="10.3" font-family="'Liberation Sans',sans-serif" fill="#000" text-anchor="middle" >10</text>
<text x="1093.5" y="599.2" font-size="10.3" font-family="'Liberation Sans',sans-serif" fill="#000" text-anchor="middle" >11</text>
<text x="1093.5" y="1194.6" font-size="10.3" font-family="'Liberation Sans',sans-serif" fill="#000" text-anchor="middle" >11</text>
<text x="1134.5" y="599.2" font-size="10.3" font-family="'Liberation Sans',sans-serif" fill="#000" text-anchor="middle" >14</text>
<text x="1134.5" y="1194.6" font-size="10.3" font-family="'Liberation Sans',sans-serif" fill="#000" text-anchor="middle" >14</text>
<text x="1175.5" y="599.2" font-size="10.3" font-family="'Liberation Sans',sans-serif" fill="#000" text-anchor="middle" >15</text>
<text x="1175.5" y="1194.6" font-size="10.3" font-family="'Liberation Sans',sans-serif" fill="#000" text-anchor="middle" >15</text>
<path d="M1206.5 166.3h2M1206.5 159.8h2M1206.5 153.3h2M1206.5 146.8h2M1206.5 140.3h2M1206.5 133.8h2M1206.5 127.4h2M1206.5 120.9h2M1206.5 114.4h2M1206.5 107.9h2M1206.5 101.4h2M1206.5 94.9h2M1206.5 88.4h2M1206.5 81.9h2M1206.5 75.5h2M1206.5 69h2M1206.5 62.5h2M1206.5 56h2M1206.5 49.5h2M1206.5 43h2M1206.5 36.5h2M1206.5 49.5h3.5M1206.5 75.5h3.5M1206.5 101.4h3.5M1206.5 127.4h3.5M1206.5 153.3h3.5" stroke="#84849a" stroke-width="1" fill="none"/>
<text x="1209.8" y="52.8" font-size="10" font-family="'Liberation Sans',sans-serif" fill="#000" >90</text>
<text x="1209.8" y="78.8" font-size="10" font-family="'Liberation Sans',sans-serif" fill="#000" >70</text>
<text x="1209.8" y="104.7" font-size="10" font-family="'Liberation Sans',sans-serif" fill="#000" >50</text>
<text x="1209.8" y="130.7" font-size="10" font-family="'Liberation Sans',sans-serif" fill="#000" >30</text>
<text x="1209.8" y="156.6" font-size="10" font-family="'Liberation Sans',sans-serif" fill="#000" >10</text>
<path d="M1206.5 291.5h2M1206.5 288.8h2M1206.5 286.1h2M1206.5 283.5h2M1206.5 280.9h2M1206.5 278.3h2M1206.5 275.7h2M1206.5 273.1h2M1206.5 270.6h2M1206.5 268.1h2M1206.5 265.6h2M1206.5 263.1h2M1206.5 260.6h2M1206.5 258.2h2M1206.5 255.8h2M1206.5 253.3h2M1206.5 251h2M1206.5 248.6h2M1206.5 246.2h2M1206.5 243.9h2M1206.5 241.6h2M1206.5 239.3h2M1206.5 237h2M1206.5 234.7h2M1206.5 232.4h2M1206.5 230.2h2M1206.5 228h2M1206.5 225.8h2M1206.5 223.6h2M1206.5 221.4h2M1206.5 219.2h2M1206.5 217.1h2M1206.5 214.9h2M1206.5 212.8h2M1206.5 210.7h2M1206.5 208.6h2M1206.5 206.5h2M1206.5 204.4h2M1206.5 202.4h2M1206.5 200.3h2M1206.5 198.3h2M1206.5 196.3h2M1206.5 194.3h2M1206.5 192.3h2M1206.5 190.3h2M1206.5 188.3h2M1206.5 186.4h2M1206.5 184.4h2M1206.5 182.5h2M1206.5 180.6h2M1206.5 457h2M1206.5 450.3h2M1206.5 443.8h2M1206.5 437.4h2M1206.5 431.1h2M1206.5 424.9h2M1206.5 418.8h2M1206.5 412.9h2M1206.5 407.1h2M1206.5 401.3h2M1206.5 395.7h2M1206.5 390.2h2M1206.5 384.7h2M1206.5 379.4h2M1206.5 374.1h2M1206.5 368.9h2M1206.5 363.8h2M1206.5 358.8h2M1206.5 353.8h2M1206.5 349h2M1206.5 344.2h2M1206.5 339.4h2M1206.5 334.8h2M1206.5 330.2h2M1206.5 325.6h2M1206.5 321.2h2M1206.5 316.8h2M1206.5 312.4h2M1206.5 308.1h2M1206.5 303.9h2M1206.5 299.7h2M1206.5 295.6h2M1206.5 559.3h2M1206.5 554.8h2M1206.5 550.2h2M1206.5 545.8h2M1206.5 541.3h2M1206.5 537h2M1206.5 532.7h2M1206.5 528.5h2M1206.5 524.3h2M1206.5 520.2h2M1206.5 516.1h2M1206.5 512.1h2M1206.5 508.1h2M1206.5 504.2h2M1206.5 500.3h2M1206.5 496.4h2M1206.5 492.7h2M1206.5 488.9h2M1206.5 485.2h2M1206.5 481.5h2M1206.5 477.9h2M1206.5 474.3h2M1206.5 470.8h2M1206.5 467.3h2M1206.5 463.8h2M1206.5 460.4h2M1206.5 550.2h3.5M1206.5 516.1h3.5M1206.5 485.2h3.5M1206.5 457h3.5M1206.5 431.1h3.5M1206.5 407.1h3.5M1206.5 384.7h3.5M1206.5 363.8h3.5M1206.5 344.2h3.5M1206.5 325.6h3.5M1206.5 308.1h3.5M1206.5 291.5h3.5M1206.5 275.7h3.5M1206.5 260.6h3.5M1206.5 246.2h3.5M1206.5 232.4h3.5M1206.5 219.2h3.5M1206.5 206.5h3.5M1206.5 194.3h3.5M1206.5 182.5h3.5" stroke="#84849a" stroke-width="1" fill="none"/>
<text x="1209.8" y="553.5" font-size="10" font-family="'Liberation Sans',sans-serif" fill="#000" >18</text>
<text x="1209.8" y="519.4" font-size="10" font-family="'Liberation Sans',sans-serif" fill="#000" >20</text>
<text x="1209.8" y="488.5" font-size="10" font-family="'Liberation Sans',sans-serif" fill="#000" >22</text>
<text x="1209.8" y="460.3" font-size="10" font-family="'Liberation Sans',sans-serif" fill="#000" >24</text>
<text x="1209.8" y="434.4" font-size="10" font-family="'Liberation Sans',sans-serif" fill="#000" >26</text>
<text x="1209.8" y="410.4" font-size="10" font-family="'Liberation Sans',sans-serif" fill="#000" >28</text>
<text x="1209.8" y="388" font-size="10" font-family="'Liberation Sans',sans-serif" fill="#000" >30</text>
<text x="1209.8" y="367.1" font-size="10" font-family="'Liberation Sans',sans-serif" fill="#000" >32</text>
<text x="1209.8" y="347.5" font-size="10" font-family="'Liberation Sans',sans-serif" fill="#000" >34</text>
<text x="1209.8" y="328.9" font-size="10" font-family="'Liberation Sans',sans-serif" fill="#000" >36</text>
<text x="1209.8" y="311.4" font-size="10" font-family="'Liberation Sans',sans-serif" fill="#000" >38</text>
<text x="1209.8" y="294.8" font-size="10" font-family="'Liberation Sans',sans-serif" fill="#000" >40</text>
<text x="1209.8" y="279" font-size="10" font-family="'Liberation Sans',sans-serif" fill="#000" >42</text>
<text x="1209.8" y="263.9" font-size="10" font-family="'Liberation Sans',sans-serif" fill="#000" >44</text>
<text x="1209.8" y="249.5" font-size="10" font-family="'Liberation Sans',sans-serif" fill="#000" >46</text>
<text x="1209.8" y="222.5" font-size="10" font-family="'Liberation Sans',sans-serif" fill="#000" >50</text>
<text x="1209.8" y="197.6" font-size="10" font-family="'Liberation Sans',sans-serif" fill="#000" >54</text>
<text x="1209.8" y="185.8" font-size="10" font-family="'Liberation Sans',sans-serif" fill="#000" >56</text>
<path d="M1206.5 736.3h2M1206.5 727.6h2M1206.5 719h2M1206.5 710.4h2M1206.5 701.7h2M1206.5 693.1h2M1206.5 684.4h2M1206.5 675.8h2M1206.5 667.1h2M1206.5 658.5h2M1206.5 649.8h2M1206.5 641.2h2M1206.5 632.5h2M1206.5 623.9h2M1206.5 615.3h2M1206.5 606.6h2M1206.5 736.3h3.5M1206.5 719h3.5M1206.5 701.7h3.5M1206.5 684.4h3.5M1206.5 667.1h3.5M1206.5 649.8h3.5M1206.5 632.5h3.5M1206.5 615.3h3.5" stroke="#84849a" stroke-width="1" fill="none"/>
<text x="1218.6" y="739.6" font-size="10" font-family="'Liberation Sans',sans-serif" fill="#000" text-anchor="end" >-1</text>
<text x="1218.6" y="722.3" font-size="10" font-family="'Liberation Sans',sans-serif" fill="#000" text-anchor="end" >0</text>
<text x="1218.6" y="705" font-size="10" font-family="'Liberation Sans',sans-serif" fill="#000" text-anchor="end" >1</text>
<text x="1218.6" y="687.7" font-size="10" font-family="'Liberation Sans',sans-serif" fill="#000" text-anchor="end" >2</text>
<text x="1218.6" y="670.4" font-size="10" font-family="'Liberation Sans',sans-serif" fill="#000" text-anchor="end" >3</text>
<text x="1218.6" y="653.1" font-size="10" font-family="'Liberation Sans',sans-serif" fill="#000" text-anchor="end" >4</text>
<text x="1218.6" y="635.8" font-size="10" font-family="'Liberation Sans',sans-serif" fill="#000" text-anchor="end" >5</text>
<text x="1218.6" y="618.6" font-size="10" font-family="'Liberation Sans',sans-serif" fill="#000" text-anchor="end" >6</text>
<path d="M1206.5 887.8h2M1206.5 884.8h2M1206.5 881.9h2M1206.5 878.9h2M1206.5 876h2M1206.5 873.1h2M1206.5 870.1h2M1206.5 867.2h2M1206.5 864.2h2M1206.5 861.3h2M1206.5 858.4h2M1206.5 855.4h2M1206.5 852.5h2M1206.5 849.6h2M1206.5 846.6h2M1206.5 843.7h2M1206.5 840.8h2M1206.5 837.8h2M1206.5 834.9h2M1206.5 831.9h2M1206.5 829h2M1206.5 826.1h2M1206.5 823.1h2M1206.5 820.2h2M1206.5 817.2h2M1206.5 814.3h2M1206.5 811.4h2M1206.5 808.4h2M1206.5 805.5h2M1206.5 802.6h2M1206.5 799.6h2M1206.5 796.7h2M1206.5 793.8h2M1206.5 790.8h2M1206.5 787.9h2M1206.5 784.9h2M1206.5 782h2M1206.5 779.1h2M1206.5 776.1h2M1206.5 773.2h2M1206.5 770.2h2M1206.5 767.3h2M1206.5 764.4h2M1206.5 761.4h2M1206.5 758.5h2M1206.5 755.6h2M1206.5 881.9h3.5M1206.5 867.2h3.5M1206.5 852.5h3.5M1206.5 837.8h3.5M1206.5 823.1h3.5M1206.5 808.4h3.5M1206.5 793.8h3.5M1206.5 779.1h3.5M1206.5 764.4h3.5" stroke="#84849a" stroke-width="1" fill="none"/>
<text x="1233.2" y="885.2" font-size="10" font-family="'Liberation Sans',sans-serif" fill="#000" text-anchor="end" >-0.50</text>
<text x="1233.2" y="870.5" font-size="10" font-family="'Liberation Sans',sans-serif" fill="#000" text-anchor="end" >-0.25</text>
<text x="1233.2" y="855.8" font-size="10" font-family="'Liberation Sans',sans-serif" fill="#000" text-anchor="end" >0.00</text>
<text x="1233.2" y="841.1" font-size="10" font-family="'Liberation Sans',sans-serif" fill="#000" text-anchor="end" >0.25</text>
<text x="1233.2" y="826.4" font-size="10" font-family="'Liberation Sans',sans-serif" fill="#000" text-anchor="end" >0.50</text>
<text x="1233.2" y="811.7" font-size="10" font-family="'Liberation Sans',sans-serif" fill="#000" text-anchor="end" >0.75</text>
<text x="1233.2" y="797" font-size="10" font-family="'Liberation Sans',sans-serif" fill="#000" text-anchor="end" >1.00</text>
<text x="1233.2" y="767.7" font-size="10" font-family="'Liberation Sans',sans-serif" fill="#000" text-anchor="end" >1.50</text>
<path d="M1206.5 1030.4h2M1206.5 1023.9h2M1206.5 1017.4h2M1206.5 1010.9h2M1206.5 1004.4h2M1206.5 997.9h2M1206.5 991.4h2M1206.5 984.9h2M1206.5 978.4h2M1206.5 971.9h2M1206.5 965.4h2M1206.5 958.9h2M1206.5 952.4h2M1206.5 945.9h2M1206.5 939.4h2M1206.5 932.9h2M1206.5 926.4h2M1206.5 919.9h2M1206.5 913.4h2M1206.5 906.9h2M1206.5 900.4h2M1206.5 926.4h3.5M1206.5 965.4h3.5M1206.5 1004.4h3.5" stroke="#84849a" stroke-width="1" fill="none"/>
<text x="1209.8" y="929.7" font-size="10" font-family="'Liberation Sans',sans-serif" fill="#000" >80</text>
<text x="1209.8" y="968.7" font-size="10" font-family="'Liberation Sans',sans-serif" fill="#000" >50</text>
<text x="1209.8" y="1007.7" font-size="10" font-family="'Liberation Sans',sans-serif" fill="#000" >20</text>
<path d="M1206.5 1180.7h2M1206.5 1170.5h2M1206.5 1160.3h2M1206.5 1150.1h2M1206.5 1139.9h2M1206.5 1129.8h2M1206.5 1119.6h2M1206.5 1109.4h2M1206.5 1099.2h2M1206.5 1089h2M1206.5 1078.8h2M1206.5 1068.6h2M1206.5 1058.4h2M1206.5 1048.2h2M1206.5 1160.3h3.5M1206.5 1139.9h3.5M1206.5 1119.6h3.5M1206.5 1099.2h3.5M1206.5 1078.8h3.5M1206.5 1058.4h3.5" stroke="#84849a" stroke-width="1" fill="none"/>
<text x="1209.8" y="1163.6" font-size="10" font-family="'Liberation Sans',sans-serif" fill="#000" >10</text>
<text x="1209.8" y="1143.2" font-size="10" font-family="'Liberation Sans',sans-serif" fill="#000" >20</text>
<text x="1209.8" y="1122.9" font-size="10" font-family="'Liberation Sans',sans-serif" fill="#000" >30</text>
<text x="1209.8" y="1102.5" font-size="10" font-family="'Liberation Sans',sans-serif" fill="#000" >40</text>
<text x="1209.8" y="1082.1" font-size="10" font-family="'Liberation Sans',sans-serif" fill="#000" >50</text>
<text x="1209.8" y="1061.7" font-size="10" font-family="'Liberation Sans',sans-serif" fill="#000" >60</text>
<polygon points="1204.2,63.4 1208,58.5 1237.6,58.5 1237.6,68.3 1208,68.3" fill="#fff" stroke="#000" stroke-width="1.1"/>
<text x="1209.2" y="66.9" font-size="10" font-family="'Liberation Sans',sans-serif" fill="#000" textLength="26.6" lengthAdjust="spacing" >78.54</text>
<polygon points="1204.2,203.7 1208,198.8 1237.6,198.8 1237.6,208.6 1208,208.6" fill="#fff" stroke="#8c9aa0" stroke-width="1.1"/>
<text x="1209.2" y="207.2" font-size="10" font-family="'Liberation Sans',sans-serif" fill="#000" textLength="26.6" lengthAdjust="spacing" >52.39</text>
<polygon points="1204.2,269.6 1208,264.7 1237.6,264.7 1237.6,274.5 1208,274.5" fill="#fff" stroke="#d2143c" stroke-width="1.1"/>
<text x="1209.2" y="273.1" font-size="10" font-family="'Liberation Sans',sans-serif" fill="#000" textLength="26.6" lengthAdjust="spacing" >42.75</text>
<polygon points="1204.2,339.7 1208,334.8 1237.6,334.8 1237.6,344.6 1208,344.6" fill="#fff" stroke="#8c9aa0" stroke-width="1.1"/>
<text x="1209.2" y="343.2" font-size="10" font-family="'Liberation Sans',sans-serif" fill="#000" textLength="26.6" lengthAdjust="spacing" >34.42</text>
<polygon points="1204.2,423.4 1208,418.5 1237.6,418.5 1237.6,428.3 1208,428.3" fill="#fff" stroke="#0f6b1a" stroke-width="1.1"/>
<text x="1209.2" y="426.9" font-size="10" font-family="'Liberation Sans',sans-serif" fill="#000" textLength="26.6" lengthAdjust="spacing" >26.58</text>
<polygon points="1204.2,469.5 1208,464.6 1237.6,464.6 1237.6,474.4 1208,474.4" fill="#fff" stroke="#20206a" stroke-width="1.1"/>
<text x="1209.2" y="473" font-size="10" font-family="'Liberation Sans',sans-serif" fill="#000" textLength="26.6" lengthAdjust="spacing" >23.05</text>
<polygon points="1204.2,578.6 1208,573.7 1237.6,573.7 1237.6,583.5 1208,583.5" fill="#fff" stroke="#8c9aa0" stroke-width="1.1"/>
<text x="1209.2" y="582.1" font-size="10" font-family="'Liberation Sans',sans-serif" fill="#000" textLength="26.6" lengthAdjust="spacing" >16.45</text>
<polygon points="1204,231.9 1208,226.2 1237.8,226.2 1237.8,237.6 1208,237.6" fill="#fff" stroke="#000" stroke-width="1.3"/>
<text x="1209" y="235.6" font-size="11" font-family="'Liberation Serif',serif" font-weight="bold" textLength="26.4" lengthAdjust="spacingAndGlyphs" fill="#000">48.04</text>
<polygon points="1204.2,608.4 1208,603.5 1237.6,603.5 1237.6,613.3 1208,613.3" fill="#fff" stroke="#000" stroke-width="1.1"/>
<text x="1209.2" y="611.9" font-size="10" font-family="'Liberation Sans',sans-serif" fill="#000" textLength="26.6" lengthAdjust="spacing" >6.320</text>
<polygon points="1204.2,631.6 1208,626.7 1237.6,626.7 1237.6,636.5 1208,636.5" fill="#fff" stroke="#f01818" stroke-width="1.1"/>
<text x="1209.2" y="635.1" font-size="10" font-family="'Liberation Sans',sans-serif" fill="#000" textLength="26.6" lengthAdjust="spacing" >5.033</text>
<polygon points="1204.2,695.5 1208,690.6 1237.6,690.6 1237.6,700.4 1208,700.4" fill="#fff" stroke="#3a50b0" stroke-width="1.1"/>
<text x="1209.2" y="699" font-size="10" font-family="'Liberation Sans',sans-serif" fill="#000" textLength="26.6" lengthAdjust="spacing" >1.287</text>
<polygon points="1204.2,775.6 1208,770.7 1237.6,770.7 1237.6,780.5 1208,780.5" fill="#fff" stroke="#3a50b0" stroke-width="1.1"/>
<text x="1209.2" y="779.1" font-size="10" font-family="'Liberation Sans',sans-serif" fill="#000" textLength="26.6" lengthAdjust="spacing" >1.287</text>
<polygon points="1204.2,923.5 1208,918.6 1237.6,918.6 1237.6,928.4 1208,928.4" fill="#fff" stroke="#f01818" stroke-width="1.1"/>
<text x="1209.2" y="927" font-size="10" font-family="'Liberation Sans',sans-serif" fill="#000" textLength="26.6" lengthAdjust="spacing" >81.52</text>
<polygon points="1204.2,932 1208,927.1 1237.6,927.1 1237.6,936.9 1208,936.9" fill="#fff" stroke="#000" stroke-width="1.1"/>
<text x="1209.2" y="935.5" font-size="10" font-family="'Liberation Sans',sans-serif" fill="#000" textLength="26.6" lengthAdjust="spacing" >75.07</text>
<polygon points="1204.2,1065.3 1208,1060.4 1237.6,1060.4 1237.6,1070.2 1208,1070.2" fill="#fff" stroke="#000" stroke-width="1.1"/>
<text x="1209.2" y="1068.8" font-size="10" font-family="'Liberation Sans',sans-serif" fill="#000" textLength="26.6" lengthAdjust="spacing" >56.37</text>
<polygon points="1204.2,1103.3 1208,1098.4 1237.6,1098.4 1237.6,1108.2 1208,1108.2" fill="#fff" stroke="#0e6a3c" stroke-width="1.1"/>
<text x="1209.2" y="1106.8" font-size="10" font-family="'Liberation Sans',sans-serif" fill="#000" textLength="26.6" lengthAdjust="spacing" >37.84</text>
<polygon points="1204.2,1147.5 1208,1142.6 1237.6,1142.6 1237.6,1152.4 1208,1152.4" fill="#fff" stroke="#a41446" stroke-width="1.1"/>
<text x="1209.2" y="1151" font-size="10" font-family="'Liberation Sans',sans-serif" fill="#000" textLength="26.6" lengthAdjust="spacing" >16.08</text>
<polygon points="19.3,38.8 23.3,30.8 25.3,36 27.5,32.8 27.5,38.8" fill="#6b9070"/><polyline points="19.3,38.8 23.3,30.6 25.3,36 27.5,32.6 27.5,38.8" stroke="#000" stroke-width="1.3" fill="none"/>
<text x="31.4" y="39" font-size="9.8" font-family="'DejaVu Sans',sans-serif" textLength="78.6" lengthAdjust="spacing"><tspan fill="#000">RSI(14) 78.54</tspan></text>
<rect x="17.5" y="186.5" width="152" height="10.5" fill="rgba(255,255,255,0.25)"/>
<rect x="17.5" y="197" width="73" height="11" fill="rgba(255,255,255,0.25)"/>
<rect x="17.5" y="208" width="73" height="11" fill="rgba(255,255,255,0.25)"/>
<rect x="17.5" y="219" width="78" height="11" fill="rgba(255,255,255,0.25)"/>
<path d="M20.4 176v7.4M23.5 179v5M26.8 175.8v8" stroke="#000" stroke-width="1" fill="none"/><rect x="19.5" y="177.4" width="1.8" height="4.6" fill="#fff" stroke="#000" stroke-width="1"/><rect x="22" y="179.6" width="3" height="3.9" fill="#000"/><rect x="25.9" y="176.9" width="1.8" height="5.6" fill="#fff" stroke="#000" stroke-width="1"/>
<text x="32" y="184.2" font-size="9.8" font-family="'DejaVu Sans',sans-serif" textLength="113" lengthAdjust="spacing"><tspan fill="#000">$VIX (60 min) 48.04</tspan></text>
<polygon points="19,194.8 23.3,186.2 25,190.2 27.5,188.5 27.9,194.8" fill="#bcc2cb"/>
<text x="29.6" y="195" font-size="9.6" font-family="'DejaVu Sans Condensed','DejaVu Sans','Liberation Sans',sans-serif" fill="#8a9a9c" textLength="138" lengthAdjust="spacingAndGlyphs" >BB(20,2.0) 16.45 - 34.42 - 52.39</text>
<line x1="19" y1="202.3" x2="27.4" y2="202.3" stroke="#d2143c" stroke-width="1.8" />
<text x="29.6" y="206" font-size="9.6" font-family="'DejaVu Sans Condensed','DejaVu Sans','Liberation Sans',sans-serif" fill="#d2143c" textLength="58.6" lengthAdjust="spacingAndGlyphs" >MA(10) 42.75</text>
<line x1="19" y1="213.3" x2="27.4" y2="213.3" stroke="#0f6b1a" stroke-width="1.8" />
<text x="29.6" y="217" font-size="9.6" font-family="'DejaVu Sans Condensed','DejaVu Sans','Liberation Sans',sans-serif" fill="#0f6b1a" textLength="58.6" lengthAdjust="spacingAndGlyphs" >MA(50) 26.58</text>
<line x1="19" y1="224.3" x2="27.4" y2="224.3" stroke="#20206a" stroke-width="1.8" />
<text x="29.6" y="228" font-size="9.6" font-family="'DejaVu Sans Condensed','DejaVu Sans','Liberation Sans',sans-serif" fill="#20206a" textLength="63.6" lengthAdjust="spacingAndGlyphs" >MA(200) 23.05</text>
<line x1="19" y1="609" x2="27.4" y2="609" stroke="#000" stroke-width="2.2" />
<text x="31.6" y="612.6" font-size="9.8" font-family="'DejaVu Sans',sans-serif" textLength="199.4" lengthAdjust="spacing"><tspan fill="#000">MACD(12,26,9) 6.320</tspan><tspan fill="#f01818">, 5.033</tspan><tspan fill="#3a96cc">, 1.287</tspan></text>
<rect x="19" y="753.2" width="3" height="4.8" fill="#28309a"/><rect x="22" y="749.2" width="3" height="8.8" fill="#28309a"/><rect x="25" y="751" width="3" height="7" fill="#28309a"/><path d="M20.5 754.2v3.8M23.5 750.2v7.8M26.5 752v6" stroke="#8ec8e0" stroke-width="0.9" fill="none"/>
<text x="31.6" y="757.6" font-size="9.8" font-family="'DejaVu Sans',sans-serif" textLength="144.4" lengthAdjust="spacing"><tspan fill="#000">MACD(12,26,9) Hist 1.287</tspan></text>
<line x1="19" y1="899" x2="27.4" y2="899" stroke="#000" stroke-width="2.2" />
<text x="31.6" y="902.6" font-size="9.8" font-family="'DejaVu Sans',sans-serif" textLength="217.4" lengthAdjust="spacing"><tspan fill="#000">Full STO %K(14,3) %D(3) 75.07, </tspan><tspan fill="#f01818">81.52</tspan></text>
<line x1="19" y1="1044.4" x2="27.4" y2="1044.4" stroke="#000" stroke-width="2.2" />
<text x="31.6" y="1048" font-size="9.8" font-family="'DejaVu Sans',sans-serif" textLength="199.4" lengthAdjust="spacing"><tspan fill="#000">ADX(14) 56.37 </tspan><tspan fill="#0e6a3c">+DI 37.84 </tspan><tspan fill="#a41446">-DI 16.08</tspan></text>
<text x="16.2" y="13.3" font-size="13.2" font-family="'Liberation Sans',sans-serif" fill="#000" font-weight="bold" textLength="28.2" lengthAdjust="spacing" >$VIX</text>
<text x="48.9" y="12.6" font-size="11" font-family="'Liberation Sans',sans-serif" fill="#000" textLength="164.2" lengthAdjust="spacing" >Volatility Index - New Methodology</text>
<text x="220" y="12.6" font-size="8.6" font-family="'Liberation Sans',sans-serif" fill="#000" textLength="22.2" lengthAdjust="spacing" >INDX</text>
<text x="16.2" y="26" font-size="11" font-family="'Liberation Sans',sans-serif" fill="#000" textLength="96" lengthAdjust="spacing" >7-Apr-2025 11:52am</text>
<text x="853.5" y="26" font-size="11" font-family="'Liberation Sans',sans-serif" fill="#000" font-weight="bold" textLength="28.5" lengthAdjust="spacing" >Open</text>
<text x="886" y="26" font-size="11" font-family="'Liberation Sans',sans-serif" fill="#000" textLength="26.5" lengthAdjust="spacing" >60.13</text>
<text x="918.5" y="26" font-size="11" font-family="'Liberation Sans',sans-serif" fill="#000" font-weight="bold" textLength="23.5" lengthAdjust="spacing" >High</text>
<text x="945.5" y="26" font-size="11" font-family="'Liberation Sans',sans-serif" fill="#000" textLength="26.5" lengthAdjust="spacing" >60.13</text>
<text x="978.5" y="26" font-size="11" font-family="'Liberation Sans',sans-serif" fill="#000" font-weight="bold" textLength="23.5" lengthAdjust="spacing" >Low</text>
<text x="1006.5" y="26" font-size="11" font-family="'Liberation Sans',sans-serif" fill="#000" textLength="26.5" lengthAdjust="spacing" >38.58</text>
<text x="1039" y="26" font-size="11" font-family="'Liberation Sans',sans-serif" fill="#000" font-weight="bold" textLength="23" lengthAdjust="spacing" >Last</text>
<text x="1066" y="26" font-size="11" font-family="'Liberation Sans',sans-serif" fill="#000" textLength="27" lengthAdjust="spacing" >48.04</text>
<text x="1099" y="26" font-size="11" font-family="'Liberation Sans',sans-serif" fill="#000" font-weight="bold" textLength="22" lengthAdjust="spacing" >Chg</text>
<text x="1124" y="26" font-size="11" font-family="'Liberation Sans',sans-serif" fill="#000" textLength="72" lengthAdjust="spacing" >+2.73 (+6.03%)</text>
<polygon points="1200,25.5 1203.2,21 1206.4,25.5" fill="#2e6b3a"/>
<text x="1117.5" y="13" font-size="10.6" font-family="'DejaVu Sans','Liberation Sans',sans-serif" fill="#666" textLength="89" lengthAdjust="spacing" >© StockCharts.com</text>
</svg>
</body></html>
